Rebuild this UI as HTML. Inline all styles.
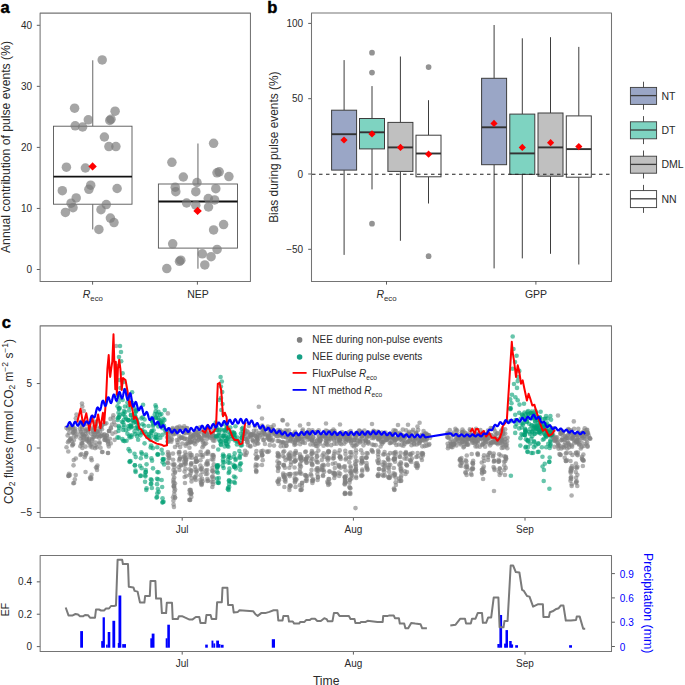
<!DOCTYPE html>
<html><head><meta charset="utf-8"><style>
html,body{margin:0;padding:0;background:#fff;width:685px;height:685px;overflow:hidden}
svg{display:block}
text{font-family:"Liberation Sans",sans-serif}
</style></head><body>
<svg width="685" height="685" viewBox="0 0 685 685">
<rect width="685" height="685" fill="#fff"/>
<text x="0.6" y="12.6" font-size="16.5" font-weight="bold" stroke="#000" stroke-width="0.45" font-family="Liberation Sans, sans-serif" fill="#000">a</text>
<line x1="36.8" x2="40.1" y1="269.5" y2="269.5" stroke="#333" stroke-width="0.8"/>
<text x="32" y="273" font-size="10" text-anchor="end" font-family="Liberation Sans, sans-serif" fill="#2a2a2a">0</text>
<line x1="36.8" x2="40.1" y1="208.45" y2="208.45" stroke="#333" stroke-width="0.8"/>
<text x="32" y="211.95" font-size="10" text-anchor="end" font-family="Liberation Sans, sans-serif" fill="#2a2a2a">10</text>
<line x1="36.8" x2="40.1" y1="147.4" y2="147.4" stroke="#333" stroke-width="0.8"/>
<text x="32" y="150.9" font-size="10" text-anchor="end" font-family="Liberation Sans, sans-serif" fill="#2a2a2a">20</text>
<line x1="36.8" x2="40.1" y1="86.35" y2="86.35" stroke="#333" stroke-width="0.8"/>
<text x="32" y="89.85" font-size="10" text-anchor="end" font-family="Liberation Sans, sans-serif" fill="#2a2a2a">30</text>
<line x1="36.8" x2="40.1" y1="25.3" y2="25.3" stroke="#333" stroke-width="0.8"/>
<text x="32" y="28.8" font-size="10" text-anchor="end" font-family="Liberation Sans, sans-serif" fill="#2a2a2a">40</text>
<line x1="92.75" x2="92.75" y1="60.3" y2="126.2" stroke="#555" stroke-width="0.9"/>
<line x1="92.75" x2="92.75" y1="204.2" y2="229.4" stroke="#555" stroke-width="0.9"/>
<rect x="53.5" y="126.2" width="78.5" height="78" fill="#fff" stroke="#555" stroke-width="0.9"/>
<line x1="53.5" x2="132" y1="176.6" y2="176.6" stroke="#111" stroke-width="1.9"/>
<line x1="197.95" x2="197.95" y1="143.5" y2="184" stroke="#555" stroke-width="0.9"/>
<line x1="197.95" x2="197.95" y1="248.1" y2="268.7" stroke="#555" stroke-width="0.9"/>
<rect x="158.4" y="184" width="79.1" height="64.1" fill="#fff" stroke="#555" stroke-width="0.9"/>
<line x1="158.4" x2="237.5" y1="201.5" y2="201.5" stroke="#111" stroke-width="1.9"/>
<g fill="#7a7a7a" fill-opacity="0.68">
<circle cx="102.2" cy="59.9" r="4.75"/>
<circle cx="74.6" cy="108.2" r="4.75"/>
<circle cx="115.1" cy="111.2" r="4.75"/>
<circle cx="88.3" cy="119.8" r="4.75"/>
<circle cx="109.8" cy="120.4" r="4.75"/>
<circle cx="111" cy="119.2" r="4.75"/>
<circle cx="75.2" cy="125.8" r="4.75"/>
<circle cx="82.6" cy="127" r="4.75"/>
<circle cx="104.4" cy="137" r="4.75"/>
<circle cx="108.9" cy="146.6" r="4.75"/>
<circle cx="115.9" cy="146.6" r="4.75"/>
<circle cx="66.4" cy="167.2" r="4.75"/>
<circle cx="85.4" cy="168" r="4.75"/>
<circle cx="90.7" cy="185.2" r="4.75"/>
<circle cx="88.9" cy="189.3" r="4.75"/>
<circle cx="62.3" cy="190.7" r="4.75"/>
<circle cx="117.1" cy="188.5" r="4.75"/>
<circle cx="76.2" cy="197.9" r="4.75"/>
<circle cx="71.1" cy="203.2" r="4.75"/>
<circle cx="73" cy="207.7" r="4.75"/>
<circle cx="106.3" cy="204.6" r="4.75"/>
<circle cx="101" cy="209.7" r="4.75"/>
<circle cx="65.4" cy="212.4" r="4.75"/>
<circle cx="110.4" cy="218.1" r="4.75"/>
<circle cx="114" cy="222.6" r="4.75"/>
<circle cx="98.9" cy="229.4" r="4.75"/>
<circle cx="213.6" cy="143.3" r="4.75"/>
<circle cx="171.9" cy="162.3" r="4.75"/>
<circle cx="217" cy="172.8" r="4.75"/>
<circle cx="219.2" cy="171.8" r="4.75"/>
<circle cx="228.9" cy="176.6" r="4.75"/>
<circle cx="183.3" cy="177" r="4.75"/>
<circle cx="197" cy="182.5" r="4.75"/>
<circle cx="175.2" cy="187.2" r="4.75"/>
<circle cx="175.8" cy="191.7" r="4.75"/>
<circle cx="215.8" cy="188.7" r="4.75"/>
<circle cx="195.8" cy="191.7" r="4.75"/>
<circle cx="208.3" cy="198.5" r="4.75"/>
<circle cx="214.6" cy="199.9" r="4.75"/>
<circle cx="186.6" cy="203" r="4.75"/>
<circle cx="195.8" cy="205.2" r="4.75"/>
<circle cx="208.5" cy="207" r="4.75"/>
<circle cx="223.6" cy="224.6" r="4.75"/>
<circle cx="213.6" cy="229.9" r="4.75"/>
<circle cx="172.7" cy="243.8" r="4.75"/>
<circle cx="217.1" cy="249.4" r="4.75"/>
<circle cx="202.3" cy="253.8" r="4.75"/>
<circle cx="211.1" cy="256.7" r="4.75"/>
<circle cx="179.5" cy="261.3" r="4.75"/>
<circle cx="180.8" cy="260.2" r="4.75"/>
<circle cx="204.8" cy="264.9" r="4.75"/>
<circle cx="166.8" cy="268.6" r="4.75"/>
</g>
<path d="M92.6 162.2L96.8 166.4L92.6 170.6L88.4 166.4Z" fill="#ff0000"/>
<path d="M197.6 206.7L201.8 210.9L197.6 215.1L193.4 210.9Z" fill="#ff0000"/>
<rect x="40.1" y="13.1" width="210.35" height="268.35" fill="none" stroke="#747474" stroke-width="1.05" stroke-linejoin="round"/>
<line x1="92.6" x2="92.6" y1="281.45" y2="284.65" stroke="#333" stroke-width="0.8"/>
<line x1="197.4" x2="197.4" y1="281.45" y2="284.65" stroke="#333" stroke-width="0.8"/>
<text x="92.8" y="297.8" font-size="10.5" text-anchor="middle" font-family="Liberation Sans, sans-serif" fill="#2a2a2a"><tspan font-style="italic">R</tspan><tspan font-size="7.8" dy="3.3">eco</tspan></text>
<text x="198" y="297.8" font-size="10.5" text-anchor="middle" font-family="Liberation Sans, sans-serif" fill="#2a2a2a">NEP</text>
<text transform="translate(9.9,147) rotate(-90)" font-size="12.2" text-anchor="middle" font-family="Liberation Sans, sans-serif" fill="#2a2a2a">Annual contribution of pulse events (%)</text>
<text x="267.3" y="12.8" font-size="16.5" font-weight="bold" stroke="#000" stroke-width="0.45" font-family="Liberation Sans, sans-serif" fill="#000">b</text>
<line x1="308.2" x2="311.5" y1="249.3" y2="249.3" stroke="#333" stroke-width="0.8"/>
<text x="303.1" y="252.8" font-size="10" text-anchor="end" font-family="Liberation Sans, sans-serif" fill="#2a2a2a">−50</text>
<line x1="308.2" x2="311.5" y1="174" y2="174" stroke="#333" stroke-width="0.8"/>
<text x="303.1" y="177.5" font-size="10" text-anchor="end" font-family="Liberation Sans, sans-serif" fill="#2a2a2a">0</text>
<line x1="308.2" x2="311.5" y1="98.7" y2="98.7" stroke="#333" stroke-width="0.8"/>
<text x="303.1" y="102.2" font-size="10" text-anchor="end" font-family="Liberation Sans, sans-serif" fill="#2a2a2a">50</text>
<line x1="308.2" x2="311.5" y1="23.4" y2="23.4" stroke="#333" stroke-width="0.8"/>
<text x="303.1" y="26.9" font-size="10" text-anchor="end" font-family="Liberation Sans, sans-serif" fill="#2a2a2a">100</text>
<line x1="344.1" x2="344.1" y1="60.1" y2="110.2" stroke="#3d3d3d" stroke-width="1.0"/>
<line x1="344.1" x2="344.1" y1="170.1" y2="254.9" stroke="#3d3d3d" stroke-width="1.0"/>
<rect x="331.6" y="110.2" width="25" height="59.9" fill="#9aa6c6" stroke="#3d3d3d" stroke-width="1.0"/>
<line x1="331.6" x2="356.6" y1="134.2" y2="134.2" stroke="#333" stroke-width="1.9"/>
<line x1="372" x2="372" y1="86.1" y2="118.5" stroke="#3d3d3d" stroke-width="1.0"/>
<line x1="372" x2="372" y1="148.9" y2="189.4" stroke="#3d3d3d" stroke-width="1.0"/>
<rect x="359.5" y="118.5" width="25" height="30.4" fill="#7ed3c1" stroke="#3d3d3d" stroke-width="1.0"/>
<line x1="359.5" x2="384.5" y1="132.3" y2="132.3" stroke="#333" stroke-width="1.9"/>
<line x1="400.4" x2="400.4" y1="56.5" y2="122.4" stroke="#3d3d3d" stroke-width="1.0"/>
<line x1="400.4" x2="400.4" y1="171.4" y2="240.8" stroke="#3d3d3d" stroke-width="1.0"/>
<rect x="387.9" y="122.4" width="25" height="49" fill="#c0c0c0" stroke="#3d3d3d" stroke-width="1.0"/>
<line x1="387.9" x2="412.9" y1="147.4" y2="147.4" stroke="#333" stroke-width="1.9"/>
<line x1="428.5" x2="428.5" y1="100.2" y2="135.2" stroke="#3d3d3d" stroke-width="1.0"/>
<line x1="428.5" x2="428.5" y1="176.8" y2="203.5" stroke="#3d3d3d" stroke-width="1.0"/>
<rect x="416" y="135.2" width="25" height="41.6" fill="#ffffff" stroke="#3d3d3d" stroke-width="1.0"/>
<line x1="416" x2="441" y1="153.5" y2="153.5" stroke="#333" stroke-width="1.9"/>
<line x1="494.1" x2="494.1" y1="25" y2="78.3" stroke="#3d3d3d" stroke-width="1.0"/>
<line x1="494.1" x2="494.1" y1="164.7" y2="268.4" stroke="#3d3d3d" stroke-width="1.0"/>
<rect x="481.6" y="78.3" width="25" height="86.4" fill="#9aa6c6" stroke="#3d3d3d" stroke-width="1.0"/>
<line x1="481.6" x2="506.6" y1="127.3" y2="127.3" stroke="#333" stroke-width="1.9"/>
<line x1="522.3" x2="522.3" y1="38.3" y2="114.1" stroke="#3d3d3d" stroke-width="1.0"/>
<line x1="522.3" x2="522.3" y1="174.4" y2="258.4" stroke="#3d3d3d" stroke-width="1.0"/>
<rect x="509.8" y="114.1" width="25" height="60.3" fill="#7ed3c1" stroke="#3d3d3d" stroke-width="1.0"/>
<line x1="509.8" x2="534.8" y1="153.4" y2="153.4" stroke="#333" stroke-width="1.9"/>
<line x1="550.5" x2="550.5" y1="37.2" y2="113" stroke="#3d3d3d" stroke-width="1.0"/>
<line x1="550.5" x2="550.5" y1="176.2" y2="253.8" stroke="#3d3d3d" stroke-width="1.0"/>
<rect x="538" y="113" width="25" height="63.2" fill="#c0c0c0" stroke="#3d3d3d" stroke-width="1.0"/>
<line x1="538" x2="563" y1="147.4" y2="147.4" stroke="#333" stroke-width="1.9"/>
<line x1="578.8" x2="578.8" y1="46.9" y2="115.9" stroke="#3d3d3d" stroke-width="1.0"/>
<line x1="578.8" x2="578.8" y1="177.2" y2="264.5" stroke="#3d3d3d" stroke-width="1.0"/>
<rect x="566.3" y="115.9" width="25" height="61.3" fill="#ffffff" stroke="#3d3d3d" stroke-width="1.0"/>
<line x1="566.3" x2="591.3" y1="149.1" y2="149.1" stroke="#333" stroke-width="1.9"/>
<g fill="#939393">
<circle cx="372" cy="52.7" r="2.85"/>
<circle cx="372" cy="72.6" r="2.85"/>
<circle cx="372" cy="223.7" r="2.85"/>
<circle cx="428.6" cy="67.1" r="2.85"/>
<circle cx="428.6" cy="256.2" r="2.85"/>
</g>
<path d="M344 136.4L347.6 140L344 143.6L340.4 140Z" fill="#ff0000"/>
<path d="M372 130.3L375.6 133.9L372 137.5L368.4 133.9Z" fill="#ff0000"/>
<path d="M400.5 143.8L404.1 147.4L400.5 151L396.9 147.4Z" fill="#ff0000"/>
<path d="M428.6 150.6L432.2 154.2L428.6 157.8L425 154.2Z" fill="#ff0000"/>
<path d="M494 119.8L497.6 123.4L494 127L490.4 123.4Z" fill="#ff0000"/>
<path d="M522.3 143.8L525.9 147.4L522.3 151L518.7 147.4Z" fill="#ff0000"/>
<path d="M550.6 139.1L554.2 142.7L550.6 146.3L547 142.7Z" fill="#ff0000"/>
<path d="M578.8 143L582.4 146.6L578.8 150.2L575.2 146.6Z" fill="#ff0000"/>
<line x1="311.5" x2="611.5" y1="174.2" y2="174.2" stroke="#222" stroke-width="1.15" stroke-dasharray="3.5,3.5" stroke-dashoffset="6.5"/>
<rect x="311.5" y="13" width="300" height="268.4" fill="none" stroke="#747474" stroke-width="1.05" stroke-linejoin="round"/>
<line x1="386.5" x2="386.5" y1="281.4" y2="284.6" stroke="#333" stroke-width="0.8"/>
<line x1="535.9" x2="535.9" y1="281.4" y2="284.6" stroke="#333" stroke-width="0.8"/>
<text x="386.5" y="297.8" font-size="10.5" text-anchor="middle" font-family="Liberation Sans, sans-serif" fill="#2a2a2a"><tspan font-style="italic">R</tspan><tspan font-size="7.8" dy="3.3">eco</tspan></text>
<text x="536" y="297.8" font-size="10.5" text-anchor="middle" font-family="Liberation Sans, sans-serif" fill="#2a2a2a">GPP</text>
<text transform="translate(278.2,147.2) rotate(-90)" font-size="11.9" text-anchor="middle" font-family="Liberation Sans, sans-serif" fill="#2a2a2a">Bias during pulse events (%)</text>
<line x1="643.5" x2="643.5" y1="81.7" y2="109.7" stroke="#3d3d3d" stroke-width="0.9"/>
<rect x="630.4" y="87.4" width="26.2" height="17" fill="#9aa6c6" stroke="#3d3d3d" stroke-width="0.9"/>
<line x1="630.4" x2="656.6" y1="95.6" y2="95.6" stroke="#3d3d3d" stroke-width="1.3"/>
<text x="661.5" y="99.6" font-size="10.5" font-family="Liberation Sans, sans-serif" fill="#2a2a2a">NT</text>
<line x1="643.5" x2="643.5" y1="116.1" y2="144.1" stroke="#3d3d3d" stroke-width="0.9"/>
<rect x="630.4" y="121.8" width="26.2" height="17" fill="#7ed3c1" stroke="#3d3d3d" stroke-width="0.9"/>
<line x1="630.4" x2="656.6" y1="130" y2="130" stroke="#3d3d3d" stroke-width="1.3"/>
<text x="661.5" y="134" font-size="10.5" font-family="Liberation Sans, sans-serif" fill="#2a2a2a">DT</text>
<line x1="643.5" x2="643.5" y1="150.5" y2="178.5" stroke="#3d3d3d" stroke-width="0.9"/>
<rect x="630.4" y="156.2" width="26.2" height="17" fill="#c0c0c0" stroke="#3d3d3d" stroke-width="0.9"/>
<line x1="630.4" x2="656.6" y1="164.4" y2="164.4" stroke="#3d3d3d" stroke-width="1.3"/>
<text x="661.5" y="168.4" font-size="10.5" font-family="Liberation Sans, sans-serif" fill="#2a2a2a">DML</text>
<line x1="643.5" x2="643.5" y1="184.9" y2="212.9" stroke="#3d3d3d" stroke-width="0.9"/>
<rect x="630.4" y="190.6" width="26.2" height="17" fill="#ffffff" stroke="#3d3d3d" stroke-width="0.9"/>
<line x1="630.4" x2="656.6" y1="198.8" y2="198.8" stroke="#3d3d3d" stroke-width="1.3"/>
<text x="661.5" y="202.8" font-size="10.5" font-family="Liberation Sans, sans-serif" fill="#2a2a2a">NN</text>
<text x="1.7" y="328.4" font-size="16.5" font-weight="bold" stroke="#000" stroke-width="0.45" font-family="Liberation Sans, sans-serif" fill="#000">c</text>
<line x1="36.8" x2="40.15" y1="512.45" y2="512.45" stroke="#333" stroke-width="0.8"/>
<text x="32" y="515.95" font-size="10" text-anchor="end" font-family="Liberation Sans, sans-serif" fill="#2a2a2a">−5</text>
<line x1="36.8" x2="40.15" y1="448" y2="448" stroke="#333" stroke-width="0.8"/>
<text x="32" y="451.5" font-size="10" text-anchor="end" font-family="Liberation Sans, sans-serif" fill="#2a2a2a">0</text>
<line x1="36.8" x2="40.15" y1="383.55" y2="383.55" stroke="#333" stroke-width="0.8"/>
<text x="32" y="387.05" font-size="10" text-anchor="end" font-family="Liberation Sans, sans-serif" fill="#2a2a2a">5</text>
<line x1="182.2" x2="182.2" y1="517.4" y2="520.6" stroke="#333" stroke-width="0.8"/>
<text x="182.2" y="532.8" font-size="10" text-anchor="middle" font-family="Liberation Sans, sans-serif" fill="#2a2a2a">Jul</text>
<line x1="353.4" x2="353.4" y1="517.4" y2="520.6" stroke="#333" stroke-width="0.8"/>
<text x="353.4" y="532.8" font-size="10" text-anchor="middle" font-family="Liberation Sans, sans-serif" fill="#2a2a2a">Aug</text>
<line x1="525" x2="525" y1="517.4" y2="520.6" stroke="#333" stroke-width="0.8"/>
<text x="525" y="532.8" font-size="10" text-anchor="middle" font-family="Liberation Sans, sans-serif" fill="#2a2a2a">Sep</text>
<text transform="translate(12.5,421.5) rotate(-90)" font-size="11.9" text-anchor="middle" font-family="Liberation Sans, sans-serif" fill="#2a2a2a">CO<tspan font-size="8.5" dy="2.6">2</tspan><tspan dy="-2.6"> fluxes (mmol CO</tspan><tspan font-size="8.5" dy="2.6">2</tspan><tspan dy="-2.6"> m</tspan><tspan font-size="8.5" dy="-5">−2</tspan><tspan dy="5"> s</tspan><tspan font-size="8.5" dy="-5">−1</tspan><tspan dy="5">)</tspan></text>
<g fill="#7f7f7f" fill-opacity="0.62">
<circle cx="68.78" cy="440.98" r="2.3"/>
<circle cx="69.08" cy="433.01" r="2.3"/>
<circle cx="69.76" cy="427.16" r="2.3"/>
<circle cx="67.95" cy="442.29" r="2.3"/>
<circle cx="66.51" cy="447.19" r="2.3"/>
<circle cx="69.89" cy="428.62" r="2.3"/>
<circle cx="66.36" cy="427.87" r="2.3"/>
<circle cx="67.62" cy="435.4" r="2.3"/>
<circle cx="70.93" cy="438.11" r="2.3"/>
<circle cx="69.94" cy="439.67" r="2.3"/>
<circle cx="71.78" cy="441.28" r="2.3"/>
<circle cx="68.02" cy="429.13" r="2.3"/>
<circle cx="70.51" cy="439.18" r="2.3"/>
<circle cx="69.94" cy="474.97" r="2.3"/>
<circle cx="68.29" cy="451.51" r="2.3"/>
<circle cx="68.96" cy="473.8" r="2.3"/>
<circle cx="68.77" cy="475.52" r="2.3"/>
<circle cx="68.61" cy="476" r="2.3"/>
<circle cx="75.27" cy="430.74" r="2.3"/>
<circle cx="72.28" cy="445.53" r="2.3"/>
<circle cx="72.45" cy="426.01" r="2.3"/>
<circle cx="76.2" cy="436.58" r="2.3"/>
<circle cx="72.85" cy="427.27" r="2.3"/>
<circle cx="75.35" cy="431.92" r="2.3"/>
<circle cx="73.29" cy="444.09" r="2.3"/>
<circle cx="73.48" cy="429.27" r="2.3"/>
<circle cx="73.98" cy="440.05" r="2.3"/>
<circle cx="72.35" cy="429.33" r="2.3"/>
<circle cx="73.23" cy="432.22" r="2.3"/>
<circle cx="73.44" cy="432.41" r="2.3"/>
<circle cx="73.14" cy="433.29" r="2.3"/>
<circle cx="74.3" cy="436.09" r="2.3"/>
<circle cx="74.97" cy="428.57" r="2.3"/>
<circle cx="72.65" cy="444.45" r="2.3"/>
<circle cx="73.75" cy="460.11" r="2.3"/>
<circle cx="75.71" cy="475.05" r="2.3"/>
<circle cx="75.73" cy="458.5" r="2.3"/>
<circle cx="74.83" cy="479.41" r="2.3"/>
<circle cx="73.53" cy="465.35" r="2.3"/>
<circle cx="74.1" cy="483" r="2.3"/>
<circle cx="82.63" cy="434.46" r="2.3"/>
<circle cx="81.87" cy="427.56" r="2.3"/>
<circle cx="81.3" cy="432.03" r="2.3"/>
<circle cx="82.03" cy="428.85" r="2.3"/>
<circle cx="82.38" cy="425" r="2.3"/>
<circle cx="79.78" cy="428.63" r="2.3"/>
<circle cx="80.48" cy="438.54" r="2.3"/>
<circle cx="82.73" cy="440.35" r="2.3"/>
<circle cx="80.55" cy="421.74" r="2.3"/>
<circle cx="82.34" cy="447.96" r="2.3"/>
<circle cx="77.44" cy="434.5" r="2.3"/>
<circle cx="81.35" cy="436.04" r="2.3"/>
<circle cx="80.33" cy="446.21" r="2.3"/>
<circle cx="81.39" cy="443.21" r="2.3"/>
<circle cx="82.37" cy="443.2" r="2.3"/>
<circle cx="82.13" cy="444.16" r="2.3"/>
<circle cx="80.48" cy="431.71" r="2.3"/>
<circle cx="80.54" cy="423.25" r="2.3"/>
<circle cx="81.36" cy="454.1" r="2.3"/>
<circle cx="80.46" cy="455" r="2.3"/>
<circle cx="86.86" cy="439.77" r="2.3"/>
<circle cx="85.27" cy="424.26" r="2.3"/>
<circle cx="86.98" cy="436.61" r="2.3"/>
<circle cx="84.11" cy="435.43" r="2.3"/>
<circle cx="86.23" cy="428.91" r="2.3"/>
<circle cx="82.9" cy="433.89" r="2.3"/>
<circle cx="83.78" cy="439.82" r="2.3"/>
<circle cx="85.28" cy="430.83" r="2.3"/>
<circle cx="86.52" cy="438.7" r="2.3"/>
<circle cx="87.89" cy="432.38" r="2.3"/>
<circle cx="86.06" cy="430.54" r="2.3"/>
<circle cx="87.46" cy="441.2" r="2.3"/>
<circle cx="88.08" cy="430.37" r="2.3"/>
<circle cx="84.36" cy="436.04" r="2.3"/>
<circle cx="85.57" cy="446.59" r="2.3"/>
<circle cx="85.34" cy="434.21" r="2.3"/>
<circle cx="83.07" cy="437.41" r="2.3"/>
<circle cx="84.55" cy="422.52" r="2.3"/>
<circle cx="85.48" cy="455.15" r="2.3"/>
<circle cx="86.46" cy="452.98" r="2.3"/>
<circle cx="84.67" cy="457.13" r="2.3"/>
<circle cx="85.94" cy="453.42" r="2.3"/>
<circle cx="85.55" cy="472" r="2.3"/>
<circle cx="91.84" cy="443.8" r="2.3"/>
<circle cx="93.65" cy="427.38" r="2.3"/>
<circle cx="90.98" cy="428.52" r="2.3"/>
<circle cx="92.3" cy="430.34" r="2.3"/>
<circle cx="92.21" cy="440.5" r="2.3"/>
<circle cx="90.53" cy="446.47" r="2.3"/>
<circle cx="88.84" cy="441.5" r="2.3"/>
<circle cx="89.08" cy="442.73" r="2.3"/>
<circle cx="90.44" cy="444.63" r="2.3"/>
<circle cx="93.57" cy="433.56" r="2.3"/>
<circle cx="92.35" cy="439.32" r="2.3"/>
<circle cx="92.32" cy="447.39" r="2.3"/>
<circle cx="93.76" cy="437" r="2.3"/>
<circle cx="93.38" cy="431.41" r="2.3"/>
<circle cx="88.82" cy="439.8" r="2.3"/>
<circle cx="91.05" cy="433.79" r="2.3"/>
<circle cx="92.78" cy="437.16" r="2.3"/>
<circle cx="89.14" cy="438.74" r="2.3"/>
<circle cx="91.61" cy="474.76" r="2.3"/>
<circle cx="91.1" cy="477.56" r="2.3"/>
<circle cx="90.04" cy="477.65" r="2.3"/>
<circle cx="91.19" cy="458.37" r="2.3"/>
<circle cx="91.71" cy="460.19" r="2.3"/>
<circle cx="91.26" cy="479" r="2.3"/>
<circle cx="96.77" cy="436.68" r="2.3"/>
<circle cx="95.6" cy="445.44" r="2.3"/>
<circle cx="95.03" cy="448.12" r="2.3"/>
<circle cx="96.77" cy="431.32" r="2.3"/>
<circle cx="96.66" cy="421.78" r="2.3"/>
<circle cx="99.23" cy="437.82" r="2.3"/>
<circle cx="96.99" cy="431.6" r="2.3"/>
<circle cx="96.85" cy="447.32" r="2.3"/>
<circle cx="95.37" cy="428.85" r="2.3"/>
<circle cx="98.38" cy="434.34" r="2.3"/>
<circle cx="95.63" cy="442.6" r="2.3"/>
<circle cx="94.59" cy="421.64" r="2.3"/>
<circle cx="94.95" cy="435.13" r="2.3"/>
<circle cx="95.84" cy="423.94" r="2.3"/>
<circle cx="97.91" cy="431.65" r="2.3"/>
<circle cx="94.97" cy="432.38" r="2.3"/>
<circle cx="96.16" cy="426.1" r="2.3"/>
<circle cx="97.36" cy="435.83" r="2.3"/>
<circle cx="96.93" cy="467.4" r="2.3"/>
<circle cx="95.94" cy="467.49" r="2.3"/>
<circle cx="97.45" cy="465.46" r="2.3"/>
<circle cx="97.04" cy="470" r="2.3"/>
<circle cx="101.14" cy="435.97" r="2.3"/>
<circle cx="104.91" cy="423.75" r="2.3"/>
<circle cx="100.72" cy="427.27" r="2.3"/>
<circle cx="99.94" cy="431.81" r="2.3"/>
<circle cx="103.76" cy="435.23" r="2.3"/>
<circle cx="99.5" cy="442.31" r="2.3"/>
<circle cx="104.75" cy="437.69" r="2.3"/>
<circle cx="102.18" cy="425.29" r="2.3"/>
<circle cx="99.79" cy="428.25" r="2.3"/>
<circle cx="102.24" cy="424.64" r="2.3"/>
<circle cx="100.53" cy="447.73" r="2.3"/>
<circle cx="104.52" cy="434.19" r="2.3"/>
<circle cx="101.95" cy="429.15" r="2.3"/>
<circle cx="101.98" cy="434.43" r="2.3"/>
<circle cx="99.47" cy="443.64" r="2.3"/>
<circle cx="100.4" cy="436.02" r="2.3"/>
<circle cx="100.48" cy="427.39" r="2.3"/>
<circle cx="104.33" cy="439.73" r="2.3"/>
<circle cx="102.5" cy="451.93" r="2.3"/>
<circle cx="102.06" cy="452" r="2.3"/>
<circle cx="108.23" cy="444.13" r="2.3"/>
<circle cx="106.35" cy="440.1" r="2.3"/>
<circle cx="109.21" cy="430.95" r="2.3"/>
<circle cx="109.87" cy="438.76" r="2.3"/>
<circle cx="109.16" cy="430.96" r="2.3"/>
<circle cx="108.91" cy="430.94" r="2.3"/>
<circle cx="104.98" cy="437.05" r="2.3"/>
<circle cx="106.2" cy="437.98" r="2.3"/>
<circle cx="106.78" cy="435.38" r="2.3"/>
<circle cx="107.86" cy="442.17" r="2.3"/>
<circle cx="108.79" cy="446.46" r="2.3"/>
<circle cx="105.05" cy="439.95" r="2.3"/>
<circle cx="106.34" cy="423.32" r="2.3"/>
<circle cx="106.99" cy="435.61" r="2.3"/>
<circle cx="107.96" cy="440.72" r="2.3"/>
<circle cx="108.04" cy="452.99" r="2.3"/>
<circle cx="107.99" cy="453" r="2.3"/>
<circle cx="110.86" cy="427.66" r="2.3"/>
<circle cx="115.57" cy="425.29" r="2.3"/>
<circle cx="113.18" cy="417.7" r="2.3"/>
<circle cx="115.66" cy="432.31" r="2.3"/>
<circle cx="112.46" cy="433.63" r="2.3"/>
<circle cx="112.01" cy="424.59" r="2.3"/>
<circle cx="110.52" cy="418.89" r="2.3"/>
<circle cx="114.61" cy="439.87" r="2.3"/>
<circle cx="110.72" cy="443.39" r="2.3"/>
<circle cx="110.85" cy="428.46" r="2.3"/>
<circle cx="169.23" cy="436.94" r="2.3"/>
<circle cx="170.41" cy="440.51" r="2.3"/>
<circle cx="167.81" cy="433.77" r="2.3"/>
<circle cx="169.95" cy="431.11" r="2.3"/>
<circle cx="168.67" cy="429.81" r="2.3"/>
<circle cx="168.22" cy="441.56" r="2.3"/>
<circle cx="169.39" cy="429.71" r="2.3"/>
<circle cx="167.75" cy="437.12" r="2.3"/>
<circle cx="167.16" cy="430.11" r="2.3"/>
<circle cx="167.81" cy="441.45" r="2.3"/>
<circle cx="167.12" cy="437.54" r="2.3"/>
<circle cx="167.63" cy="441.64" r="2.3"/>
<circle cx="170.65" cy="433.12" r="2.3"/>
<circle cx="166.1" cy="432.48" r="2.3"/>
<circle cx="169.89" cy="430.16" r="2.3"/>
<circle cx="166.96" cy="433.58" r="2.3"/>
<circle cx="167.91" cy="452.02" r="2.3"/>
<circle cx="168.51" cy="458.5" r="2.3"/>
<circle cx="168.94" cy="453.74" r="2.3"/>
<circle cx="168.99" cy="455.8" r="2.3"/>
<circle cx="167.48" cy="462.49" r="2.3"/>
<circle cx="167.83" cy="454.88" r="2.3"/>
<circle cx="168.15" cy="463.26" r="2.3"/>
<circle cx="169.35" cy="457.88" r="2.3"/>
<circle cx="168.13" cy="468" r="2.3"/>
<circle cx="172.77" cy="427.95" r="2.3"/>
<circle cx="171.3" cy="438.02" r="2.3"/>
<circle cx="175.62" cy="431.86" r="2.3"/>
<circle cx="174.86" cy="429.97" r="2.3"/>
<circle cx="174.96" cy="446.97" r="2.3"/>
<circle cx="175.95" cy="433.31" r="2.3"/>
<circle cx="173.52" cy="430.1" r="2.3"/>
<circle cx="172.97" cy="430.04" r="2.3"/>
<circle cx="173.38" cy="434.57" r="2.3"/>
<circle cx="172.48" cy="433.79" r="2.3"/>
<circle cx="171.99" cy="439.43" r="2.3"/>
<circle cx="175.03" cy="433.69" r="2.3"/>
<circle cx="171.51" cy="431.33" r="2.3"/>
<circle cx="174.39" cy="431.66" r="2.3"/>
<circle cx="171.29" cy="441.76" r="2.3"/>
<circle cx="172.61" cy="429.28" r="2.3"/>
<circle cx="174.22" cy="477.54" r="2.3"/>
<circle cx="173.56" cy="504.48" r="2.3"/>
<circle cx="175.07" cy="483.48" r="2.3"/>
<circle cx="174.25" cy="494.32" r="2.3"/>
<circle cx="173.69" cy="485.96" r="2.3"/>
<circle cx="173.34" cy="474.56" r="2.3"/>
<circle cx="174.91" cy="497.54" r="2.3"/>
<circle cx="174.98" cy="472.69" r="2.3"/>
<circle cx="172.97" cy="453.62" r="2.3"/>
<circle cx="173.42" cy="479.64" r="2.3"/>
<circle cx="175.16" cy="471.5" r="2.3"/>
<circle cx="173.12" cy="459.82" r="2.3"/>
<circle cx="174.39" cy="464.18" r="2.3"/>
<circle cx="172.62" cy="464.52" r="2.3"/>
<circle cx="173.64" cy="481.68" r="2.3"/>
<circle cx="173.9" cy="464.78" r="2.3"/>
<circle cx="174.05" cy="487.58" r="2.3"/>
<circle cx="174.08" cy="486.15" r="2.3"/>
<circle cx="175.14" cy="497.63" r="2.3"/>
<circle cx="173.52" cy="470.01" r="2.3"/>
<circle cx="173.43" cy="500.69" r="2.3"/>
<circle cx="174.43" cy="491.23" r="2.3"/>
<circle cx="175.13" cy="489.6" r="2.3"/>
<circle cx="173.03" cy="497.25" r="2.3"/>
<circle cx="173.9" cy="486" r="2.3"/>
<circle cx="173.58" cy="482.79" r="2.3"/>
<circle cx="174.57" cy="467.36" r="2.3"/>
<circle cx="173.95" cy="507" r="2.3"/>
<circle cx="177.99" cy="430.78" r="2.3"/>
<circle cx="179.52" cy="426.52" r="2.3"/>
<circle cx="177.24" cy="427.59" r="2.3"/>
<circle cx="179.17" cy="436.06" r="2.3"/>
<circle cx="177.58" cy="445.01" r="2.3"/>
<circle cx="176.97" cy="439.99" r="2.3"/>
<circle cx="178.85" cy="430.79" r="2.3"/>
<circle cx="180.63" cy="437.57" r="2.3"/>
<circle cx="181.33" cy="438.05" r="2.3"/>
<circle cx="179" cy="439.33" r="2.3"/>
<circle cx="181.27" cy="427.88" r="2.3"/>
<circle cx="178.76" cy="430.31" r="2.3"/>
<circle cx="177.7" cy="442.56" r="2.3"/>
<circle cx="182.04" cy="437.73" r="2.3"/>
<circle cx="180.17" cy="447.11" r="2.3"/>
<circle cx="176.95" cy="427.72" r="2.3"/>
<circle cx="178.88" cy="452.28" r="2.3"/>
<circle cx="180.72" cy="465.03" r="2.3"/>
<circle cx="179" cy="453.72" r="2.3"/>
<circle cx="179.55" cy="451.99" r="2.3"/>
<circle cx="179.11" cy="460.44" r="2.3"/>
<circle cx="180.22" cy="457.22" r="2.3"/>
<circle cx="178.88" cy="467.02" r="2.3"/>
<circle cx="179.75" cy="458.75" r="2.3"/>
<circle cx="180.69" cy="465.66" r="2.3"/>
<circle cx="179.94" cy="458.7" r="2.3"/>
<circle cx="179.49" cy="470" r="2.3"/>
<circle cx="186.62" cy="428.25" r="2.3"/>
<circle cx="187.35" cy="432" r="2.3"/>
<circle cx="183.99" cy="433.16" r="2.3"/>
<circle cx="185.65" cy="433.16" r="2.3"/>
<circle cx="184.22" cy="426.33" r="2.3"/>
<circle cx="187.13" cy="428" r="2.3"/>
<circle cx="184.87" cy="429.65" r="2.3"/>
<circle cx="186.99" cy="439.05" r="2.3"/>
<circle cx="184.39" cy="438.89" r="2.3"/>
<circle cx="185.64" cy="445.74" r="2.3"/>
<circle cx="187.69" cy="442.92" r="2.3"/>
<circle cx="183.17" cy="428.31" r="2.3"/>
<circle cx="182.61" cy="437.23" r="2.3"/>
<circle cx="185.04" cy="438.45" r="2.3"/>
<circle cx="182.26" cy="443.43" r="2.3"/>
<circle cx="186.26" cy="443.75" r="2.3"/>
<circle cx="186.22" cy="475.68" r="2.3"/>
<circle cx="186.13" cy="454.68" r="2.3"/>
<circle cx="185.49" cy="464.17" r="2.3"/>
<circle cx="186.03" cy="459.39" r="2.3"/>
<circle cx="185.16" cy="452.24" r="2.3"/>
<circle cx="184.67" cy="458.66" r="2.3"/>
<circle cx="185.37" cy="463.13" r="2.3"/>
<circle cx="184.61" cy="477.04" r="2.3"/>
<circle cx="184.58" cy="471.6" r="2.3"/>
<circle cx="186.01" cy="460.3" r="2.3"/>
<circle cx="183.9" cy="461.63" r="2.3"/>
<circle cx="185.59" cy="462.05" r="2.3"/>
<circle cx="185.59" cy="458.16" r="2.3"/>
<circle cx="185.43" cy="468.71" r="2.3"/>
<circle cx="183.94" cy="457.08" r="2.3"/>
<circle cx="184.57" cy="456" r="2.3"/>
<circle cx="183.68" cy="465.07" r="2.3"/>
<circle cx="184.96" cy="483" r="2.3"/>
<circle cx="189.95" cy="441.87" r="2.3"/>
<circle cx="188.85" cy="431.7" r="2.3"/>
<circle cx="191.88" cy="441.01" r="2.3"/>
<circle cx="193.03" cy="437.37" r="2.3"/>
<circle cx="188.7" cy="443.5" r="2.3"/>
<circle cx="189.5" cy="440.16" r="2.3"/>
<circle cx="188.54" cy="433.07" r="2.3"/>
<circle cx="191.27" cy="442.05" r="2.3"/>
<circle cx="192.45" cy="436.12" r="2.3"/>
<circle cx="190.85" cy="442.33" r="2.3"/>
<circle cx="190.22" cy="434.06" r="2.3"/>
<circle cx="189.84" cy="438.08" r="2.3"/>
<circle cx="190.56" cy="436.89" r="2.3"/>
<circle cx="191" cy="437" r="2.3"/>
<circle cx="190.31" cy="441.71" r="2.3"/>
<circle cx="189.45" cy="447.75" r="2.3"/>
<circle cx="191.44" cy="471" r="2.3"/>
<circle cx="191.75" cy="457.64" r="2.3"/>
<circle cx="189.79" cy="475.32" r="2.3"/>
<circle cx="190.87" cy="492.25" r="2.3"/>
<circle cx="191.34" cy="496.98" r="2.3"/>
<circle cx="190.51" cy="490.19" r="2.3"/>
<circle cx="189.35" cy="499.69" r="2.3"/>
<circle cx="191.03" cy="493.7" r="2.3"/>
<circle cx="191.28" cy="463.66" r="2.3"/>
<circle cx="190.57" cy="473.52" r="2.3"/>
<circle cx="189.69" cy="493.48" r="2.3"/>
<circle cx="190.85" cy="465.06" r="2.3"/>
<circle cx="190.62" cy="455.07" r="2.3"/>
<circle cx="190.46" cy="489.68" r="2.3"/>
<circle cx="191.26" cy="463.23" r="2.3"/>
<circle cx="191.18" cy="492.97" r="2.3"/>
<circle cx="191.53" cy="478.14" r="2.3"/>
<circle cx="189.57" cy="490.14" r="2.3"/>
<circle cx="189.44" cy="469.24" r="2.3"/>
<circle cx="190.08" cy="453.28" r="2.3"/>
<circle cx="191.35" cy="493.45" r="2.3"/>
<circle cx="189.65" cy="457.19" r="2.3"/>
<circle cx="191.39" cy="470.35" r="2.3"/>
<circle cx="191.52" cy="481.43" r="2.3"/>
<circle cx="191.75" cy="454.99" r="2.3"/>
<circle cx="190.19" cy="500" r="2.3"/>
<circle cx="196.71" cy="441.46" r="2.3"/>
<circle cx="194.33" cy="434.34" r="2.3"/>
<circle cx="193.32" cy="435.34" r="2.3"/>
<circle cx="194.78" cy="440.68" r="2.3"/>
<circle cx="194.24" cy="437.92" r="2.3"/>
<circle cx="193.95" cy="442.61" r="2.3"/>
<circle cx="195.21" cy="444.24" r="2.3"/>
<circle cx="197.3" cy="432.62" r="2.3"/>
<circle cx="194.05" cy="434.19" r="2.3"/>
<circle cx="197.77" cy="435.56" r="2.3"/>
<circle cx="198.44" cy="435.26" r="2.3"/>
<circle cx="196.44" cy="437.91" r="2.3"/>
<circle cx="197.96" cy="434.92" r="2.3"/>
<circle cx="198.39" cy="440.13" r="2.3"/>
<circle cx="195.72" cy="432.4" r="2.3"/>
<circle cx="195.67" cy="431.03" r="2.3"/>
<circle cx="196.45" cy="471.3" r="2.3"/>
<circle cx="195.77" cy="458.47" r="2.3"/>
<circle cx="197.03" cy="455.27" r="2.3"/>
<circle cx="195.79" cy="458.67" r="2.3"/>
<circle cx="196.83" cy="461.23" r="2.3"/>
<circle cx="196.24" cy="475.73" r="2.3"/>
<circle cx="194.96" cy="467.06" r="2.3"/>
<circle cx="194.93" cy="477.05" r="2.3"/>
<circle cx="195.67" cy="461.86" r="2.3"/>
<circle cx="196.44" cy="472.11" r="2.3"/>
<circle cx="197.03" cy="461.3" r="2.3"/>
<circle cx="194.76" cy="478.57" r="2.3"/>
<circle cx="195.92" cy="469.54" r="2.3"/>
<circle cx="195.91" cy="461.81" r="2.3"/>
<circle cx="195.82" cy="480" r="2.3"/>
<circle cx="202.46" cy="447.29" r="2.3"/>
<circle cx="204.15" cy="433.48" r="2.3"/>
<circle cx="203.33" cy="440.83" r="2.3"/>
<circle cx="204.27" cy="434.36" r="2.3"/>
<circle cx="202.38" cy="438.39" r="2.3"/>
<circle cx="200.8" cy="437.64" r="2.3"/>
<circle cx="199.22" cy="439.26" r="2.3"/>
<circle cx="202.86" cy="442.51" r="2.3"/>
<circle cx="203.04" cy="429.81" r="2.3"/>
<circle cx="203.51" cy="445.5" r="2.3"/>
<circle cx="198.89" cy="436.83" r="2.3"/>
<circle cx="199.37" cy="431.24" r="2.3"/>
<circle cx="201.56" cy="432.37" r="2.3"/>
<circle cx="199.25" cy="436.86" r="2.3"/>
<circle cx="200.12" cy="427.26" r="2.3"/>
<circle cx="201.25" cy="439.72" r="2.3"/>
<circle cx="202.43" cy="455" r="2.3"/>
<circle cx="202.74" cy="456.69" r="2.3"/>
<circle cx="201.28" cy="469.09" r="2.3"/>
<circle cx="202.47" cy="472.01" r="2.3"/>
<circle cx="201.29" cy="483.79" r="2.3"/>
<circle cx="200.62" cy="451.86" r="2.3"/>
<circle cx="202.13" cy="478.92" r="2.3"/>
<circle cx="200.63" cy="475.37" r="2.3"/>
<circle cx="200.29" cy="469.29" r="2.3"/>
<circle cx="201" cy="455.19" r="2.3"/>
<circle cx="201.89" cy="483.87" r="2.3"/>
<circle cx="200.34" cy="479.9" r="2.3"/>
<circle cx="200.42" cy="465.44" r="2.3"/>
<circle cx="200.51" cy="460.24" r="2.3"/>
<circle cx="201.07" cy="482.28" r="2.3"/>
<circle cx="201.92" cy="467.88" r="2.3"/>
<circle cx="202.68" cy="481.2" r="2.3"/>
<circle cx="201.59" cy="485" r="2.3"/>
<circle cx="207.05" cy="433.47" r="2.3"/>
<circle cx="205.93" cy="430.2" r="2.3"/>
<circle cx="206.31" cy="434.02" r="2.3"/>
<circle cx="206.66" cy="434.62" r="2.3"/>
<circle cx="204.62" cy="435.37" r="2.3"/>
<circle cx="205.51" cy="432.24" r="2.3"/>
<circle cx="206.95" cy="438.84" r="2.3"/>
<circle cx="204.33" cy="435.68" r="2.3"/>
<circle cx="207.56" cy="432.78" r="2.3"/>
<circle cx="207.58" cy="434.92" r="2.3"/>
<circle cx="207.53" cy="436.17" r="2.3"/>
<circle cx="208.44" cy="428.14" r="2.3"/>
<circle cx="205.77" cy="434.21" r="2.3"/>
<circle cx="209.03" cy="435.59" r="2.3"/>
<circle cx="204.75" cy="443.96" r="2.3"/>
<circle cx="206.09" cy="443.29" r="2.3"/>
<circle cx="205.89" cy="470.45" r="2.3"/>
<circle cx="205.86" cy="474.03" r="2.3"/>
<circle cx="207.18" cy="469.93" r="2.3"/>
<circle cx="207.4" cy="478.86" r="2.3"/>
<circle cx="208.17" cy="452.16" r="2.3"/>
<circle cx="207.25" cy="473.71" r="2.3"/>
<circle cx="207.66" cy="451.66" r="2.3"/>
<circle cx="207.51" cy="463.84" r="2.3"/>
<circle cx="208.12" cy="480.52" r="2.3"/>
<circle cx="207.77" cy="453.71" r="2.3"/>
<circle cx="207.69" cy="464.5" r="2.3"/>
<circle cx="206.9" cy="462.65" r="2.3"/>
<circle cx="206.05" cy="464.39" r="2.3"/>
<circle cx="207.65" cy="460.94" r="2.3"/>
<circle cx="206.04" cy="453.61" r="2.3"/>
<circle cx="207.37" cy="481" r="2.3"/>
<circle cx="213.48" cy="428.55" r="2.3"/>
<circle cx="211.51" cy="438.32" r="2.3"/>
<circle cx="214.89" cy="436.46" r="2.3"/>
<circle cx="214.43" cy="440.81" r="2.3"/>
<circle cx="209.97" cy="437.57" r="2.3"/>
<circle cx="214.92" cy="437.85" r="2.3"/>
<circle cx="214.1" cy="436" r="2.3"/>
<circle cx="213.03" cy="431.61" r="2.3"/>
<circle cx="211.73" cy="435.99" r="2.3"/>
<circle cx="212.97" cy="433.88" r="2.3"/>
<circle cx="213.02" cy="440.39" r="2.3"/>
<circle cx="213.65" cy="436.91" r="2.3"/>
<circle cx="212.97" cy="435.78" r="2.3"/>
<circle cx="211.88" cy="435.52" r="2.3"/>
<circle cx="213.21" cy="446.74" r="2.3"/>
<circle cx="212.53" cy="467.68" r="2.3"/>
<circle cx="213.22" cy="459.71" r="2.3"/>
<circle cx="212.06" cy="455.13" r="2.3"/>
<circle cx="211.35" cy="481.58" r="2.3"/>
<circle cx="212.74" cy="476.3" r="2.3"/>
<circle cx="212.13" cy="471.08" r="2.3"/>
<circle cx="213.73" cy="456.88" r="2.3"/>
<circle cx="213.35" cy="478.65" r="2.3"/>
<circle cx="213.3" cy="454.97" r="2.3"/>
<circle cx="211.78" cy="459.26" r="2.3"/>
<circle cx="212.85" cy="470.49" r="2.3"/>
<circle cx="213.25" cy="455.79" r="2.3"/>
<circle cx="213.6" cy="472.18" r="2.3"/>
<circle cx="213.05" cy="484.3" r="2.3"/>
<circle cx="213.73" cy="464.42" r="2.3"/>
<circle cx="212.02" cy="477.01" r="2.3"/>
<circle cx="213.15" cy="481.95" r="2.3"/>
<circle cx="212.32" cy="487" r="2.3"/>
<circle cx="248.12" cy="445.22" r="2.3"/>
<circle cx="244.52" cy="438.63" r="2.3"/>
<circle cx="248.23" cy="432.33" r="2.3"/>
<circle cx="244.46" cy="430.76" r="2.3"/>
<circle cx="247.68" cy="438.39" r="2.3"/>
<circle cx="244.3" cy="434.04" r="2.3"/>
<circle cx="244.73" cy="429.48" r="2.3"/>
<circle cx="245.83" cy="439.07" r="2.3"/>
<circle cx="245.21" cy="432.8" r="2.3"/>
<circle cx="248.21" cy="437.3" r="2.3"/>
<circle cx="247.13" cy="442.37" r="2.3"/>
<circle cx="247.9" cy="441.92" r="2.3"/>
<circle cx="245.83" cy="434.05" r="2.3"/>
<circle cx="243.75" cy="435.91" r="2.3"/>
<circle cx="246.93" cy="440.56" r="2.3"/>
<circle cx="246.82" cy="430.93" r="2.3"/>
<circle cx="246.86" cy="452.64" r="2.3"/>
<circle cx="244.53" cy="454.5" r="2.3"/>
<circle cx="245.08" cy="450.82" r="2.3"/>
<circle cx="245.87" cy="455" r="2.3"/>
<circle cx="250.86" cy="435.99" r="2.3"/>
<circle cx="252.55" cy="439.64" r="2.3"/>
<circle cx="251.84" cy="434.23" r="2.3"/>
<circle cx="248.74" cy="425.99" r="2.3"/>
<circle cx="250.6" cy="436.65" r="2.3"/>
<circle cx="253.14" cy="434.94" r="2.3"/>
<circle cx="253.87" cy="430.78" r="2.3"/>
<circle cx="253.22" cy="433.9" r="2.3"/>
<circle cx="253.34" cy="441.49" r="2.3"/>
<circle cx="250.92" cy="434.79" r="2.3"/>
<circle cx="250.18" cy="434.05" r="2.3"/>
<circle cx="250.12" cy="435.01" r="2.3"/>
<circle cx="251.05" cy="435" r="2.3"/>
<circle cx="250.52" cy="446.48" r="2.3"/>
<circle cx="252.78" cy="440.53" r="2.3"/>
<circle cx="250.08" cy="445.9" r="2.3"/>
<circle cx="257.58" cy="434.57" r="2.3"/>
<circle cx="257.57" cy="439.4" r="2.3"/>
<circle cx="259.37" cy="433.01" r="2.3"/>
<circle cx="256.26" cy="430.71" r="2.3"/>
<circle cx="257.35" cy="440.31" r="2.3"/>
<circle cx="255.05" cy="426.32" r="2.3"/>
<circle cx="257.18" cy="443.42" r="2.3"/>
<circle cx="256.12" cy="441.21" r="2.3"/>
<circle cx="258.08" cy="435.52" r="2.3"/>
<circle cx="257.06" cy="437.36" r="2.3"/>
<circle cx="258.27" cy="443.45" r="2.3"/>
<circle cx="255.47" cy="436.26" r="2.3"/>
<circle cx="254.88" cy="444.66" r="2.3"/>
<circle cx="257.62" cy="438.49" r="2.3"/>
<circle cx="254.76" cy="435.13" r="2.3"/>
<circle cx="256.88" cy="437.53" r="2.3"/>
<circle cx="256.34" cy="471" r="2.3"/>
<circle cx="255.62" cy="466.82" r="2.3"/>
<circle cx="257.22" cy="456.96" r="2.3"/>
<circle cx="257.57" cy="465.34" r="2.3"/>
<circle cx="256.13" cy="458.67" r="2.3"/>
<circle cx="256.82" cy="458.21" r="2.3"/>
<circle cx="256.39" cy="451.02" r="2.3"/>
<circle cx="255.81" cy="464.63" r="2.3"/>
<circle cx="257.69" cy="457.19" r="2.3"/>
<circle cx="256.07" cy="470.57" r="2.3"/>
<circle cx="255.73" cy="454.33" r="2.3"/>
<circle cx="256.31" cy="472" r="2.3"/>
<circle cx="263.86" cy="430.82" r="2.3"/>
<circle cx="262.18" cy="425.62" r="2.3"/>
<circle cx="264" cy="429.65" r="2.3"/>
<circle cx="263.36" cy="432.42" r="2.3"/>
<circle cx="264.33" cy="433.66" r="2.3"/>
<circle cx="261.92" cy="437.54" r="2.3"/>
<circle cx="262.84" cy="429.91" r="2.3"/>
<circle cx="260.71" cy="428.3" r="2.3"/>
<circle cx="264.8" cy="434.58" r="2.3"/>
<circle cx="264.05" cy="439.89" r="2.3"/>
<circle cx="260.43" cy="435.15" r="2.3"/>
<circle cx="264.35" cy="429.98" r="2.3"/>
<circle cx="261.49" cy="433.42" r="2.3"/>
<circle cx="263.32" cy="440.23" r="2.3"/>
<circle cx="262.7" cy="429.37" r="2.3"/>
<circle cx="264.92" cy="443.97" r="2.3"/>
<circle cx="261.2" cy="451.41" r="2.3"/>
<circle cx="262.75" cy="450.8" r="2.3"/>
<circle cx="261.65" cy="453.06" r="2.3"/>
<circle cx="262.75" cy="460.17" r="2.3"/>
<circle cx="262.16" cy="455.17" r="2.3"/>
<circle cx="262.4" cy="454.69" r="2.3"/>
<circle cx="261.88" cy="455.66" r="2.3"/>
<circle cx="261.99" cy="465" r="2.3"/>
<circle cx="266.61" cy="428.59" r="2.3"/>
<circle cx="268.27" cy="435.55" r="2.3"/>
<circle cx="267.59" cy="438.19" r="2.3"/>
<circle cx="269.16" cy="439.51" r="2.3"/>
<circle cx="268.82" cy="433.83" r="2.3"/>
<circle cx="267.78" cy="436.68" r="2.3"/>
<circle cx="269.35" cy="429.93" r="2.3"/>
<circle cx="265.12" cy="434.11" r="2.3"/>
<circle cx="268.42" cy="436.66" r="2.3"/>
<circle cx="269.62" cy="440.22" r="2.3"/>
<circle cx="269.11" cy="435.45" r="2.3"/>
<circle cx="269.86" cy="445.17" r="2.3"/>
<circle cx="269.61" cy="438.4" r="2.3"/>
<circle cx="268" cy="437.89" r="2.3"/>
<circle cx="267.85" cy="426.66" r="2.3"/>
<circle cx="270.48" cy="430.92" r="2.3"/>
<circle cx="266.75" cy="451.46" r="2.3"/>
<circle cx="268.9" cy="451.34" r="2.3"/>
<circle cx="267.7" cy="452" r="2.3"/>
<circle cx="274.73" cy="433.31" r="2.3"/>
<circle cx="273.08" cy="439.83" r="2.3"/>
<circle cx="271.72" cy="434.68" r="2.3"/>
<circle cx="273.71" cy="425.39" r="2.3"/>
<circle cx="271.73" cy="429.72" r="2.3"/>
<circle cx="270.92" cy="432.35" r="2.3"/>
<circle cx="275.81" cy="433.12" r="2.3"/>
<circle cx="271.97" cy="440.93" r="2.3"/>
<circle cx="274.71" cy="434.15" r="2.3"/>
<circle cx="271.3" cy="427.13" r="2.3"/>
<circle cx="273.13" cy="432.07" r="2.3"/>
<circle cx="271.95" cy="429.06" r="2.3"/>
<circle cx="274.03" cy="445.58" r="2.3"/>
<circle cx="270.76" cy="438.27" r="2.3"/>
<circle cx="271.91" cy="429.08" r="2.3"/>
<circle cx="273.25" cy="430.28" r="2.3"/>
<circle cx="277.58" cy="440.97" r="2.3"/>
<circle cx="276.4" cy="433.98" r="2.3"/>
<circle cx="280.7" cy="446.16" r="2.3"/>
<circle cx="279.74" cy="436.01" r="2.3"/>
<circle cx="280" cy="434.18" r="2.3"/>
<circle cx="278.16" cy="430.15" r="2.3"/>
<circle cx="281.47" cy="433.57" r="2.3"/>
<circle cx="279.31" cy="432.57" r="2.3"/>
<circle cx="278.8" cy="440.81" r="2.3"/>
<circle cx="277.36" cy="436.32" r="2.3"/>
<circle cx="280.81" cy="435.09" r="2.3"/>
<circle cx="280.7" cy="442.18" r="2.3"/>
<circle cx="280.24" cy="430.38" r="2.3"/>
<circle cx="280.6" cy="431.2" r="2.3"/>
<circle cx="276.2" cy="435.98" r="2.3"/>
<circle cx="277.62" cy="452.94" r="2.3"/>
<circle cx="279.06" cy="478.78" r="2.3"/>
<circle cx="277.6" cy="481.15" r="2.3"/>
<circle cx="278.25" cy="453.83" r="2.3"/>
<circle cx="277.79" cy="456.49" r="2.3"/>
<circle cx="279.16" cy="456.82" r="2.3"/>
<circle cx="277.94" cy="455.72" r="2.3"/>
<circle cx="278.48" cy="468.21" r="2.3"/>
<circle cx="278.98" cy="455.09" r="2.3"/>
<circle cx="278.51" cy="467.27" r="2.3"/>
<circle cx="277.6" cy="466.13" r="2.3"/>
<circle cx="278" cy="470.91" r="2.3"/>
<circle cx="277.52" cy="461.42" r="2.3"/>
<circle cx="279.03" cy="480.18" r="2.3"/>
<circle cx="278.91" cy="463.33" r="2.3"/>
<circle cx="277.84" cy="481.96" r="2.3"/>
<circle cx="279.34" cy="463.04" r="2.3"/>
<circle cx="278.67" cy="484" r="2.3"/>
<circle cx="285.46" cy="430.19" r="2.3"/>
<circle cx="283.13" cy="442.54" r="2.3"/>
<circle cx="285.42" cy="432.66" r="2.3"/>
<circle cx="283.73" cy="442.51" r="2.3"/>
<circle cx="282.18" cy="442.09" r="2.3"/>
<circle cx="286.34" cy="442.8" r="2.3"/>
<circle cx="286.52" cy="445.56" r="2.3"/>
<circle cx="286.19" cy="445.83" r="2.3"/>
<circle cx="282.35" cy="435.41" r="2.3"/>
<circle cx="285.87" cy="437.22" r="2.3"/>
<circle cx="283.34" cy="432.75" r="2.3"/>
<circle cx="284.03" cy="446.28" r="2.3"/>
<circle cx="283.01" cy="437.01" r="2.3"/>
<circle cx="286.25" cy="437.12" r="2.3"/>
<circle cx="281.57" cy="432.31" r="2.3"/>
<circle cx="285.6" cy="460.18" r="2.3"/>
<circle cx="283.19" cy="473.59" r="2.3"/>
<circle cx="283.62" cy="476.49" r="2.3"/>
<circle cx="284.9" cy="467.82" r="2.3"/>
<circle cx="285.45" cy="481.7" r="2.3"/>
<circle cx="283.85" cy="465.57" r="2.3"/>
<circle cx="283.83" cy="464.71" r="2.3"/>
<circle cx="284.22" cy="477.44" r="2.3"/>
<circle cx="283.42" cy="475.36" r="2.3"/>
<circle cx="285.53" cy="478.96" r="2.3"/>
<circle cx="284.62" cy="457.51" r="2.3"/>
<circle cx="283.11" cy="456" r="2.3"/>
<circle cx="283.5" cy="465.32" r="2.3"/>
<circle cx="284.51" cy="477.04" r="2.3"/>
<circle cx="285.54" cy="474.96" r="2.3"/>
<circle cx="283.28" cy="452.16" r="2.3"/>
<circle cx="284.21" cy="451.32" r="2.3"/>
<circle cx="284.8" cy="480.51" r="2.3"/>
<circle cx="284.37" cy="487" r="2.3"/>
<circle cx="291.81" cy="435.91" r="2.3"/>
<circle cx="287.22" cy="431.13" r="2.3"/>
<circle cx="287.43" cy="435.72" r="2.3"/>
<circle cx="291.63" cy="436.23" r="2.3"/>
<circle cx="291.1" cy="438.92" r="2.3"/>
<circle cx="290.29" cy="441.01" r="2.3"/>
<circle cx="292.46" cy="441.46" r="2.3"/>
<circle cx="289.67" cy="435.79" r="2.3"/>
<circle cx="290.4" cy="434.34" r="2.3"/>
<circle cx="287.81" cy="441.09" r="2.3"/>
<circle cx="292.55" cy="434.43" r="2.3"/>
<circle cx="289.6" cy="439.69" r="2.3"/>
<circle cx="292.16" cy="436.96" r="2.3"/>
<circle cx="289.05" cy="430.29" r="2.3"/>
<circle cx="289.29" cy="436.54" r="2.3"/>
<circle cx="289.64" cy="455.97" r="2.3"/>
<circle cx="290.53" cy="474.08" r="2.3"/>
<circle cx="289.31" cy="467.78" r="2.3"/>
<circle cx="290.85" cy="464.71" r="2.3"/>
<circle cx="288.57" cy="458.53" r="2.3"/>
<circle cx="289.8" cy="485.43" r="2.3"/>
<circle cx="288.89" cy="455.29" r="2.3"/>
<circle cx="290.49" cy="485.62" r="2.3"/>
<circle cx="290.3" cy="452.58" r="2.3"/>
<circle cx="289.7" cy="458.55" r="2.3"/>
<circle cx="288.67" cy="474.2" r="2.3"/>
<circle cx="289.41" cy="487.42" r="2.3"/>
<circle cx="290.57" cy="455.76" r="2.3"/>
<circle cx="288.64" cy="454.37" r="2.3"/>
<circle cx="289.76" cy="476.08" r="2.3"/>
<circle cx="290.6" cy="486.02" r="2.3"/>
<circle cx="288.66" cy="458.26" r="2.3"/>
<circle cx="289.76" cy="474.14" r="2.3"/>
<circle cx="290.92" cy="462.05" r="2.3"/>
<circle cx="290.21" cy="458.34" r="2.3"/>
<circle cx="289.41" cy="490" r="2.3"/>
<circle cx="297.7" cy="440.01" r="2.3"/>
<circle cx="294.37" cy="444.86" r="2.3"/>
<circle cx="296.99" cy="434.97" r="2.3"/>
<circle cx="295.62" cy="444.2" r="2.3"/>
<circle cx="293.97" cy="433.63" r="2.3"/>
<circle cx="296.71" cy="435.22" r="2.3"/>
<circle cx="294.92" cy="441.87" r="2.3"/>
<circle cx="295.16" cy="431.75" r="2.3"/>
<circle cx="297.16" cy="438.08" r="2.3"/>
<circle cx="294.64" cy="442.93" r="2.3"/>
<circle cx="293.31" cy="439.66" r="2.3"/>
<circle cx="295.99" cy="439.84" r="2.3"/>
<circle cx="297.44" cy="436.41" r="2.3"/>
<circle cx="296.18" cy="436.1" r="2.3"/>
<circle cx="296.17" cy="439.69" r="2.3"/>
<circle cx="295.82" cy="479.59" r="2.3"/>
<circle cx="295.06" cy="481.21" r="2.3"/>
<circle cx="294.71" cy="473.78" r="2.3"/>
<circle cx="294.32" cy="461.67" r="2.3"/>
<circle cx="296.46" cy="479.54" r="2.3"/>
<circle cx="295.04" cy="461.2" r="2.3"/>
<circle cx="294.43" cy="454.33" r="2.3"/>
<circle cx="296.38" cy="473.61" r="2.3"/>
<circle cx="294.72" cy="453.11" r="2.3"/>
<circle cx="294.65" cy="478.09" r="2.3"/>
<circle cx="294.98" cy="482.47" r="2.3"/>
<circle cx="294.58" cy="467.52" r="2.3"/>
<circle cx="295.16" cy="460.76" r="2.3"/>
<circle cx="295.96" cy="460.29" r="2.3"/>
<circle cx="295.72" cy="451.12" r="2.3"/>
<circle cx="294.91" cy="479.69" r="2.3"/>
<circle cx="294.37" cy="457.09" r="2.3"/>
<circle cx="296.12" cy="452.86" r="2.3"/>
<circle cx="295.46" cy="487" r="2.3"/>
<circle cx="298.2" cy="437.3" r="2.3"/>
<circle cx="298.31" cy="440.77" r="2.3"/>
<circle cx="300.11" cy="444.26" r="2.3"/>
<circle cx="301.29" cy="437.13" r="2.3"/>
<circle cx="301.2" cy="433.78" r="2.3"/>
<circle cx="298.98" cy="439.33" r="2.3"/>
<circle cx="303.07" cy="442.38" r="2.3"/>
<circle cx="301.68" cy="441.8" r="2.3"/>
<circle cx="298.99" cy="437.4" r="2.3"/>
<circle cx="302.06" cy="439.19" r="2.3"/>
<circle cx="302.47" cy="431.07" r="2.3"/>
<circle cx="298.92" cy="439.01" r="2.3"/>
<circle cx="299.83" cy="438.25" r="2.3"/>
<circle cx="299.66" cy="435.14" r="2.3"/>
<circle cx="302.79" cy="429.52" r="2.3"/>
<circle cx="299.82" cy="471.91" r="2.3"/>
<circle cx="299.76" cy="485.36" r="2.3"/>
<circle cx="301.58" cy="460.69" r="2.3"/>
<circle cx="301.31" cy="473.63" r="2.3"/>
<circle cx="300.93" cy="466.52" r="2.3"/>
<circle cx="300.78" cy="458.13" r="2.3"/>
<circle cx="301.34" cy="460.29" r="2.3"/>
<circle cx="299.94" cy="454.27" r="2.3"/>
<circle cx="300.97" cy="457.9" r="2.3"/>
<circle cx="299.59" cy="473.27" r="2.3"/>
<circle cx="301.75" cy="489.49" r="2.3"/>
<circle cx="299.99" cy="465.19" r="2.3"/>
<circle cx="302.12" cy="483.04" r="2.3"/>
<circle cx="301.55" cy="457.12" r="2.3"/>
<circle cx="302.02" cy="482.72" r="2.3"/>
<circle cx="299.89" cy="458.34" r="2.3"/>
<circle cx="300.18" cy="456.58" r="2.3"/>
<circle cx="301.95" cy="486" r="2.3"/>
<circle cx="299.91" cy="468.95" r="2.3"/>
<circle cx="300.21" cy="464.1" r="2.3"/>
<circle cx="301.03" cy="490" r="2.3"/>
<circle cx="307.61" cy="436.93" r="2.3"/>
<circle cx="306.16" cy="436.51" r="2.3"/>
<circle cx="307.42" cy="435.05" r="2.3"/>
<circle cx="306.77" cy="433.17" r="2.3"/>
<circle cx="305.62" cy="433.79" r="2.3"/>
<circle cx="308.84" cy="430.01" r="2.3"/>
<circle cx="305.39" cy="433.31" r="2.3"/>
<circle cx="306.9" cy="435.99" r="2.3"/>
<circle cx="304.61" cy="436.13" r="2.3"/>
<circle cx="304.91" cy="442.94" r="2.3"/>
<circle cx="304.1" cy="438.72" r="2.3"/>
<circle cx="307.71" cy="436.36" r="2.3"/>
<circle cx="306.24" cy="433.95" r="2.3"/>
<circle cx="308.11" cy="439.72" r="2.3"/>
<circle cx="308.93" cy="432.41" r="2.3"/>
<circle cx="305.62" cy="480.74" r="2.3"/>
<circle cx="305.42" cy="474.94" r="2.3"/>
<circle cx="306.25" cy="459.38" r="2.3"/>
<circle cx="306.87" cy="476.02" r="2.3"/>
<circle cx="307.43" cy="456.32" r="2.3"/>
<circle cx="306.43" cy="476.83" r="2.3"/>
<circle cx="305.84" cy="451.57" r="2.3"/>
<circle cx="306.19" cy="459.07" r="2.3"/>
<circle cx="306.65" cy="479.22" r="2.3"/>
<circle cx="305.29" cy="475.41" r="2.3"/>
<circle cx="307" cy="457.61" r="2.3"/>
<circle cx="305.69" cy="460.55" r="2.3"/>
<circle cx="305.23" cy="451.95" r="2.3"/>
<circle cx="306.52" cy="462.78" r="2.3"/>
<circle cx="306.57" cy="462.4" r="2.3"/>
<circle cx="305.14" cy="459.02" r="2.3"/>
<circle cx="306.57" cy="481" r="2.3"/>
<circle cx="311.01" cy="435.01" r="2.3"/>
<circle cx="309.45" cy="433.01" r="2.3"/>
<circle cx="309.32" cy="437.14" r="2.3"/>
<circle cx="311.15" cy="434.17" r="2.3"/>
<circle cx="309.72" cy="438.96" r="2.3"/>
<circle cx="311.88" cy="440.16" r="2.3"/>
<circle cx="313.53" cy="444.7" r="2.3"/>
<circle cx="313.17" cy="437.35" r="2.3"/>
<circle cx="312.1" cy="440.93" r="2.3"/>
<circle cx="313.9" cy="441.13" r="2.3"/>
<circle cx="312.46" cy="430.34" r="2.3"/>
<circle cx="311.78" cy="438.96" r="2.3"/>
<circle cx="312.27" cy="440.07" r="2.3"/>
<circle cx="313.22" cy="437.07" r="2.3"/>
<circle cx="310.4" cy="444.44" r="2.3"/>
<circle cx="311.34" cy="475.65" r="2.3"/>
<circle cx="312.46" cy="452.67" r="2.3"/>
<circle cx="310.78" cy="474.14" r="2.3"/>
<circle cx="311.99" cy="480.85" r="2.3"/>
<circle cx="311.87" cy="451.11" r="2.3"/>
<circle cx="310.89" cy="461.16" r="2.3"/>
<circle cx="313.05" cy="479.22" r="2.3"/>
<circle cx="311.78" cy="454.09" r="2.3"/>
<circle cx="312.37" cy="459.02" r="2.3"/>
<circle cx="311.49" cy="453.62" r="2.3"/>
<circle cx="311.85" cy="463.54" r="2.3"/>
<circle cx="312.17" cy="464.36" r="2.3"/>
<circle cx="313.04" cy="481.03" r="2.3"/>
<circle cx="312.78" cy="479.94" r="2.3"/>
<circle cx="311.26" cy="457.54" r="2.3"/>
<circle cx="312.29" cy="465.17" r="2.3"/>
<circle cx="311.53" cy="470.01" r="2.3"/>
<circle cx="312.41" cy="483" r="2.3"/>
<circle cx="316.4" cy="432.05" r="2.3"/>
<circle cx="318.71" cy="430.21" r="2.3"/>
<circle cx="315.99" cy="443.82" r="2.3"/>
<circle cx="316.13" cy="445.98" r="2.3"/>
<circle cx="318.64" cy="442.37" r="2.3"/>
<circle cx="317.49" cy="439.59" r="2.3"/>
<circle cx="316.47" cy="431.99" r="2.3"/>
<circle cx="320.04" cy="439.59" r="2.3"/>
<circle cx="319.92" cy="443.8" r="2.3"/>
<circle cx="319.36" cy="439.13" r="2.3"/>
<circle cx="315.09" cy="443.71" r="2.3"/>
<circle cx="319.3" cy="436.23" r="2.3"/>
<circle cx="317.37" cy="446.34" r="2.3"/>
<circle cx="317.15" cy="440.81" r="2.3"/>
<circle cx="318.51" cy="435.51" r="2.3"/>
<circle cx="318.02" cy="477" r="2.3"/>
<circle cx="317.34" cy="474.08" r="2.3"/>
<circle cx="317.31" cy="456.15" r="2.3"/>
<circle cx="317.57" cy="470.42" r="2.3"/>
<circle cx="316.15" cy="453.26" r="2.3"/>
<circle cx="316.78" cy="461.93" r="2.3"/>
<circle cx="316.72" cy="456.8" r="2.3"/>
<circle cx="317.95" cy="462.47" r="2.3"/>
<circle cx="317.9" cy="477.39" r="2.3"/>
<circle cx="318.4" cy="450.62" r="2.3"/>
<circle cx="318.04" cy="468.27" r="2.3"/>
<circle cx="317.06" cy="468.41" r="2.3"/>
<circle cx="316.33" cy="460.18" r="2.3"/>
<circle cx="316.28" cy="469.92" r="2.3"/>
<circle cx="318.51" cy="470.43" r="2.3"/>
<circle cx="317.61" cy="480" r="2.3"/>
<circle cx="323.55" cy="445.81" r="2.3"/>
<circle cx="324.69" cy="437.31" r="2.3"/>
<circle cx="320.28" cy="440.35" r="2.3"/>
<circle cx="324.96" cy="435.68" r="2.3"/>
<circle cx="320.23" cy="440.12" r="2.3"/>
<circle cx="325.64" cy="443.31" r="2.3"/>
<circle cx="325.67" cy="440.5" r="2.3"/>
<circle cx="320.26" cy="440.92" r="2.3"/>
<circle cx="322.38" cy="436.2" r="2.3"/>
<circle cx="321.89" cy="435.64" r="2.3"/>
<circle cx="322.53" cy="435.27" r="2.3"/>
<circle cx="325.59" cy="435.94" r="2.3"/>
<circle cx="320.28" cy="439.59" r="2.3"/>
<circle cx="322.9" cy="436.31" r="2.3"/>
<circle cx="320.56" cy="438.85" r="2.3"/>
<circle cx="323.48" cy="470.02" r="2.3"/>
<circle cx="323.91" cy="465.47" r="2.3"/>
<circle cx="321.8" cy="469.27" r="2.3"/>
<circle cx="323.6" cy="453.39" r="2.3"/>
<circle cx="324.23" cy="471.84" r="2.3"/>
<circle cx="322.07" cy="470.16" r="2.3"/>
<circle cx="323.28" cy="464.75" r="2.3"/>
<circle cx="322.01" cy="465.72" r="2.3"/>
<circle cx="322.99" cy="475.18" r="2.3"/>
<circle cx="324.21" cy="456.99" r="2.3"/>
<circle cx="321.84" cy="460" r="2.3"/>
<circle cx="322.34" cy="467.4" r="2.3"/>
<circle cx="322.45" cy="455.67" r="2.3"/>
<circle cx="323.07" cy="476" r="2.3"/>
<circle cx="327.49" cy="444.89" r="2.3"/>
<circle cx="331.19" cy="445.16" r="2.3"/>
<circle cx="327.12" cy="431.03" r="2.3"/>
<circle cx="328.93" cy="438.41" r="2.3"/>
<circle cx="326.42" cy="438.46" r="2.3"/>
<circle cx="325.73" cy="430.53" r="2.3"/>
<circle cx="330.61" cy="437.94" r="2.3"/>
<circle cx="328.18" cy="435.78" r="2.3"/>
<circle cx="328.62" cy="441.03" r="2.3"/>
<circle cx="326.36" cy="441.43" r="2.3"/>
<circle cx="327.54" cy="439.34" r="2.3"/>
<circle cx="328" cy="434.28" r="2.3"/>
<circle cx="330.63" cy="439.17" r="2.3"/>
<circle cx="326.77" cy="444.08" r="2.3"/>
<circle cx="331.14" cy="431.42" r="2.3"/>
<circle cx="328.77" cy="451.72" r="2.3"/>
<circle cx="329.66" cy="471.77" r="2.3"/>
<circle cx="327.79" cy="460.36" r="2.3"/>
<circle cx="327.56" cy="457.74" r="2.3"/>
<circle cx="328.46" cy="451" r="2.3"/>
<circle cx="328.14" cy="464.7" r="2.3"/>
<circle cx="328" cy="483.29" r="2.3"/>
<circle cx="328.56" cy="478.95" r="2.3"/>
<circle cx="327.26" cy="453.6" r="2.3"/>
<circle cx="329.45" cy="471.33" r="2.3"/>
<circle cx="329.01" cy="451.76" r="2.3"/>
<circle cx="328.97" cy="458.14" r="2.3"/>
<circle cx="329.07" cy="479.16" r="2.3"/>
<circle cx="327.59" cy="458.56" r="2.3"/>
<circle cx="329.56" cy="483.85" r="2.3"/>
<circle cx="328.59" cy="482.32" r="2.3"/>
<circle cx="328.14" cy="451.8" r="2.3"/>
<circle cx="327.35" cy="481.85" r="2.3"/>
<circle cx="328.28" cy="485" r="2.3"/>
<circle cx="331.47" cy="435.51" r="2.3"/>
<circle cx="331.69" cy="434.92" r="2.3"/>
<circle cx="334.64" cy="431.14" r="2.3"/>
<circle cx="334.19" cy="440.12" r="2.3"/>
<circle cx="332.69" cy="433.65" r="2.3"/>
<circle cx="333.41" cy="429.56" r="2.3"/>
<circle cx="334.3" cy="443.63" r="2.3"/>
<circle cx="335.07" cy="435.29" r="2.3"/>
<circle cx="332.79" cy="436.16" r="2.3"/>
<circle cx="333.54" cy="438.47" r="2.3"/>
<circle cx="335.93" cy="436.13" r="2.3"/>
<circle cx="336.67" cy="443.68" r="2.3"/>
<circle cx="332.39" cy="431.28" r="2.3"/>
<circle cx="335.68" cy="437.6" r="2.3"/>
<circle cx="331.87" cy="431.83" r="2.3"/>
<circle cx="334.24" cy="453.74" r="2.3"/>
<circle cx="334.78" cy="468.02" r="2.3"/>
<circle cx="333.06" cy="473.15" r="2.3"/>
<circle cx="333.07" cy="458.51" r="2.3"/>
<circle cx="332.77" cy="463.75" r="2.3"/>
<circle cx="334.47" cy="474.29" r="2.3"/>
<circle cx="333.97" cy="472.64" r="2.3"/>
<circle cx="334.87" cy="475.54" r="2.3"/>
<circle cx="334.8" cy="473.21" r="2.3"/>
<circle cx="333.6" cy="456.05" r="2.3"/>
<circle cx="334.69" cy="451.58" r="2.3"/>
<circle cx="335.26" cy="463.26" r="2.3"/>
<circle cx="333.82" cy="458.11" r="2.3"/>
<circle cx="335.22" cy="474.26" r="2.3"/>
<circle cx="334.26" cy="478" r="2.3"/>
<circle cx="341.63" cy="434.12" r="2.3"/>
<circle cx="340.16" cy="443.35" r="2.3"/>
<circle cx="339.55" cy="434.89" r="2.3"/>
<circle cx="339.31" cy="440" r="2.3"/>
<circle cx="340.84" cy="437.28" r="2.3"/>
<circle cx="339.19" cy="441.05" r="2.3"/>
<circle cx="339.01" cy="433.93" r="2.3"/>
<circle cx="337.42" cy="434.28" r="2.3"/>
<circle cx="341.33" cy="444.24" r="2.3"/>
<circle cx="339.82" cy="438.99" r="2.3"/>
<circle cx="339.99" cy="440.25" r="2.3"/>
<circle cx="337.03" cy="440.34" r="2.3"/>
<circle cx="341.97" cy="432.1" r="2.3"/>
<circle cx="339.84" cy="439.17" r="2.3"/>
<circle cx="337.89" cy="436.61" r="2.3"/>
<circle cx="338.62" cy="472.65" r="2.3"/>
<circle cx="339.72" cy="450.4" r="2.3"/>
<circle cx="339.82" cy="456.41" r="2.3"/>
<circle cx="340.16" cy="473.71" r="2.3"/>
<circle cx="339.8" cy="457.28" r="2.3"/>
<circle cx="340.19" cy="457.53" r="2.3"/>
<circle cx="340.48" cy="456.71" r="2.3"/>
<circle cx="340.54" cy="467.64" r="2.3"/>
<circle cx="340.7" cy="458.99" r="2.3"/>
<circle cx="338.89" cy="465.14" r="2.3"/>
<circle cx="339.03" cy="466.82" r="2.3"/>
<circle cx="338.32" cy="452.95" r="2.3"/>
<circle cx="338.85" cy="465.87" r="2.3"/>
<circle cx="339.12" cy="476" r="2.3"/>
<circle cx="346.57" cy="438.24" r="2.3"/>
<circle cx="344.29" cy="443.59" r="2.3"/>
<circle cx="346.89" cy="439.76" r="2.3"/>
<circle cx="347.44" cy="439.4" r="2.3"/>
<circle cx="344.07" cy="436.44" r="2.3"/>
<circle cx="345.82" cy="441.75" r="2.3"/>
<circle cx="343.52" cy="436.31" r="2.3"/>
<circle cx="346.95" cy="439.05" r="2.3"/>
<circle cx="345.33" cy="438.98" r="2.3"/>
<circle cx="345.33" cy="434.29" r="2.3"/>
<circle cx="347.17" cy="434.48" r="2.3"/>
<circle cx="345.45" cy="434.87" r="2.3"/>
<circle cx="346.64" cy="433.81" r="2.3"/>
<circle cx="343.4" cy="434.63" r="2.3"/>
<circle cx="343.23" cy="439.7" r="2.3"/>
<circle cx="344.99" cy="477.48" r="2.3"/>
<circle cx="344.51" cy="476.95" r="2.3"/>
<circle cx="345.53" cy="470.41" r="2.3"/>
<circle cx="345.65" cy="459.47" r="2.3"/>
<circle cx="346.27" cy="475.76" r="2.3"/>
<circle cx="345.17" cy="477.12" r="2.3"/>
<circle cx="344.49" cy="483.8" r="2.3"/>
<circle cx="344.86" cy="466.39" r="2.3"/>
<circle cx="345.61" cy="482.32" r="2.3"/>
<circle cx="346.22" cy="458.15" r="2.3"/>
<circle cx="345.03" cy="493.21" r="2.3"/>
<circle cx="345.36" cy="493.8" r="2.3"/>
<circle cx="343.97" cy="466.92" r="2.3"/>
<circle cx="345.28" cy="450.76" r="2.3"/>
<circle cx="345.34" cy="481.61" r="2.3"/>
<circle cx="344.87" cy="484.44" r="2.3"/>
<circle cx="345.31" cy="482.65" r="2.3"/>
<circle cx="345.17" cy="477.91" r="2.3"/>
<circle cx="345.2" cy="479.35" r="2.3"/>
<circle cx="345.49" cy="453.98" r="2.3"/>
<circle cx="344.85" cy="480.96" r="2.3"/>
<circle cx="344.99" cy="492.68" r="2.3"/>
<circle cx="344.71" cy="494" r="2.3"/>
<circle cx="350.62" cy="438.46" r="2.3"/>
<circle cx="348.78" cy="432.39" r="2.3"/>
<circle cx="350.65" cy="431.01" r="2.3"/>
<circle cx="352.54" cy="445.53" r="2.3"/>
<circle cx="350.28" cy="437.32" r="2.3"/>
<circle cx="348.7" cy="440.64" r="2.3"/>
<circle cx="348.43" cy="438.21" r="2.3"/>
<circle cx="352.17" cy="440.36" r="2.3"/>
<circle cx="351.11" cy="441.53" r="2.3"/>
<circle cx="348.06" cy="437.79" r="2.3"/>
<circle cx="349.39" cy="435.19" r="2.3"/>
<circle cx="350.13" cy="434.1" r="2.3"/>
<circle cx="351.22" cy="443.1" r="2.3"/>
<circle cx="349.11" cy="438.79" r="2.3"/>
<circle cx="349.65" cy="439.27" r="2.3"/>
<circle cx="349.93" cy="480.09" r="2.3"/>
<circle cx="349.95" cy="487.85" r="2.3"/>
<circle cx="350.4" cy="488.29" r="2.3"/>
<circle cx="350.76" cy="467.64" r="2.3"/>
<circle cx="350.68" cy="473.01" r="2.3"/>
<circle cx="351.73" cy="474.67" r="2.3"/>
<circle cx="349.5" cy="482.68" r="2.3"/>
<circle cx="349.3" cy="493.47" r="2.3"/>
<circle cx="351.39" cy="452.32" r="2.3"/>
<circle cx="349.34" cy="462.13" r="2.3"/>
<circle cx="350.55" cy="457.74" r="2.3"/>
<circle cx="349.31" cy="487.12" r="2.3"/>
<circle cx="349.29" cy="457.27" r="2.3"/>
<circle cx="350.08" cy="452.35" r="2.3"/>
<circle cx="351.78" cy="471.6" r="2.3"/>
<circle cx="351.48" cy="478.52" r="2.3"/>
<circle cx="351.63" cy="475.99" r="2.3"/>
<circle cx="349.88" cy="479.62" r="2.3"/>
<circle cx="350.51" cy="466.38" r="2.3"/>
<circle cx="351.66" cy="454.84" r="2.3"/>
<circle cx="349.78" cy="471.25" r="2.3"/>
<circle cx="351.35" cy="471.63" r="2.3"/>
<circle cx="350.33" cy="494" r="2.3"/>
<circle cx="356.56" cy="433.14" r="2.3"/>
<circle cx="356.11" cy="433.36" r="2.3"/>
<circle cx="357.12" cy="444.34" r="2.3"/>
<circle cx="355.16" cy="437.24" r="2.3"/>
<circle cx="356.13" cy="435.71" r="2.3"/>
<circle cx="353.89" cy="434.83" r="2.3"/>
<circle cx="354.4" cy="439.81" r="2.3"/>
<circle cx="354.13" cy="446.41" r="2.3"/>
<circle cx="356.75" cy="440.05" r="2.3"/>
<circle cx="357.95" cy="433.72" r="2.3"/>
<circle cx="357.63" cy="434.9" r="2.3"/>
<circle cx="354.34" cy="439.93" r="2.3"/>
<circle cx="355.71" cy="445.56" r="2.3"/>
<circle cx="355.82" cy="437.87" r="2.3"/>
<circle cx="355.52" cy="442.93" r="2.3"/>
<circle cx="355.6" cy="469.26" r="2.3"/>
<circle cx="355.71" cy="464.7" r="2.3"/>
<circle cx="356.79" cy="460.96" r="2.3"/>
<circle cx="356.03" cy="450.19" r="2.3"/>
<circle cx="355.16" cy="464.33" r="2.3"/>
<circle cx="355.44" cy="470.5" r="2.3"/>
<circle cx="355.42" cy="461.29" r="2.3"/>
<circle cx="355.9" cy="466.73" r="2.3"/>
<circle cx="355.89" cy="469.15" r="2.3"/>
<circle cx="356.21" cy="471.94" r="2.3"/>
<circle cx="356.06" cy="452.94" r="2.3"/>
<circle cx="355.55" cy="457.08" r="2.3"/>
<circle cx="356.03" cy="476.55" r="2.3"/>
<circle cx="355.19" cy="470.69" r="2.3"/>
<circle cx="356.21" cy="478" r="2.3"/>
<circle cx="359.49" cy="430.79" r="2.3"/>
<circle cx="363.85" cy="435.75" r="2.3"/>
<circle cx="358.91" cy="440.77" r="2.3"/>
<circle cx="359.09" cy="430.65" r="2.3"/>
<circle cx="360.13" cy="442.54" r="2.3"/>
<circle cx="360.13" cy="441.43" r="2.3"/>
<circle cx="361.74" cy="431.68" r="2.3"/>
<circle cx="361.73" cy="438.82" r="2.3"/>
<circle cx="361.95" cy="436.49" r="2.3"/>
<circle cx="363.49" cy="445.36" r="2.3"/>
<circle cx="363.41" cy="441.23" r="2.3"/>
<circle cx="361.89" cy="435.99" r="2.3"/>
<circle cx="360.21" cy="438.84" r="2.3"/>
<circle cx="362.19" cy="434.12" r="2.3"/>
<circle cx="362.69" cy="434.92" r="2.3"/>
<circle cx="361.46" cy="458.16" r="2.3"/>
<circle cx="361.94" cy="461.16" r="2.3"/>
<circle cx="362.3" cy="469.65" r="2.3"/>
<circle cx="362.19" cy="471.04" r="2.3"/>
<circle cx="361.47" cy="475.27" r="2.3"/>
<circle cx="361.99" cy="461.61" r="2.3"/>
<circle cx="362.46" cy="458.16" r="2.3"/>
<circle cx="361.75" cy="460.86" r="2.3"/>
<circle cx="361.25" cy="463.51" r="2.3"/>
<circle cx="361.02" cy="450.27" r="2.3"/>
<circle cx="362.77" cy="462.38" r="2.3"/>
<circle cx="362.65" cy="453.56" r="2.3"/>
<circle cx="362.36" cy="475.29" r="2.3"/>
<circle cx="361.38" cy="476" r="2.3"/>
<circle cx="364.47" cy="430.66" r="2.3"/>
<circle cx="366.01" cy="440.95" r="2.3"/>
<circle cx="368.91" cy="432.53" r="2.3"/>
<circle cx="367.14" cy="436.93" r="2.3"/>
<circle cx="368.87" cy="436.36" r="2.3"/>
<circle cx="365.78" cy="439.42" r="2.3"/>
<circle cx="368.3" cy="443.6" r="2.3"/>
<circle cx="367.5" cy="432.56" r="2.3"/>
<circle cx="365.97" cy="442.72" r="2.3"/>
<circle cx="368.11" cy="441.5" r="2.3"/>
<circle cx="365.49" cy="440.18" r="2.3"/>
<circle cx="369.08" cy="435.67" r="2.3"/>
<circle cx="366.93" cy="435.7" r="2.3"/>
<circle cx="365.76" cy="434.2" r="2.3"/>
<circle cx="368.43" cy="442.34" r="2.3"/>
<circle cx="366.56" cy="463.17" r="2.3"/>
<circle cx="366.72" cy="467.98" r="2.3"/>
<circle cx="366.45" cy="466.9" r="2.3"/>
<circle cx="367.6" cy="469.04" r="2.3"/>
<circle cx="367.72" cy="453.57" r="2.3"/>
<circle cx="366.82" cy="453.11" r="2.3"/>
<circle cx="366.69" cy="457.57" r="2.3"/>
<circle cx="366.24" cy="457.24" r="2.3"/>
<circle cx="366.06" cy="458" r="2.3"/>
<circle cx="366.74" cy="465.91" r="2.3"/>
<circle cx="367.33" cy="470" r="2.3"/>
<circle cx="372.24" cy="444.45" r="2.3"/>
<circle cx="373.77" cy="445.03" r="2.3"/>
<circle cx="375.02" cy="435.13" r="2.3"/>
<circle cx="371.89" cy="434.85" r="2.3"/>
<circle cx="374.04" cy="437.22" r="2.3"/>
<circle cx="374.53" cy="432.01" r="2.3"/>
<circle cx="373.56" cy="438.26" r="2.3"/>
<circle cx="375.16" cy="434.45" r="2.3"/>
<circle cx="375.17" cy="436.11" r="2.3"/>
<circle cx="373.58" cy="430.86" r="2.3"/>
<circle cx="371.7" cy="437.92" r="2.3"/>
<circle cx="373.7" cy="431.07" r="2.3"/>
<circle cx="370.16" cy="433.63" r="2.3"/>
<circle cx="371.46" cy="434.18" r="2.3"/>
<circle cx="374.06" cy="436.49" r="2.3"/>
<circle cx="371.7" cy="450.16" r="2.3"/>
<circle cx="372.11" cy="450.98" r="2.3"/>
<circle cx="372.92" cy="452" r="2.3"/>
<circle cx="378.19" cy="432.92" r="2.3"/>
<circle cx="379.93" cy="437.43" r="2.3"/>
<circle cx="377.79" cy="431.45" r="2.3"/>
<circle cx="380.56" cy="446.5" r="2.3"/>
<circle cx="378.41" cy="439.72" r="2.3"/>
<circle cx="378.04" cy="438.72" r="2.3"/>
<circle cx="379.15" cy="432.96" r="2.3"/>
<circle cx="379.61" cy="438.58" r="2.3"/>
<circle cx="378.27" cy="432.85" r="2.3"/>
<circle cx="375.73" cy="445.14" r="2.3"/>
<circle cx="378.4" cy="438.67" r="2.3"/>
<circle cx="379.16" cy="438.4" r="2.3"/>
<circle cx="377.66" cy="435.34" r="2.3"/>
<circle cx="379.01" cy="437.3" r="2.3"/>
<circle cx="378.3" cy="437.64" r="2.3"/>
<circle cx="378.1" cy="454.32" r="2.3"/>
<circle cx="378.45" cy="475.86" r="2.3"/>
<circle cx="378.86" cy="469.08" r="2.3"/>
<circle cx="377.87" cy="475.18" r="2.3"/>
<circle cx="378.82" cy="460.29" r="2.3"/>
<circle cx="378.08" cy="450.66" r="2.3"/>
<circle cx="378.31" cy="457.06" r="2.3"/>
<circle cx="379.1" cy="469.05" r="2.3"/>
<circle cx="378.66" cy="463.18" r="2.3"/>
<circle cx="378.58" cy="452.06" r="2.3"/>
<circle cx="378.46" cy="474.17" r="2.3"/>
<circle cx="378.19" cy="462.75" r="2.3"/>
<circle cx="377.33" cy="460.71" r="2.3"/>
<circle cx="377.86" cy="476" r="2.3"/>
<circle cx="385.31" cy="435.05" r="2.3"/>
<circle cx="385.51" cy="432.56" r="2.3"/>
<circle cx="386.17" cy="437.73" r="2.3"/>
<circle cx="381.84" cy="432.51" r="2.3"/>
<circle cx="381.15" cy="440.83" r="2.3"/>
<circle cx="382.31" cy="436.7" r="2.3"/>
<circle cx="383.44" cy="440.53" r="2.3"/>
<circle cx="383.49" cy="442.09" r="2.3"/>
<circle cx="382.62" cy="442.08" r="2.3"/>
<circle cx="384.23" cy="437.32" r="2.3"/>
<circle cx="385.32" cy="440.32" r="2.3"/>
<circle cx="381.33" cy="436.68" r="2.3"/>
<circle cx="381.13" cy="442.1" r="2.3"/>
<circle cx="382.19" cy="443.78" r="2.3"/>
<circle cx="384.79" cy="435.97" r="2.3"/>
<circle cx="383.21" cy="454.48" r="2.3"/>
<circle cx="382.47" cy="474.88" r="2.3"/>
<circle cx="384.29" cy="454.18" r="2.3"/>
<circle cx="383.08" cy="469.82" r="2.3"/>
<circle cx="384.6" cy="451.98" r="2.3"/>
<circle cx="384.74" cy="475.23" r="2.3"/>
<circle cx="382.6" cy="464.72" r="2.3"/>
<circle cx="384.07" cy="469.24" r="2.3"/>
<circle cx="384.35" cy="471.62" r="2.3"/>
<circle cx="384.92" cy="463.07" r="2.3"/>
<circle cx="383.54" cy="462.01" r="2.3"/>
<circle cx="384.43" cy="466.57" r="2.3"/>
<circle cx="384.83" cy="465.28" r="2.3"/>
<circle cx="383.45" cy="476" r="2.3"/>
<circle cx="391.39" cy="435.39" r="2.3"/>
<circle cx="386.6" cy="440.04" r="2.3"/>
<circle cx="391.74" cy="442.11" r="2.3"/>
<circle cx="387.37" cy="436.95" r="2.3"/>
<circle cx="387.63" cy="438.83" r="2.3"/>
<circle cx="389.49" cy="436.66" r="2.3"/>
<circle cx="390.6" cy="442.87" r="2.3"/>
<circle cx="386.79" cy="435.96" r="2.3"/>
<circle cx="390.99" cy="433.46" r="2.3"/>
<circle cx="386.72" cy="439.79" r="2.3"/>
<circle cx="389.43" cy="438.71" r="2.3"/>
<circle cx="388.12" cy="434.93" r="2.3"/>
<circle cx="388.46" cy="437.58" r="2.3"/>
<circle cx="389.79" cy="437.57" r="2.3"/>
<circle cx="389.72" cy="443.09" r="2.3"/>
<circle cx="390.27" cy="464.86" r="2.3"/>
<circle cx="389.96" cy="477.61" r="2.3"/>
<circle cx="388.59" cy="460.04" r="2.3"/>
<circle cx="388.23" cy="467.54" r="2.3"/>
<circle cx="388.15" cy="454.95" r="2.3"/>
<circle cx="388.91" cy="468.22" r="2.3"/>
<circle cx="390" cy="475.8" r="2.3"/>
<circle cx="388.79" cy="464.88" r="2.3"/>
<circle cx="388.04" cy="458.97" r="2.3"/>
<circle cx="390.17" cy="453.1" r="2.3"/>
<circle cx="387.92" cy="458.35" r="2.3"/>
<circle cx="388.89" cy="477.44" r="2.3"/>
<circle cx="389.08" cy="471.69" r="2.3"/>
<circle cx="388.11" cy="477.12" r="2.3"/>
<circle cx="389.17" cy="478" r="2.3"/>
<circle cx="395.53" cy="440.17" r="2.3"/>
<circle cx="395.7" cy="430.9" r="2.3"/>
<circle cx="396.31" cy="445.07" r="2.3"/>
<circle cx="394.89" cy="440.42" r="2.3"/>
<circle cx="396.28" cy="439.13" r="2.3"/>
<circle cx="392.9" cy="433.87" r="2.3"/>
<circle cx="393.56" cy="430.33" r="2.3"/>
<circle cx="396.15" cy="438.22" r="2.3"/>
<circle cx="393.17" cy="437.86" r="2.3"/>
<circle cx="393.89" cy="438.57" r="2.3"/>
<circle cx="395.28" cy="430.79" r="2.3"/>
<circle cx="394.3" cy="442.7" r="2.3"/>
<circle cx="393.05" cy="433.99" r="2.3"/>
<circle cx="392.35" cy="438.39" r="2.3"/>
<circle cx="393.13" cy="438.12" r="2.3"/>
<circle cx="395.61" cy="452.09" r="2.3"/>
<circle cx="393.87" cy="467.95" r="2.3"/>
<circle cx="395.05" cy="461.64" r="2.3"/>
<circle cx="395.79" cy="453.8" r="2.3"/>
<circle cx="394.49" cy="458.84" r="2.3"/>
<circle cx="394.61" cy="452.9" r="2.3"/>
<circle cx="393.91" cy="488.46" r="2.3"/>
<circle cx="394.84" cy="457.13" r="2.3"/>
<circle cx="393.79" cy="475.6" r="2.3"/>
<circle cx="394.99" cy="458.77" r="2.3"/>
<circle cx="393.49" cy="459.58" r="2.3"/>
<circle cx="395.68" cy="477.78" r="2.3"/>
<circle cx="395.64" cy="482.25" r="2.3"/>
<circle cx="394.23" cy="458.51" r="2.3"/>
<circle cx="395.02" cy="474" r="2.3"/>
<circle cx="394.86" cy="475.04" r="2.3"/>
<circle cx="394.04" cy="459.35" r="2.3"/>
<circle cx="393.57" cy="453.38" r="2.3"/>
<circle cx="393.64" cy="473.25" r="2.3"/>
<circle cx="395.91" cy="485.06" r="2.3"/>
<circle cx="394.37" cy="490" r="2.3"/>
<circle cx="402.81" cy="429.6" r="2.3"/>
<circle cx="399.6" cy="432.7" r="2.3"/>
<circle cx="398.82" cy="437.41" r="2.3"/>
<circle cx="398.76" cy="444.56" r="2.3"/>
<circle cx="400.24" cy="435.51" r="2.3"/>
<circle cx="401.64" cy="435.48" r="2.3"/>
<circle cx="401.57" cy="434.53" r="2.3"/>
<circle cx="398.11" cy="433.78" r="2.3"/>
<circle cx="400.23" cy="439.67" r="2.3"/>
<circle cx="402.5" cy="441.27" r="2.3"/>
<circle cx="401.57" cy="445.12" r="2.3"/>
<circle cx="400.76" cy="438.85" r="2.3"/>
<circle cx="400.43" cy="434.6" r="2.3"/>
<circle cx="398.53" cy="438.22" r="2.3"/>
<circle cx="400.99" cy="436.54" r="2.3"/>
<circle cx="400.71" cy="462.28" r="2.3"/>
<circle cx="399.23" cy="464.55" r="2.3"/>
<circle cx="401.47" cy="471.38" r="2.3"/>
<circle cx="400.54" cy="452.85" r="2.3"/>
<circle cx="400.53" cy="469.02" r="2.3"/>
<circle cx="400.26" cy="465.67" r="2.3"/>
<circle cx="401.21" cy="480.67" r="2.3"/>
<circle cx="401.05" cy="463.47" r="2.3"/>
<circle cx="401.03" cy="470.69" r="2.3"/>
<circle cx="399.13" cy="480.94" r="2.3"/>
<circle cx="399.54" cy="456.58" r="2.3"/>
<circle cx="401.34" cy="475.38" r="2.3"/>
<circle cx="400.2" cy="457.02" r="2.3"/>
<circle cx="400.82" cy="477.58" r="2.3"/>
<circle cx="401.26" cy="468.19" r="2.3"/>
<circle cx="399.18" cy="478.64" r="2.3"/>
<circle cx="400.71" cy="481" r="2.3"/>
<circle cx="404.61" cy="442.3" r="2.3"/>
<circle cx="404.62" cy="443.92" r="2.3"/>
<circle cx="408.39" cy="441.11" r="2.3"/>
<circle cx="408.28" cy="434.26" r="2.3"/>
<circle cx="403.56" cy="436.55" r="2.3"/>
<circle cx="404.78" cy="436.06" r="2.3"/>
<circle cx="407.5" cy="442.2" r="2.3"/>
<circle cx="404.99" cy="436.59" r="2.3"/>
<circle cx="407.82" cy="442.02" r="2.3"/>
<circle cx="404.89" cy="438.02" r="2.3"/>
<circle cx="403.45" cy="445.69" r="2.3"/>
<circle cx="403.82" cy="440.12" r="2.3"/>
<circle cx="406.11" cy="430.38" r="2.3"/>
<circle cx="404.1" cy="436.44" r="2.3"/>
<circle cx="403.5" cy="435.86" r="2.3"/>
<circle cx="404.65" cy="454.09" r="2.3"/>
<circle cx="406.94" cy="465.49" r="2.3"/>
<circle cx="406.85" cy="465.22" r="2.3"/>
<circle cx="406.06" cy="453.05" r="2.3"/>
<circle cx="406.66" cy="458.76" r="2.3"/>
<circle cx="406.06" cy="464.37" r="2.3"/>
<circle cx="406.94" cy="471.95" r="2.3"/>
<circle cx="405.6" cy="453.29" r="2.3"/>
<circle cx="405.92" cy="452.05" r="2.3"/>
<circle cx="406.28" cy="455.38" r="2.3"/>
<circle cx="404.48" cy="458.53" r="2.3"/>
<circle cx="404.79" cy="471.32" r="2.3"/>
<circle cx="405.53" cy="474" r="2.3"/>
<circle cx="411.39" cy="442.15" r="2.3"/>
<circle cx="409.17" cy="431.69" r="2.3"/>
<circle cx="411.45" cy="435.72" r="2.3"/>
<circle cx="411.53" cy="445.26" r="2.3"/>
<circle cx="410.37" cy="437.55" r="2.3"/>
<circle cx="410.55" cy="434.71" r="2.3"/>
<circle cx="413.14" cy="440.42" r="2.3"/>
<circle cx="411.73" cy="439.14" r="2.3"/>
<circle cx="408.99" cy="434.12" r="2.3"/>
<circle cx="410.39" cy="434.74" r="2.3"/>
<circle cx="409.83" cy="438.13" r="2.3"/>
<circle cx="412.31" cy="431.76" r="2.3"/>
<circle cx="409.56" cy="440.91" r="2.3"/>
<circle cx="413.13" cy="429.8" r="2.3"/>
<circle cx="408.67" cy="433.2" r="2.3"/>
<circle cx="410.31" cy="454.2" r="2.3"/>
<circle cx="410.53" cy="460.49" r="2.3"/>
<circle cx="410.43" cy="453.82" r="2.3"/>
<circle cx="410.27" cy="460.18" r="2.3"/>
<circle cx="410.55" cy="455.27" r="2.3"/>
<circle cx="412.57" cy="452.95" r="2.3"/>
<circle cx="411.89" cy="458.57" r="2.3"/>
<circle cx="411.14" cy="462" r="2.3"/>
<circle cx="419.44" cy="440.31" r="2.3"/>
<circle cx="415.29" cy="438.26" r="2.3"/>
<circle cx="418.8" cy="443.39" r="2.3"/>
<circle cx="415.38" cy="439.91" r="2.3"/>
<circle cx="414.25" cy="444.41" r="2.3"/>
<circle cx="418.13" cy="429.89" r="2.3"/>
<circle cx="419.21" cy="440.64" r="2.3"/>
<circle cx="416.73" cy="444.41" r="2.3"/>
<circle cx="416.22" cy="432.48" r="2.3"/>
<circle cx="415.97" cy="433.31" r="2.3"/>
<circle cx="414.05" cy="443.4" r="2.3"/>
<circle cx="416.69" cy="438.3" r="2.3"/>
<circle cx="415.66" cy="438.05" r="2.3"/>
<circle cx="414.74" cy="440.56" r="2.3"/>
<circle cx="416.29" cy="433.85" r="2.3"/>
<circle cx="415.71" cy="463.5" r="2.3"/>
<circle cx="416.92" cy="466.47" r="2.3"/>
<circle cx="417.62" cy="453.12" r="2.3"/>
<circle cx="415.84" cy="465.9" r="2.3"/>
<circle cx="417.99" cy="465.88" r="2.3"/>
<circle cx="417.56" cy="456.4" r="2.3"/>
<circle cx="416.97" cy="462.97" r="2.3"/>
<circle cx="416.31" cy="456.97" r="2.3"/>
<circle cx="417.53" cy="464.69" r="2.3"/>
<circle cx="417.25" cy="468" r="2.3"/>
<circle cx="419.94" cy="437.35" r="2.3"/>
<circle cx="419.68" cy="442.77" r="2.3"/>
<circle cx="423.5" cy="440.13" r="2.3"/>
<circle cx="420.08" cy="441.52" r="2.3"/>
<circle cx="422.12" cy="440.24" r="2.3"/>
<circle cx="424.44" cy="435.45" r="2.3"/>
<circle cx="422.31" cy="446.35" r="2.3"/>
<circle cx="424.59" cy="446.08" r="2.3"/>
<circle cx="423.61" cy="431.05" r="2.3"/>
<circle cx="421.81" cy="438.06" r="2.3"/>
<circle cx="421.62" cy="434.76" r="2.3"/>
<circle cx="421.42" cy="440.28" r="2.3"/>
<circle cx="421.93" cy="435.76" r="2.3"/>
<circle cx="422.94" cy="437.29" r="2.3"/>
<circle cx="424.56" cy="438.22" r="2.3"/>
<circle cx="421.88" cy="453.15" r="2.3"/>
<circle cx="421.79" cy="454.32" r="2.3"/>
<circle cx="421.27" cy="457.59" r="2.3"/>
<circle cx="422.88" cy="455.56" r="2.3"/>
<circle cx="422.92" cy="453.43" r="2.3"/>
<circle cx="422.64" cy="453.55" r="2.3"/>
<circle cx="421.92" cy="460" r="2.3"/>
<circle cx="426.83" cy="438.64" r="2.3"/>
<circle cx="425.29" cy="439.16" r="2.3"/>
<circle cx="426.23" cy="433.45" r="2.3"/>
<circle cx="425.64" cy="442.31" r="2.3"/>
<circle cx="429.34" cy="444.15" r="2.3"/>
<circle cx="426.56" cy="445.79" r="2.3"/>
<circle cx="428.62" cy="435.32" r="2.3"/>
<circle cx="425.58" cy="436.83" r="2.3"/>
<circle cx="428.7" cy="444.99" r="2.3"/>
<circle cx="425.08" cy="433.49" r="2.3"/>
<circle cx="430.12" cy="437.85" r="2.3"/>
<circle cx="427.04" cy="434.48" r="2.3"/>
<circle cx="429.11" cy="435.32" r="2.3"/>
<circle cx="427.07" cy="435.88" r="2.3"/>
<circle cx="426.62" cy="439.53" r="2.3"/>
<circle cx="451" cy="438.64" r="2.3"/>
<circle cx="448.68" cy="437.68" r="2.3"/>
<circle cx="447.64" cy="443.72" r="2.3"/>
<circle cx="451.47" cy="443.57" r="2.3"/>
<circle cx="448.3" cy="433.64" r="2.3"/>
<circle cx="447.34" cy="432.9" r="2.3"/>
<circle cx="449.78" cy="430.09" r="2.3"/>
<circle cx="452.4" cy="447.19" r="2.3"/>
<circle cx="447.91" cy="437.39" r="2.3"/>
<circle cx="447.98" cy="448.25" r="2.3"/>
<circle cx="452.27" cy="434.67" r="2.3"/>
<circle cx="451.21" cy="446.89" r="2.3"/>
<circle cx="452.52" cy="444.52" r="2.3"/>
<circle cx="451.03" cy="443.78" r="2.3"/>
<circle cx="450.32" cy="441.84" r="2.3"/>
<circle cx="451.07" cy="445.75" r="2.3"/>
<circle cx="448.4" cy="446.27" r="2.3"/>
<circle cx="447.2" cy="437.07" r="2.3"/>
<circle cx="457.36" cy="434.55" r="2.3"/>
<circle cx="453.88" cy="444.71" r="2.3"/>
<circle cx="456.27" cy="430.39" r="2.3"/>
<circle cx="454.26" cy="444.08" r="2.3"/>
<circle cx="458.15" cy="439.14" r="2.3"/>
<circle cx="456.76" cy="438.93" r="2.3"/>
<circle cx="456.43" cy="445.47" r="2.3"/>
<circle cx="453.55" cy="443.99" r="2.3"/>
<circle cx="453.73" cy="443.89" r="2.3"/>
<circle cx="453.59" cy="441.45" r="2.3"/>
<circle cx="453.56" cy="432.53" r="2.3"/>
<circle cx="457.28" cy="430.54" r="2.3"/>
<circle cx="456.55" cy="442.27" r="2.3"/>
<circle cx="454.95" cy="440.25" r="2.3"/>
<circle cx="457.71" cy="437.53" r="2.3"/>
<circle cx="456.67" cy="434.75" r="2.3"/>
<circle cx="455.94" cy="437.5" r="2.3"/>
<circle cx="455.41" cy="428.75" r="2.3"/>
<circle cx="459.1" cy="436.82" r="2.3"/>
<circle cx="458.32" cy="440.95" r="2.3"/>
<circle cx="462.94" cy="439.54" r="2.3"/>
<circle cx="462.43" cy="429.47" r="2.3"/>
<circle cx="460.79" cy="438.65" r="2.3"/>
<circle cx="462.01" cy="442.14" r="2.3"/>
<circle cx="461.96" cy="432.3" r="2.3"/>
<circle cx="463.45" cy="447.36" r="2.3"/>
<circle cx="462.06" cy="441.09" r="2.3"/>
<circle cx="463.46" cy="441.87" r="2.3"/>
<circle cx="461.68" cy="438.46" r="2.3"/>
<circle cx="461.95" cy="432.33" r="2.3"/>
<circle cx="460.24" cy="443.24" r="2.3"/>
<circle cx="460.68" cy="444.43" r="2.3"/>
<circle cx="462.94" cy="433.24" r="2.3"/>
<circle cx="458.66" cy="437.77" r="2.3"/>
<circle cx="463.6" cy="431.62" r="2.3"/>
<circle cx="461.95" cy="437.48" r="2.3"/>
<circle cx="461.42" cy="458.03" r="2.3"/>
<circle cx="459.79" cy="460.5" r="2.3"/>
<circle cx="460.31" cy="459.19" r="2.3"/>
<circle cx="460.86" cy="460.36" r="2.3"/>
<circle cx="462.17" cy="462.77" r="2.3"/>
<circle cx="461.27" cy="462.52" r="2.3"/>
<circle cx="459.95" cy="459.35" r="2.3"/>
<circle cx="461.19" cy="466" r="2.3"/>
<circle cx="464.81" cy="436.91" r="2.3"/>
<circle cx="468.49" cy="438.45" r="2.3"/>
<circle cx="466.28" cy="440.84" r="2.3"/>
<circle cx="466.98" cy="437.26" r="2.3"/>
<circle cx="465.76" cy="439.64" r="2.3"/>
<circle cx="465.2" cy="432.74" r="2.3"/>
<circle cx="464.13" cy="446.54" r="2.3"/>
<circle cx="468.23" cy="438.73" r="2.3"/>
<circle cx="465.32" cy="441.4" r="2.3"/>
<circle cx="466.78" cy="444.8" r="2.3"/>
<circle cx="466.72" cy="441.91" r="2.3"/>
<circle cx="468.32" cy="444.58" r="2.3"/>
<circle cx="465.71" cy="436.85" r="2.3"/>
<circle cx="467.55" cy="444.29" r="2.3"/>
<circle cx="468.64" cy="439.57" r="2.3"/>
<circle cx="467.4" cy="436.28" r="2.3"/>
<circle cx="467.3" cy="433.77" r="2.3"/>
<circle cx="465.27" cy="443.8" r="2.3"/>
<circle cx="467.16" cy="467.05" r="2.3"/>
<circle cx="466.29" cy="461.29" r="2.3"/>
<circle cx="465.72" cy="467.16" r="2.3"/>
<circle cx="467.57" cy="469.45" r="2.3"/>
<circle cx="465.35" cy="472.32" r="2.3"/>
<circle cx="465.76" cy="473.1" r="2.3"/>
<circle cx="466.78" cy="455.43" r="2.3"/>
<circle cx="465.65" cy="460.3" r="2.3"/>
<circle cx="466.57" cy="466.18" r="2.3"/>
<circle cx="466.51" cy="464.57" r="2.3"/>
<circle cx="466.6" cy="475" r="2.3"/>
<circle cx="473.53" cy="442.82" r="2.3"/>
<circle cx="473.81" cy="435.9" r="2.3"/>
<circle cx="469.69" cy="437.61" r="2.3"/>
<circle cx="474.54" cy="438.08" r="2.3"/>
<circle cx="474.6" cy="437.3" r="2.3"/>
<circle cx="471.24" cy="439.01" r="2.3"/>
<circle cx="471.68" cy="440.4" r="2.3"/>
<circle cx="469.82" cy="429.38" r="2.3"/>
<circle cx="472.17" cy="442.59" r="2.3"/>
<circle cx="473.87" cy="440.84" r="2.3"/>
<circle cx="471.28" cy="434.53" r="2.3"/>
<circle cx="472.15" cy="436.18" r="2.3"/>
<circle cx="471.83" cy="439.5" r="2.3"/>
<circle cx="472.41" cy="437.52" r="2.3"/>
<circle cx="470.42" cy="430.47" r="2.3"/>
<circle cx="470.92" cy="434.55" r="2.3"/>
<circle cx="473.99" cy="440.14" r="2.3"/>
<circle cx="469.96" cy="435.09" r="2.3"/>
<circle cx="472.92" cy="468.93" r="2.3"/>
<circle cx="470.99" cy="473.64" r="2.3"/>
<circle cx="472.43" cy="462.82" r="2.3"/>
<circle cx="473.16" cy="460.92" r="2.3"/>
<circle cx="472.96" cy="463.63" r="2.3"/>
<circle cx="471.71" cy="454.01" r="2.3"/>
<circle cx="472.88" cy="468.17" r="2.3"/>
<circle cx="472.93" cy="463.64" r="2.3"/>
<circle cx="471.77" cy="469.6" r="2.3"/>
<circle cx="472.04" cy="468.44" r="2.3"/>
<circle cx="471.61" cy="475" r="2.3"/>
<circle cx="479.73" cy="446.73" r="2.3"/>
<circle cx="476.06" cy="428.81" r="2.3"/>
<circle cx="477.52" cy="437.33" r="2.3"/>
<circle cx="477.8" cy="442.88" r="2.3"/>
<circle cx="476.29" cy="433.92" r="2.3"/>
<circle cx="477.1" cy="446.35" r="2.3"/>
<circle cx="476.2" cy="433.51" r="2.3"/>
<circle cx="478.27" cy="440.4" r="2.3"/>
<circle cx="476.87" cy="434.56" r="2.3"/>
<circle cx="474.86" cy="438.27" r="2.3"/>
<circle cx="478.84" cy="438.98" r="2.3"/>
<circle cx="476.02" cy="441.89" r="2.3"/>
<circle cx="476.46" cy="441.27" r="2.3"/>
<circle cx="478.57" cy="436.14" r="2.3"/>
<circle cx="479.96" cy="434.7" r="2.3"/>
<circle cx="476.17" cy="441.62" r="2.3"/>
<circle cx="475.5" cy="446.45" r="2.3"/>
<circle cx="475.12" cy="443.57" r="2.3"/>
<circle cx="477.54" cy="453.88" r="2.3"/>
<circle cx="477.69" cy="453.52" r="2.3"/>
<circle cx="477.93" cy="455" r="2.3"/>
<circle cx="483.58" cy="437.78" r="2.3"/>
<circle cx="485.16" cy="438.68" r="2.3"/>
<circle cx="481.95" cy="445" r="2.3"/>
<circle cx="480.67" cy="438.77" r="2.3"/>
<circle cx="481.84" cy="438.14" r="2.3"/>
<circle cx="484.85" cy="443.06" r="2.3"/>
<circle cx="483.29" cy="443.8" r="2.3"/>
<circle cx="483.23" cy="435.64" r="2.3"/>
<circle cx="482.74" cy="432.64" r="2.3"/>
<circle cx="480.43" cy="429.99" r="2.3"/>
<circle cx="485.28" cy="436.62" r="2.3"/>
<circle cx="481.89" cy="434.39" r="2.3"/>
<circle cx="485.36" cy="437.86" r="2.3"/>
<circle cx="484.08" cy="438.53" r="2.3"/>
<circle cx="483.09" cy="440.48" r="2.3"/>
<circle cx="484.95" cy="439.94" r="2.3"/>
<circle cx="485.1" cy="446.79" r="2.3"/>
<circle cx="482.53" cy="444.26" r="2.3"/>
<circle cx="483.76" cy="466.56" r="2.3"/>
<circle cx="483.09" cy="468.52" r="2.3"/>
<circle cx="482.42" cy="469.94" r="2.3"/>
<circle cx="481.76" cy="462.52" r="2.3"/>
<circle cx="483.88" cy="471.6" r="2.3"/>
<circle cx="484.27" cy="472.01" r="2.3"/>
<circle cx="482.02" cy="472.52" r="2.3"/>
<circle cx="484.14" cy="461.02" r="2.3"/>
<circle cx="484.02" cy="455.35" r="2.3"/>
<circle cx="482.12" cy="473.61" r="2.3"/>
<circle cx="483.64" cy="458.05" r="2.3"/>
<circle cx="481.82" cy="469.81" r="2.3"/>
<circle cx="483.07" cy="479" r="2.3"/>
<circle cx="486.84" cy="439.25" r="2.3"/>
<circle cx="485.87" cy="437.62" r="2.3"/>
<circle cx="490.7" cy="428.05" r="2.3"/>
<circle cx="490.98" cy="442.85" r="2.3"/>
<circle cx="488.89" cy="438.25" r="2.3"/>
<circle cx="486.48" cy="442.08" r="2.3"/>
<circle cx="486.64" cy="435.34" r="2.3"/>
<circle cx="490.16" cy="445.37" r="2.3"/>
<circle cx="486.78" cy="433.97" r="2.3"/>
<circle cx="490.84" cy="435.06" r="2.3"/>
<circle cx="491.05" cy="442.37" r="2.3"/>
<circle cx="486.52" cy="437.84" r="2.3"/>
<circle cx="488.41" cy="438.46" r="2.3"/>
<circle cx="489.13" cy="443.52" r="2.3"/>
<circle cx="488.02" cy="438.06" r="2.3"/>
<circle cx="488.18" cy="434.13" r="2.3"/>
<circle cx="487.91" cy="430.66" r="2.3"/>
<circle cx="485.89" cy="441.25" r="2.3"/>
<circle cx="489.82" cy="452.82" r="2.3"/>
<circle cx="489.42" cy="453.21" r="2.3"/>
<circle cx="487.9" cy="455.19" r="2.3"/>
<circle cx="488.19" cy="457.08" r="2.3"/>
<circle cx="488.08" cy="460" r="2.3"/>
<circle cx="492.04" cy="443.11" r="2.3"/>
<circle cx="496.8" cy="439.67" r="2.3"/>
<circle cx="494.17" cy="441.92" r="2.3"/>
<circle cx="492.71" cy="442.28" r="2.3"/>
<circle cx="495.81" cy="439.24" r="2.3"/>
<circle cx="494.92" cy="439.44" r="2.3"/>
<circle cx="496.01" cy="442.91" r="2.3"/>
<circle cx="493.93" cy="428.92" r="2.3"/>
<circle cx="495.02" cy="436.57" r="2.3"/>
<circle cx="495.41" cy="438.54" r="2.3"/>
<circle cx="495.57" cy="434.75" r="2.3"/>
<circle cx="495.48" cy="441.61" r="2.3"/>
<circle cx="491.39" cy="435.37" r="2.3"/>
<circle cx="493.32" cy="440.04" r="2.3"/>
<circle cx="492.91" cy="441.76" r="2.3"/>
<circle cx="496.81" cy="442.62" r="2.3"/>
<circle cx="495.11" cy="431.38" r="2.3"/>
<circle cx="492.12" cy="428.42" r="2.3"/>
<circle cx="493.83" cy="461.65" r="2.3"/>
<circle cx="494.4" cy="468.57" r="2.3"/>
<circle cx="492.95" cy="456.44" r="2.3"/>
<circle cx="494.21" cy="460.77" r="2.3"/>
<circle cx="494.29" cy="460.68" r="2.3"/>
<circle cx="493.71" cy="453.58" r="2.3"/>
<circle cx="493.53" cy="467.02" r="2.3"/>
<circle cx="493.24" cy="455.8" r="2.3"/>
<circle cx="494.52" cy="470" r="2.3"/>
<circle cx="501.64" cy="435.33" r="2.3"/>
<circle cx="501.71" cy="448" r="2.3"/>
<circle cx="501.57" cy="430.45" r="2.3"/>
<circle cx="502.04" cy="439.51" r="2.3"/>
<circle cx="497.04" cy="433.35" r="2.3"/>
<circle cx="501.74" cy="439.59" r="2.3"/>
<circle cx="497.1" cy="439.39" r="2.3"/>
<circle cx="501.1" cy="431.48" r="2.3"/>
<circle cx="498.01" cy="433.53" r="2.3"/>
<circle cx="500.99" cy="435.04" r="2.3"/>
<circle cx="498.57" cy="442.72" r="2.3"/>
<circle cx="500.9" cy="441.05" r="2.3"/>
<circle cx="497.88" cy="444.17" r="2.3"/>
<circle cx="500.84" cy="439.08" r="2.3"/>
<circle cx="502.07" cy="444.82" r="2.3"/>
<circle cx="499.82" cy="437.86" r="2.3"/>
<circle cx="502.09" cy="441.32" r="2.3"/>
<circle cx="499.69" cy="442.63" r="2.3"/>
<circle cx="498.77" cy="471.57" r="2.3"/>
<circle cx="499.67" cy="468.38" r="2.3"/>
<circle cx="498.6" cy="461.6" r="2.3"/>
<circle cx="500.87" cy="472.96" r="2.3"/>
<circle cx="499.78" cy="468.8" r="2.3"/>
<circle cx="499.13" cy="454.36" r="2.3"/>
<circle cx="498.53" cy="459.9" r="2.3"/>
<circle cx="499.25" cy="460.94" r="2.3"/>
<circle cx="498.48" cy="461.79" r="2.3"/>
<circle cx="500.77" cy="455.47" r="2.3"/>
<circle cx="499.65" cy="475" r="2.3"/>
<circle cx="503.65" cy="436.91" r="2.3"/>
<circle cx="503.34" cy="447.59" r="2.3"/>
<circle cx="505.83" cy="445.11" r="2.3"/>
<circle cx="505.33" cy="439.11" r="2.3"/>
<circle cx="502.78" cy="443.66" r="2.3"/>
<circle cx="502.58" cy="428.98" r="2.3"/>
<circle cx="505.22" cy="433.58" r="2.3"/>
<circle cx="505.76" cy="446.57" r="2.3"/>
<circle cx="505.15" cy="429.29" r="2.3"/>
<circle cx="503.07" cy="432.69" r="2.3"/>
<circle cx="507.06" cy="441.27" r="2.3"/>
<circle cx="503.36" cy="433.52" r="2.3"/>
<circle cx="507.48" cy="437.82" r="2.3"/>
<circle cx="505.13" cy="442.15" r="2.3"/>
<circle cx="507.28" cy="448.19" r="2.3"/>
<circle cx="506.83" cy="444.8" r="2.3"/>
<circle cx="503.43" cy="441.42" r="2.3"/>
<circle cx="502.47" cy="430.82" r="2.3"/>
<circle cx="506.22" cy="458.63" r="2.3"/>
<circle cx="505.97" cy="456.77" r="2.3"/>
<circle cx="505.88" cy="458.5" r="2.3"/>
<circle cx="505.28" cy="461.08" r="2.3"/>
<circle cx="505.69" cy="467.88" r="2.3"/>
<circle cx="505.56" cy="457.17" r="2.3"/>
<circle cx="504.46" cy="456.24" r="2.3"/>
<circle cx="504.22" cy="470.01" r="2.3"/>
<circle cx="504.12" cy="461.81" r="2.3"/>
<circle cx="504.28" cy="465.61" r="2.3"/>
<circle cx="504.98" cy="475" r="2.3"/>
<circle cx="553.59" cy="430.57" r="2.3"/>
<circle cx="553.09" cy="428.57" r="2.3"/>
<circle cx="553.13" cy="434.52" r="2.3"/>
<circle cx="552.18" cy="429.57" r="2.3"/>
<circle cx="553.64" cy="437.59" r="2.3"/>
<circle cx="555.1" cy="437.54" r="2.3"/>
<circle cx="557.05" cy="440.23" r="2.3"/>
<circle cx="552.38" cy="436.15" r="2.3"/>
<circle cx="552.97" cy="428.41" r="2.3"/>
<circle cx="553.62" cy="438.17" r="2.3"/>
<circle cx="554.33" cy="440.39" r="2.3"/>
<circle cx="555.96" cy="439.79" r="2.3"/>
<circle cx="555.87" cy="437.56" r="2.3"/>
<circle cx="554.96" cy="441.07" r="2.3"/>
<circle cx="557.27" cy="442.35" r="2.3"/>
<circle cx="557.16" cy="437.34" r="2.3"/>
<circle cx="554.42" cy="446.84" r="2.3"/>
<circle cx="554.57" cy="439.79" r="2.3"/>
<circle cx="560.6" cy="433.64" r="2.3"/>
<circle cx="562.99" cy="432.44" r="2.3"/>
<circle cx="562.06" cy="434.48" r="2.3"/>
<circle cx="558.15" cy="443.68" r="2.3"/>
<circle cx="561.1" cy="440.56" r="2.3"/>
<circle cx="557.72" cy="446.29" r="2.3"/>
<circle cx="558.48" cy="448.58" r="2.3"/>
<circle cx="562.07" cy="431.3" r="2.3"/>
<circle cx="562.39" cy="432.2" r="2.3"/>
<circle cx="562.59" cy="447.24" r="2.3"/>
<circle cx="562.52" cy="438.24" r="2.3"/>
<circle cx="558.52" cy="445" r="2.3"/>
<circle cx="559.77" cy="445.76" r="2.3"/>
<circle cx="561.03" cy="432.49" r="2.3"/>
<circle cx="560.94" cy="432.67" r="2.3"/>
<circle cx="561.67" cy="440.02" r="2.3"/>
<circle cx="560.46" cy="433.8" r="2.3"/>
<circle cx="561.21" cy="448.43" r="2.3"/>
<circle cx="559.44" cy="454.12" r="2.3"/>
<circle cx="560.1" cy="454.65" r="2.3"/>
<circle cx="560.78" cy="455" r="2.3"/>
<circle cx="568.29" cy="429.06" r="2.3"/>
<circle cx="566.81" cy="437.96" r="2.3"/>
<circle cx="566.35" cy="437.87" r="2.3"/>
<circle cx="564.34" cy="445.14" r="2.3"/>
<circle cx="568.24" cy="442.98" r="2.3"/>
<circle cx="563.12" cy="439.7" r="2.3"/>
<circle cx="567.7" cy="435.32" r="2.3"/>
<circle cx="567.25" cy="441.22" r="2.3"/>
<circle cx="568.52" cy="444.43" r="2.3"/>
<circle cx="564.73" cy="439.37" r="2.3"/>
<circle cx="565.81" cy="436.65" r="2.3"/>
<circle cx="567.29" cy="448.48" r="2.3"/>
<circle cx="568.2" cy="430.31" r="2.3"/>
<circle cx="565.86" cy="445.85" r="2.3"/>
<circle cx="564.17" cy="447.38" r="2.3"/>
<circle cx="564.95" cy="436.09" r="2.3"/>
<circle cx="565.2" cy="442.53" r="2.3"/>
<circle cx="568.05" cy="437.92" r="2.3"/>
<circle cx="565.88" cy="460.88" r="2.3"/>
<circle cx="567.06" cy="460.3" r="2.3"/>
<circle cx="566.55" cy="452.74" r="2.3"/>
<circle cx="565.83" cy="453.45" r="2.3"/>
<circle cx="564.74" cy="457.85" r="2.3"/>
<circle cx="565.92" cy="461" r="2.3"/>
<circle cx="572.42" cy="437.82" r="2.3"/>
<circle cx="569.44" cy="444.57" r="2.3"/>
<circle cx="571.59" cy="445.57" r="2.3"/>
<circle cx="572.77" cy="437.06" r="2.3"/>
<circle cx="568.96" cy="429.69" r="2.3"/>
<circle cx="570.65" cy="434.52" r="2.3"/>
<circle cx="573.63" cy="434.27" r="2.3"/>
<circle cx="572.11" cy="446.82" r="2.3"/>
<circle cx="573.12" cy="438.9" r="2.3"/>
<circle cx="571.18" cy="430.38" r="2.3"/>
<circle cx="574.09" cy="435.23" r="2.3"/>
<circle cx="574.12" cy="428.69" r="2.3"/>
<circle cx="571.93" cy="438.45" r="2.3"/>
<circle cx="569.74" cy="431.43" r="2.3"/>
<circle cx="570.28" cy="433.29" r="2.3"/>
<circle cx="569.05" cy="433.42" r="2.3"/>
<circle cx="570.63" cy="438.51" r="2.3"/>
<circle cx="569.02" cy="447.22" r="2.3"/>
<circle cx="571.57" cy="468.13" r="2.3"/>
<circle cx="572.41" cy="454.95" r="2.3"/>
<circle cx="570.7" cy="477.76" r="2.3"/>
<circle cx="570.48" cy="480.64" r="2.3"/>
<circle cx="570.8" cy="468.67" r="2.3"/>
<circle cx="570.71" cy="471.51" r="2.3"/>
<circle cx="570.72" cy="470.71" r="2.3"/>
<circle cx="570.35" cy="453.02" r="2.3"/>
<circle cx="571.22" cy="478.92" r="2.3"/>
<circle cx="571.78" cy="469.67" r="2.3"/>
<circle cx="570.55" cy="461.05" r="2.3"/>
<circle cx="572.01" cy="466.17" r="2.3"/>
<circle cx="571.26" cy="477.02" r="2.3"/>
<circle cx="570.72" cy="472.84" r="2.3"/>
<circle cx="571.72" cy="484.26" r="2.3"/>
<circle cx="571.66" cy="486" r="2.3"/>
<circle cx="576.16" cy="441.05" r="2.3"/>
<circle cx="578.32" cy="439.58" r="2.3"/>
<circle cx="576.97" cy="441.54" r="2.3"/>
<circle cx="574.29" cy="440.6" r="2.3"/>
<circle cx="577.91" cy="443.12" r="2.3"/>
<circle cx="577.45" cy="436.66" r="2.3"/>
<circle cx="574.15" cy="443.13" r="2.3"/>
<circle cx="578.32" cy="428.78" r="2.3"/>
<circle cx="577.15" cy="441.73" r="2.3"/>
<circle cx="575.76" cy="442.05" r="2.3"/>
<circle cx="579.27" cy="440.25" r="2.3"/>
<circle cx="576.7" cy="440.31" r="2.3"/>
<circle cx="574.82" cy="435.12" r="2.3"/>
<circle cx="576.55" cy="434.53" r="2.3"/>
<circle cx="577.48" cy="438.24" r="2.3"/>
<circle cx="578.94" cy="444.52" r="2.3"/>
<circle cx="578.26" cy="434.61" r="2.3"/>
<circle cx="578.24" cy="432.42" r="2.3"/>
<circle cx="575.82" cy="467.33" r="2.3"/>
<circle cx="577.4" cy="474.86" r="2.3"/>
<circle cx="577.17" cy="454.51" r="2.3"/>
<circle cx="576.04" cy="481.94" r="2.3"/>
<circle cx="576.29" cy="482.91" r="2.3"/>
<circle cx="575.8" cy="453.05" r="2.3"/>
<circle cx="576.08" cy="477.85" r="2.3"/>
<circle cx="576.71" cy="481.3" r="2.3"/>
<circle cx="577.7" cy="455.28" r="2.3"/>
<circle cx="575.92" cy="463.48" r="2.3"/>
<circle cx="576.36" cy="452.63" r="2.3"/>
<circle cx="576.87" cy="467.96" r="2.3"/>
<circle cx="575.79" cy="472.01" r="2.3"/>
<circle cx="577.89" cy="452.59" r="2.3"/>
<circle cx="577.46" cy="466.74" r="2.3"/>
<circle cx="577.27" cy="486" r="2.3"/>
<circle cx="582.92" cy="432.64" r="2.3"/>
<circle cx="580.81" cy="448.55" r="2.3"/>
<circle cx="580.92" cy="434.09" r="2.3"/>
<circle cx="581.62" cy="442.48" r="2.3"/>
<circle cx="582.2" cy="437.8" r="2.3"/>
<circle cx="584.22" cy="430.91" r="2.3"/>
<circle cx="581.59" cy="435.59" r="2.3"/>
<circle cx="581.47" cy="432.83" r="2.3"/>
<circle cx="583.82" cy="445.98" r="2.3"/>
<circle cx="579.86" cy="444.57" r="2.3"/>
<circle cx="584.03" cy="436.23" r="2.3"/>
<circle cx="582.85" cy="437.97" r="2.3"/>
<circle cx="581.71" cy="446.83" r="2.3"/>
<circle cx="585.11" cy="433.51" r="2.3"/>
<circle cx="581.97" cy="433.66" r="2.3"/>
<circle cx="581.66" cy="435.89" r="2.3"/>
<circle cx="584.49" cy="438.8" r="2.3"/>
<circle cx="584.7" cy="428.2" r="2.3"/>
<circle cx="583.58" cy="460.47" r="2.3"/>
<circle cx="582.04" cy="456.69" r="2.3"/>
<circle cx="583.39" cy="454.55" r="2.3"/>
<circle cx="582.64" cy="460.11" r="2.3"/>
<circle cx="583.43" cy="460.56" r="2.3"/>
<circle cx="582.53" cy="459.48" r="2.3"/>
<circle cx="581.97" cy="458.54" r="2.3"/>
<circle cx="582.87" cy="466" r="2.3"/>
<circle cx="588.73" cy="435.65" r="2.3"/>
<circle cx="585.4" cy="434.33" r="2.3"/>
<circle cx="586.38" cy="433.85" r="2.3"/>
<circle cx="586.55" cy="430.13" r="2.3"/>
<circle cx="589.83" cy="438.34" r="2.3"/>
<circle cx="587.24" cy="429.88" r="2.3"/>
<circle cx="590.33" cy="438.76" r="2.3"/>
<circle cx="585.65" cy="443.68" r="2.3"/>
<circle cx="586.92" cy="434.12" r="2.3"/>
<circle cx="587.62" cy="445.89" r="2.3"/>
<circle cx="586.71" cy="432.41" r="2.3"/>
<circle cx="586.63" cy="439.57" r="2.3"/>
<circle cx="587.74" cy="433.28" r="2.3"/>
<circle cx="587.56" cy="446.71" r="2.3"/>
<circle cx="586.56" cy="435.75" r="2.3"/>
<circle cx="587.99" cy="432.9" r="2.3"/>
<circle cx="589.75" cy="438.27" r="2.3"/>
<circle cx="587.1" cy="442.64" r="2.3"/>
<circle cx="282.4" cy="420" r="2.3"/>
<circle cx="287.4" cy="424.5" r="2.3"/>
<circle cx="262" cy="418.5" r="2.3"/>
<circle cx="308.5" cy="424" r="2.3"/>
<circle cx="326" cy="423.5" r="2.3"/>
<circle cx="340" cy="424.5" r="2.3"/>
<circle cx="372" cy="424" r="2.3"/>
<circle cx="398" cy="425" r="2.3"/>
<circle cx="408" cy="424.8" r="2.3"/>
<circle cx="300" cy="425.5" r="2.3"/>
<circle cx="82" cy="403.6" r="2.3"/>
<circle cx="82.3" cy="406.6" r="2.3"/>
<circle cx="83.8" cy="411" r="2.3"/>
<circle cx="76.5" cy="414.6" r="2.3"/>
<circle cx="75.8" cy="418.2" r="2.3"/>
<circle cx="113.3" cy="415.3" r="2.3"/>
<circle cx="114" cy="421.9" r="2.3"/>
<circle cx="116.1" cy="346" r="2.3"/>
<circle cx="167.9" cy="413.4" r="2.3"/>
<circle cx="189.8" cy="500" r="2.3"/>
<circle cx="355.5" cy="508.1" r="2.3"/>
<circle cx="350.2" cy="492.8" r="2.3"/>
<circle cx="394.4" cy="489.5" r="2.3"/>
<circle cx="300.4" cy="490" r="2.3"/>
<circle cx="258.8" cy="406.7" r="2.3"/>
<circle cx="282.9" cy="420.5" r="2.3"/>
<circle cx="419.6" cy="422.7" r="2.3"/>
<circle cx="417.5" cy="426.6" r="2.3"/>
<circle cx="494" cy="491" r="2.3"/>
<circle cx="460.1" cy="465.4" r="2.3"/>
<circle cx="571.6" cy="495.5" r="2.3"/>
<circle cx="558" cy="415.5" r="2.3"/>
<circle cx="573.8" cy="421.4" r="2.3"/>
<circle cx="68.5" cy="475.9" r="2.3"/>
<circle cx="73.3" cy="483.2" r="2.3"/>
<circle cx="90.4" cy="478.8" r="2.3"/>
</g><g fill="#009e73" fill-opacity="0.6">
<circle cx="118.63" cy="402.19" r="2.3"/>
<circle cx="118.81" cy="426.14" r="2.3"/>
<circle cx="118.59" cy="430.83" r="2.3"/>
<circle cx="119.13" cy="417" r="2.3"/>
<circle cx="117.53" cy="406.31" r="2.3"/>
<circle cx="118.49" cy="412.78" r="2.3"/>
<circle cx="117.77" cy="419.94" r="2.3"/>
<circle cx="118.84" cy="437.63" r="2.3"/>
<circle cx="119.66" cy="415.16" r="2.3"/>
<circle cx="119.86" cy="407.96" r="2.3"/>
<circle cx="117.81" cy="418.24" r="2.3"/>
<circle cx="119.09" cy="427.67" r="2.3"/>
<circle cx="117.48" cy="437.39" r="2.3"/>
<circle cx="120.24" cy="398.29" r="2.3"/>
<circle cx="118.42" cy="395.12" r="2.3"/>
<circle cx="118.89" cy="409.07" r="2.3"/>
<circle cx="118.92" cy="408.66" r="2.3"/>
<circle cx="118.63" cy="417.21" r="2.3"/>
<circle cx="126.11" cy="418.76" r="2.3"/>
<circle cx="124.92" cy="406.45" r="2.3"/>
<circle cx="123.82" cy="424.88" r="2.3"/>
<circle cx="125.09" cy="411.94" r="2.3"/>
<circle cx="124.51" cy="441.12" r="2.3"/>
<circle cx="123.84" cy="419.82" r="2.3"/>
<circle cx="121.91" cy="421.7" r="2.3"/>
<circle cx="125.26" cy="416.86" r="2.3"/>
<circle cx="122.66" cy="400" r="2.3"/>
<circle cx="123.16" cy="430.01" r="2.3"/>
<circle cx="123.04" cy="422.55" r="2.3"/>
<circle cx="123.5" cy="427.32" r="2.3"/>
<circle cx="126.55" cy="440.76" r="2.3"/>
<circle cx="123.9" cy="410.93" r="2.3"/>
<circle cx="123.23" cy="440.82" r="2.3"/>
<circle cx="122.85" cy="413.86" r="2.3"/>
<circle cx="123.66" cy="414.59" r="2.3"/>
<circle cx="125.88" cy="430.28" r="2.3"/>
<circle cx="122.45" cy="439.16" r="2.3"/>
<circle cx="128.55" cy="420.38" r="2.3"/>
<circle cx="130.13" cy="425.96" r="2.3"/>
<circle cx="131.44" cy="426.7" r="2.3"/>
<circle cx="127.46" cy="433.63" r="2.3"/>
<circle cx="127.47" cy="402.62" r="2.3"/>
<circle cx="131.12" cy="407.29" r="2.3"/>
<circle cx="128.22" cy="419.99" r="2.3"/>
<circle cx="131.22" cy="426.04" r="2.3"/>
<circle cx="130.71" cy="424.94" r="2.3"/>
<circle cx="130.91" cy="414.89" r="2.3"/>
<circle cx="131.56" cy="435.26" r="2.3"/>
<circle cx="131.45" cy="436.88" r="2.3"/>
<circle cx="132.29" cy="420.1" r="2.3"/>
<circle cx="130.92" cy="415.39" r="2.3"/>
<circle cx="129.32" cy="435.84" r="2.3"/>
<circle cx="129.07" cy="410.47" r="2.3"/>
<circle cx="128.61" cy="398.72" r="2.3"/>
<circle cx="128.7" cy="428.75" r="2.3"/>
<circle cx="127.99" cy="419.98" r="2.3"/>
<circle cx="132.02" cy="402.74" r="2.3"/>
<circle cx="128.2" cy="426.18" r="2.3"/>
<circle cx="128.24" cy="406.43" r="2.3"/>
<circle cx="131.18" cy="427.4" r="2.3"/>
<circle cx="129.65" cy="437.44" r="2.3"/>
<circle cx="129.88" cy="451.14" r="2.3"/>
<circle cx="129.71" cy="461.29" r="2.3"/>
<circle cx="128.59" cy="449.15" r="2.3"/>
<circle cx="130.54" cy="461.13" r="2.3"/>
<circle cx="129.64" cy="462" r="2.3"/>
<circle cx="135.43" cy="427.83" r="2.3"/>
<circle cx="136.15" cy="410.64" r="2.3"/>
<circle cx="134.57" cy="431.38" r="2.3"/>
<circle cx="135.87" cy="410.53" r="2.3"/>
<circle cx="133.95" cy="422.71" r="2.3"/>
<circle cx="136.04" cy="411.73" r="2.3"/>
<circle cx="135.47" cy="416.98" r="2.3"/>
<circle cx="137.05" cy="436.17" r="2.3"/>
<circle cx="132.97" cy="417.9" r="2.3"/>
<circle cx="135.17" cy="433.93" r="2.3"/>
<circle cx="137.25" cy="426.54" r="2.3"/>
<circle cx="137.58" cy="422.76" r="2.3"/>
<circle cx="135.52" cy="421.77" r="2.3"/>
<circle cx="134.24" cy="408.4" r="2.3"/>
<circle cx="135.1" cy="415.83" r="2.3"/>
<circle cx="136.31" cy="418.83" r="2.3"/>
<circle cx="137.86" cy="428.77" r="2.3"/>
<circle cx="132.59" cy="420.84" r="2.3"/>
<circle cx="135.63" cy="422.05" r="2.3"/>
<circle cx="136.93" cy="419.94" r="2.3"/>
<circle cx="134.6" cy="413.98" r="2.3"/>
<circle cx="135.71" cy="457.11" r="2.3"/>
<circle cx="134.5" cy="453.78" r="2.3"/>
<circle cx="134.84" cy="465.42" r="2.3"/>
<circle cx="135.44" cy="470.65" r="2.3"/>
<circle cx="134.84" cy="465.23" r="2.3"/>
<circle cx="135.61" cy="472" r="2.3"/>
<circle cx="138.55" cy="424.74" r="2.3"/>
<circle cx="141.95" cy="432.45" r="2.3"/>
<circle cx="141.31" cy="418.33" r="2.3"/>
<circle cx="138.73" cy="428.39" r="2.3"/>
<circle cx="140.4" cy="435.33" r="2.3"/>
<circle cx="142.57" cy="424.27" r="2.3"/>
<circle cx="138.13" cy="439.75" r="2.3"/>
<circle cx="142.4" cy="432.08" r="2.3"/>
<circle cx="138.14" cy="428.38" r="2.3"/>
<circle cx="138.63" cy="433.42" r="2.3"/>
<circle cx="142.6" cy="417.23" r="2.3"/>
<circle cx="142.27" cy="430.09" r="2.3"/>
<circle cx="140.8" cy="458.2" r="2.3"/>
<circle cx="141.35" cy="452.4" r="2.3"/>
<circle cx="140.84" cy="475.64" r="2.3"/>
<circle cx="141.67" cy="468.17" r="2.3"/>
<circle cx="141.96" cy="453.92" r="2.3"/>
<circle cx="140.01" cy="465.75" r="2.3"/>
<circle cx="140.38" cy="476" r="2.3"/>
<circle cx="144.91" cy="431.85" r="2.3"/>
<circle cx="148.69" cy="425.93" r="2.3"/>
<circle cx="148.93" cy="437.54" r="2.3"/>
<circle cx="146.66" cy="433.84" r="2.3"/>
<circle cx="149.04" cy="434.24" r="2.3"/>
<circle cx="144.24" cy="425.79" r="2.3"/>
<circle cx="148.51" cy="436.96" r="2.3"/>
<circle cx="144.58" cy="419.46" r="2.3"/>
<circle cx="144.55" cy="443.37" r="2.3"/>
<circle cx="147.19" cy="437.02" r="2.3"/>
<circle cx="146.56" cy="464.34" r="2.3"/>
<circle cx="145.06" cy="481.86" r="2.3"/>
<circle cx="146.24" cy="456.78" r="2.3"/>
<circle cx="146.02" cy="454.43" r="2.3"/>
<circle cx="145.47" cy="472.13" r="2.3"/>
<circle cx="145.71" cy="470.07" r="2.3"/>
<circle cx="145.88" cy="472.07" r="2.3"/>
<circle cx="145.12" cy="475.13" r="2.3"/>
<circle cx="145.4" cy="476.35" r="2.3"/>
<circle cx="146.58" cy="488.31" r="2.3"/>
<circle cx="146.29" cy="490" r="2.3"/>
<circle cx="151.35" cy="431.44" r="2.3"/>
<circle cx="153.26" cy="424.52" r="2.3"/>
<circle cx="154.57" cy="437.07" r="2.3"/>
<circle cx="151.34" cy="433.01" r="2.3"/>
<circle cx="151.98" cy="430.72" r="2.3"/>
<circle cx="150.85" cy="435.64" r="2.3"/>
<circle cx="153.12" cy="425.96" r="2.3"/>
<circle cx="152.36" cy="417.71" r="2.3"/>
<circle cx="151.85" cy="420.7" r="2.3"/>
<circle cx="151.98" cy="419.93" r="2.3"/>
<circle cx="150.38" cy="439.92" r="2.3"/>
<circle cx="152.75" cy="422.33" r="2.3"/>
<circle cx="153.53" cy="430.33" r="2.3"/>
<circle cx="150.8" cy="483.9" r="2.3"/>
<circle cx="150.86" cy="479.18" r="2.3"/>
<circle cx="153.01" cy="468.35" r="2.3"/>
<circle cx="151.17" cy="445.52" r="2.3"/>
<circle cx="151.38" cy="458.22" r="2.3"/>
<circle cx="152.87" cy="448.16" r="2.3"/>
<circle cx="151.57" cy="480.16" r="2.3"/>
<circle cx="152.06" cy="460.65" r="2.3"/>
<circle cx="150.62" cy="447.45" r="2.3"/>
<circle cx="151.34" cy="483.69" r="2.3"/>
<circle cx="151.84" cy="488" r="2.3"/>
<circle cx="159.76" cy="421.96" r="2.3"/>
<circle cx="155.74" cy="438.57" r="2.3"/>
<circle cx="155.68" cy="417.46" r="2.3"/>
<circle cx="157.21" cy="439.63" r="2.3"/>
<circle cx="155.72" cy="411.28" r="2.3"/>
<circle cx="159.46" cy="419.81" r="2.3"/>
<circle cx="156.33" cy="437.04" r="2.3"/>
<circle cx="158.54" cy="435.04" r="2.3"/>
<circle cx="157.06" cy="414.08" r="2.3"/>
<circle cx="158.52" cy="411.91" r="2.3"/>
<circle cx="158.27" cy="418.16" r="2.3"/>
<circle cx="158.25" cy="426.42" r="2.3"/>
<circle cx="155.86" cy="434.28" r="2.3"/>
<circle cx="156.13" cy="407.42" r="2.3"/>
<circle cx="160.03" cy="424.12" r="2.3"/>
<circle cx="154.85" cy="414.17" r="2.3"/>
<circle cx="159.03" cy="423.78" r="2.3"/>
<circle cx="155.96" cy="417.95" r="2.3"/>
<circle cx="158.63" cy="491.7" r="2.3"/>
<circle cx="157.26" cy="447.23" r="2.3"/>
<circle cx="157.06" cy="484.16" r="2.3"/>
<circle cx="157.36" cy="493.36" r="2.3"/>
<circle cx="157.51" cy="454.76" r="2.3"/>
<circle cx="157" cy="478.72" r="2.3"/>
<circle cx="158.1" cy="479.4" r="2.3"/>
<circle cx="157.37" cy="472.11" r="2.3"/>
<circle cx="157.84" cy="489.04" r="2.3"/>
<circle cx="158.53" cy="472.31" r="2.3"/>
<circle cx="158.09" cy="454.46" r="2.3"/>
<circle cx="157.64" cy="454.01" r="2.3"/>
<circle cx="157.1" cy="497" r="2.3"/>
<circle cx="162.55" cy="434.74" r="2.3"/>
<circle cx="164.49" cy="420.08" r="2.3"/>
<circle cx="163.32" cy="418.75" r="2.3"/>
<circle cx="164.07" cy="425.9" r="2.3"/>
<circle cx="160.96" cy="423.82" r="2.3"/>
<circle cx="162.56" cy="422.81" r="2.3"/>
<circle cx="165.13" cy="430.69" r="2.3"/>
<circle cx="161.43" cy="414.01" r="2.3"/>
<circle cx="161.86" cy="425.87" r="2.3"/>
<circle cx="161.58" cy="423.45" r="2.3"/>
<circle cx="161.07" cy="422.46" r="2.3"/>
<circle cx="164.71" cy="410.08" r="2.3"/>
<circle cx="162.39" cy="428.18" r="2.3"/>
<circle cx="160.35" cy="437.71" r="2.3"/>
<circle cx="160.92" cy="421.33" r="2.3"/>
<circle cx="163.89" cy="459.09" r="2.3"/>
<circle cx="162.6" cy="453.5" r="2.3"/>
<circle cx="162.68" cy="462.34" r="2.3"/>
<circle cx="161.67" cy="449.82" r="2.3"/>
<circle cx="163.56" cy="501.78" r="2.3"/>
<circle cx="162.18" cy="486.97" r="2.3"/>
<circle cx="163.01" cy="459.81" r="2.3"/>
<circle cx="162.78" cy="459.16" r="2.3"/>
<circle cx="162.53" cy="498.18" r="2.3"/>
<circle cx="164.13" cy="464.54" r="2.3"/>
<circle cx="161.68" cy="480.02" r="2.3"/>
<circle cx="162.78" cy="502" r="2.3"/>
<circle cx="216.7" cy="429.88" r="2.3"/>
<circle cx="216.94" cy="427.71" r="2.3"/>
<circle cx="216.82" cy="429.83" r="2.3"/>
<circle cx="220.14" cy="441.43" r="2.3"/>
<circle cx="218.68" cy="435.86" r="2.3"/>
<circle cx="218.96" cy="439.38" r="2.3"/>
<circle cx="216.75" cy="436.24" r="2.3"/>
<circle cx="219.67" cy="430.29" r="2.3"/>
<circle cx="219.35" cy="432.64" r="2.3"/>
<circle cx="218.44" cy="434.78" r="2.3"/>
<circle cx="215.93" cy="436.43" r="2.3"/>
<circle cx="215.72" cy="422.55" r="2.3"/>
<circle cx="217.09" cy="468.01" r="2.3"/>
<circle cx="217.58" cy="482.61" r="2.3"/>
<circle cx="216.94" cy="478.59" r="2.3"/>
<circle cx="216.96" cy="471.49" r="2.3"/>
<circle cx="218.26" cy="449.52" r="2.3"/>
<circle cx="218.56" cy="482.41" r="2.3"/>
<circle cx="218.82" cy="478.01" r="2.3"/>
<circle cx="216.98" cy="466.48" r="2.3"/>
<circle cx="217.26" cy="466.68" r="2.3"/>
<circle cx="217.7" cy="466.67" r="2.3"/>
<circle cx="217.29" cy="465.72" r="2.3"/>
<circle cx="217.86" cy="472.82" r="2.3"/>
<circle cx="216.98" cy="465.26" r="2.3"/>
<circle cx="218.23" cy="465.3" r="2.3"/>
<circle cx="218.55" cy="483" r="2.3"/>
<circle cx="223.94" cy="430.63" r="2.3"/>
<circle cx="224.72" cy="446.42" r="2.3"/>
<circle cx="226.08" cy="443.61" r="2.3"/>
<circle cx="226" cy="435.96" r="2.3"/>
<circle cx="224.63" cy="437.72" r="2.3"/>
<circle cx="225.99" cy="440.74" r="2.3"/>
<circle cx="221.02" cy="444.91" r="2.3"/>
<circle cx="220.97" cy="441.22" r="2.3"/>
<circle cx="223.71" cy="441.78" r="2.3"/>
<circle cx="220.84" cy="444.23" r="2.3"/>
<circle cx="225.44" cy="431.19" r="2.3"/>
<circle cx="220.92" cy="429.29" r="2.3"/>
<circle cx="224.07" cy="435.12" r="2.3"/>
<circle cx="223.35" cy="435.69" r="2.3"/>
<circle cx="221.67" cy="438.15" r="2.3"/>
<circle cx="222.92" cy="456.33" r="2.3"/>
<circle cx="222.98" cy="461.95" r="2.3"/>
<circle cx="222.96" cy="459.65" r="2.3"/>
<circle cx="222.78" cy="465.85" r="2.3"/>
<circle cx="223.08" cy="454.56" r="2.3"/>
<circle cx="224.19" cy="456.27" r="2.3"/>
<circle cx="224.35" cy="462.3" r="2.3"/>
<circle cx="223.64" cy="468" r="2.3"/>
<circle cx="226.79" cy="428.87" r="2.3"/>
<circle cx="227.56" cy="439.33" r="2.3"/>
<circle cx="228.33" cy="446.77" r="2.3"/>
<circle cx="228.5" cy="441.86" r="2.3"/>
<circle cx="228.23" cy="432.11" r="2.3"/>
<circle cx="227.94" cy="437.61" r="2.3"/>
<circle cx="230.88" cy="433.55" r="2.3"/>
<circle cx="226.72" cy="426.44" r="2.3"/>
<circle cx="227.49" cy="446.05" r="2.3"/>
<circle cx="231.5" cy="435.87" r="2.3"/>
<circle cx="230.3" cy="427.62" r="2.3"/>
<circle cx="227.11" cy="444.18" r="2.3"/>
<circle cx="230.37" cy="433.89" r="2.3"/>
<circle cx="228.42" cy="437.54" r="2.3"/>
<circle cx="226.76" cy="427.76" r="2.3"/>
<circle cx="228.3" cy="462.62" r="2.3"/>
<circle cx="229.19" cy="455.35" r="2.3"/>
<circle cx="229.3" cy="471.84" r="2.3"/>
<circle cx="229.19" cy="480.61" r="2.3"/>
<circle cx="228.03" cy="487.91" r="2.3"/>
<circle cx="228.02" cy="459.31" r="2.3"/>
<circle cx="229.8" cy="462.72" r="2.3"/>
<circle cx="229.13" cy="487.01" r="2.3"/>
<circle cx="228.68" cy="456.83" r="2.3"/>
<circle cx="228.59" cy="472.95" r="2.3"/>
<circle cx="230.35" cy="481.82" r="2.3"/>
<circle cx="229.39" cy="468.66" r="2.3"/>
<circle cx="229.03" cy="483.92" r="2.3"/>
<circle cx="230.27" cy="458.04" r="2.3"/>
<circle cx="227.88" cy="489.13" r="2.3"/>
<circle cx="228.86" cy="480.63" r="2.3"/>
<circle cx="228.67" cy="490" r="2.3"/>
<circle cx="232.78" cy="434.9" r="2.3"/>
<circle cx="231.99" cy="438.93" r="2.3"/>
<circle cx="235.48" cy="426.27" r="2.3"/>
<circle cx="233.56" cy="434.11" r="2.3"/>
<circle cx="233.92" cy="434.82" r="2.3"/>
<circle cx="233.85" cy="437.36" r="2.3"/>
<circle cx="234.18" cy="433.12" r="2.3"/>
<circle cx="236.92" cy="444.57" r="2.3"/>
<circle cx="236.75" cy="441.17" r="2.3"/>
<circle cx="233.47" cy="435.02" r="2.3"/>
<circle cx="235.1" cy="438.16" r="2.3"/>
<circle cx="232.42" cy="431.98" r="2.3"/>
<circle cx="234.97" cy="440.52" r="2.3"/>
<circle cx="233.97" cy="432.8" r="2.3"/>
<circle cx="235.05" cy="434.63" r="2.3"/>
<circle cx="234.63" cy="453.42" r="2.3"/>
<circle cx="235.01" cy="466.16" r="2.3"/>
<circle cx="234.07" cy="482.03" r="2.3"/>
<circle cx="233.56" cy="464.89" r="2.3"/>
<circle cx="233.95" cy="476.5" r="2.3"/>
<circle cx="235.41" cy="477.44" r="2.3"/>
<circle cx="235.69" cy="458.78" r="2.3"/>
<circle cx="234.45" cy="466.88" r="2.3"/>
<circle cx="235.8" cy="468.54" r="2.3"/>
<circle cx="234.59" cy="466.42" r="2.3"/>
<circle cx="235.53" cy="459.94" r="2.3"/>
<circle cx="234.23" cy="466.85" r="2.3"/>
<circle cx="233.9" cy="456.89" r="2.3"/>
<circle cx="234.97" cy="483" r="2.3"/>
<circle cx="241.84" cy="445.18" r="2.3"/>
<circle cx="241.18" cy="440.66" r="2.3"/>
<circle cx="241.87" cy="428.88" r="2.3"/>
<circle cx="241.9" cy="437.8" r="2.3"/>
<circle cx="237.53" cy="437.48" r="2.3"/>
<circle cx="240.77" cy="445.52" r="2.3"/>
<circle cx="240.96" cy="433.54" r="2.3"/>
<circle cx="242.82" cy="431.83" r="2.3"/>
<circle cx="238.43" cy="441.68" r="2.3"/>
<circle cx="242.84" cy="427.76" r="2.3"/>
<circle cx="241.41" cy="443" r="2.3"/>
<circle cx="241.74" cy="437.52" r="2.3"/>
<circle cx="242.61" cy="435.82" r="2.3"/>
<circle cx="239.78" cy="458" r="2.3"/>
<circle cx="239.28" cy="450.95" r="2.3"/>
<circle cx="239.45" cy="466.02" r="2.3"/>
<circle cx="240.88" cy="463.25" r="2.3"/>
<circle cx="240.2" cy="464.04" r="2.3"/>
<circle cx="239.57" cy="456.66" r="2.3"/>
<circle cx="240.54" cy="454.15" r="2.3"/>
<circle cx="240.35" cy="470" r="2.3"/>
<circle cx="511.5" cy="403.2" r="2.3"/>
<circle cx="510.21" cy="408.25" r="2.3"/>
<circle cx="510.06" cy="421.25" r="2.3"/>
<circle cx="510.27" cy="409.3" r="2.3"/>
<circle cx="510.77" cy="408.38" r="2.3"/>
<circle cx="510.24" cy="399.38" r="2.3"/>
<circle cx="515.36" cy="426.67" r="2.3"/>
<circle cx="515.2" cy="414.71" r="2.3"/>
<circle cx="516.82" cy="420.21" r="2.3"/>
<circle cx="515.54" cy="420.03" r="2.3"/>
<circle cx="515.42" cy="397.24" r="2.3"/>
<circle cx="516.52" cy="424.1" r="2.3"/>
<circle cx="515.21" cy="432.9" r="2.3"/>
<circle cx="520.41" cy="438.17" r="2.3"/>
<circle cx="519.51" cy="404.58" r="2.3"/>
<circle cx="520.71" cy="418.91" r="2.3"/>
<circle cx="519.17" cy="412.83" r="2.3"/>
<circle cx="522.69" cy="435.04" r="2.3"/>
<circle cx="521.66" cy="427.61" r="2.3"/>
<circle cx="521.41" cy="433.99" r="2.3"/>
<circle cx="521.48" cy="423.5" r="2.3"/>
<circle cx="523.01" cy="424.8" r="2.3"/>
<circle cx="520.35" cy="445.6" r="2.3"/>
<circle cx="522.48" cy="415.39" r="2.3"/>
<circle cx="523.18" cy="423.28" r="2.3"/>
<circle cx="522.04" cy="414.46" r="2.3"/>
<circle cx="519.17" cy="428.4" r="2.3"/>
<circle cx="523.64" cy="416.33" r="2.3"/>
<circle cx="525.34" cy="432.3" r="2.3"/>
<circle cx="525.02" cy="428.85" r="2.3"/>
<circle cx="525.41" cy="431.46" r="2.3"/>
<circle cx="529.76" cy="433.85" r="2.3"/>
<circle cx="524.93" cy="420.45" r="2.3"/>
<circle cx="524.86" cy="434.95" r="2.3"/>
<circle cx="525.96" cy="439.36" r="2.3"/>
<circle cx="528.29" cy="441.56" r="2.3"/>
<circle cx="527.25" cy="418.77" r="2.3"/>
<circle cx="525.6" cy="414.23" r="2.3"/>
<circle cx="525.57" cy="431.51" r="2.3"/>
<circle cx="526.74" cy="421.56" r="2.3"/>
<circle cx="524.83" cy="435.07" r="2.3"/>
<circle cx="526.86" cy="421.96" r="2.3"/>
<circle cx="525.33" cy="429.84" r="2.3"/>
<circle cx="525.71" cy="430.63" r="2.3"/>
<circle cx="525.93" cy="446.83" r="2.3"/>
<circle cx="527.48" cy="440.38" r="2.3"/>
<circle cx="524.54" cy="434.9" r="2.3"/>
<circle cx="525.41" cy="418.07" r="2.3"/>
<circle cx="525.44" cy="447.5" r="2.3"/>
<circle cx="528.34" cy="414.46" r="2.3"/>
<circle cx="528.11" cy="414.39" r="2.3"/>
<circle cx="528.13" cy="411.12" r="2.3"/>
<circle cx="529.42" cy="432.17" r="2.3"/>
<circle cx="527.44" cy="412.19" r="2.3"/>
<circle cx="527.88" cy="440.36" r="2.3"/>
<circle cx="528.02" cy="447.1" r="2.3"/>
<circle cx="529.02" cy="423.68" r="2.3"/>
<circle cx="524.51" cy="412.44" r="2.3"/>
<circle cx="527.45" cy="451.52" r="2.3"/>
<circle cx="527.69" cy="452" r="2.3"/>
<circle cx="532.42" cy="413.43" r="2.3"/>
<circle cx="531.96" cy="431.81" r="2.3"/>
<circle cx="535.48" cy="417.45" r="2.3"/>
<circle cx="533.81" cy="428.29" r="2.3"/>
<circle cx="531.7" cy="418.35" r="2.3"/>
<circle cx="534.39" cy="433.9" r="2.3"/>
<circle cx="530.38" cy="443.53" r="2.3"/>
<circle cx="531.28" cy="438.8" r="2.3"/>
<circle cx="534.76" cy="415.09" r="2.3"/>
<circle cx="533.79" cy="426.39" r="2.3"/>
<circle cx="533.48" cy="429.54" r="2.3"/>
<circle cx="535.21" cy="425.83" r="2.3"/>
<circle cx="530.94" cy="413.16" r="2.3"/>
<circle cx="534.6" cy="418.34" r="2.3"/>
<circle cx="533.86" cy="447.15" r="2.3"/>
<circle cx="532.69" cy="431.76" r="2.3"/>
<circle cx="535" cy="433.61" r="2.3"/>
<circle cx="534.14" cy="441.3" r="2.3"/>
<circle cx="532.17" cy="436.14" r="2.3"/>
<circle cx="532.12" cy="425.26" r="2.3"/>
<circle cx="531.78" cy="411.67" r="2.3"/>
<circle cx="534.15" cy="442.14" r="2.3"/>
<circle cx="531.93" cy="417.95" r="2.3"/>
<circle cx="535.36" cy="410.91" r="2.3"/>
<circle cx="530.01" cy="429.13" r="2.3"/>
<circle cx="534.6" cy="415.12" r="2.3"/>
<circle cx="535.31" cy="421.8" r="2.3"/>
<circle cx="531.28" cy="425.67" r="2.3"/>
<circle cx="531.38" cy="413.42" r="2.3"/>
<circle cx="534.99" cy="421.08" r="2.3"/>
<circle cx="531.45" cy="452.98" r="2.3"/>
<circle cx="533" cy="453" r="2.3"/>
<circle cx="535.72" cy="427.89" r="2.3"/>
<circle cx="539.37" cy="424.6" r="2.3"/>
<circle cx="537.1" cy="427.11" r="2.3"/>
<circle cx="536.08" cy="412.2" r="2.3"/>
<circle cx="539.05" cy="432.55" r="2.3"/>
<circle cx="536.57" cy="428.81" r="2.3"/>
<circle cx="537.04" cy="419.99" r="2.3"/>
<circle cx="537.17" cy="432.13" r="2.3"/>
<circle cx="538.13" cy="428.62" r="2.3"/>
<circle cx="536.95" cy="425.53" r="2.3"/>
<circle cx="538.32" cy="419.56" r="2.3"/>
<circle cx="538.12" cy="443.89" r="2.3"/>
<circle cx="540.41" cy="431.71" r="2.3"/>
<circle cx="536.14" cy="426.61" r="2.3"/>
<circle cx="539.59" cy="417.06" r="2.3"/>
<circle cx="540.1" cy="430.7" r="2.3"/>
<circle cx="537.93" cy="427.96" r="2.3"/>
<circle cx="540.7" cy="423.96" r="2.3"/>
<circle cx="538.45" cy="443.35" r="2.3"/>
<circle cx="537.69" cy="428.65" r="2.3"/>
<circle cx="539.15" cy="429.8" r="2.3"/>
<circle cx="539.19" cy="432.27" r="2.3"/>
<circle cx="539.51" cy="418.57" r="2.3"/>
<circle cx="540.59" cy="433.58" r="2.3"/>
<circle cx="540.01" cy="417.7" r="2.3"/>
<circle cx="538.43" cy="423.3" r="2.3"/>
<circle cx="540.63" cy="411.69" r="2.3"/>
<circle cx="535.64" cy="429" r="2.3"/>
<circle cx="539.78" cy="421.54" r="2.3"/>
<circle cx="535.56" cy="445.4" r="2.3"/>
<circle cx="538.66" cy="451.7" r="2.3"/>
<circle cx="537.75" cy="452" r="2.3"/>
<circle cx="546.19" cy="447.2" r="2.3"/>
<circle cx="544.8" cy="424.49" r="2.3"/>
<circle cx="545.77" cy="425.66" r="2.3"/>
<circle cx="541.81" cy="425.97" r="2.3"/>
<circle cx="546.2" cy="429.44" r="2.3"/>
<circle cx="546.18" cy="424.84" r="2.3"/>
<circle cx="541.34" cy="426.35" r="2.3"/>
<circle cx="542.29" cy="429.34" r="2.3"/>
<circle cx="544.11" cy="438.73" r="2.3"/>
<circle cx="546.08" cy="416.03" r="2.3"/>
<circle cx="545.09" cy="418.75" r="2.3"/>
<circle cx="541.71" cy="430.82" r="2.3"/>
<circle cx="545.34" cy="435.36" r="2.3"/>
<circle cx="544.26" cy="423.92" r="2.3"/>
<circle cx="543.6" cy="419.09" r="2.3"/>
<circle cx="542.78" cy="429.37" r="2.3"/>
<circle cx="543.18" cy="429.63" r="2.3"/>
<circle cx="545.91" cy="435.52" r="2.3"/>
<circle cx="544.59" cy="427.68" r="2.3"/>
<circle cx="542.82" cy="439.78" r="2.3"/>
<circle cx="544.69" cy="434.29" r="2.3"/>
<circle cx="543.1" cy="427.12" r="2.3"/>
<circle cx="542.14" cy="430.25" r="2.3"/>
<circle cx="543.87" cy="432.51" r="2.3"/>
<circle cx="543.15" cy="428.39" r="2.3"/>
<circle cx="546.09" cy="436.94" r="2.3"/>
<circle cx="541.9" cy="447.26" r="2.3"/>
<circle cx="542.57" cy="466.54" r="2.3"/>
<circle cx="542.47" cy="456.75" r="2.3"/>
<circle cx="544.76" cy="463.8" r="2.3"/>
<circle cx="543.95" cy="470" r="2.3"/>
<circle cx="550.18" cy="435.71" r="2.3"/>
<circle cx="550.93" cy="432.7" r="2.3"/>
<circle cx="546.9" cy="431.05" r="2.3"/>
<circle cx="550.57" cy="444.25" r="2.3"/>
<circle cx="551.85" cy="434.32" r="2.3"/>
<circle cx="549.14" cy="429.97" r="2.3"/>
<circle cx="550.93" cy="430.15" r="2.3"/>
<circle cx="550.43" cy="441.71" r="2.3"/>
<circle cx="550.43" cy="416.06" r="2.3"/>
<circle cx="546.99" cy="423.36" r="2.3"/>
<circle cx="550.69" cy="434.96" r="2.3"/>
<circle cx="549.2" cy="426.05" r="2.3"/>
<circle cx="547.2" cy="431.31" r="2.3"/>
<circle cx="551.92" cy="434.58" r="2.3"/>
<circle cx="549.72" cy="447.97" r="2.3"/>
<circle cx="550.16" cy="445.86" r="2.3"/>
<circle cx="546.54" cy="436.05" r="2.3"/>
<circle cx="547.8" cy="432.3" r="2.3"/>
<circle cx="548.73" cy="434.75" r="2.3"/>
<circle cx="547.48" cy="418.43" r="2.3"/>
<circle cx="549.86" cy="432.3" r="2.3"/>
<circle cx="550.35" cy="440.26" r="2.3"/>
<circle cx="551.06" cy="419.79" r="2.3"/>
<circle cx="548.25" cy="443.89" r="2.3"/>
<circle cx="549.71" cy="457.52" r="2.3"/>
<circle cx="549.33" cy="461.75" r="2.3"/>
<circle cx="549.22" cy="462" r="2.3"/>
<circle cx="119" cy="357" r="2.3"/>
<circle cx="121.2" cy="361.3" r="2.3"/>
<circle cx="122.6" cy="373.3" r="2.3"/>
<circle cx="118" cy="366" r="2.3"/>
<circle cx="119.5" cy="380" r="2.3"/>
<circle cx="120.5" cy="388" r="2.3"/>
<circle cx="117.5" cy="395" r="2.3"/>
<circle cx="121" cy="352" r="2.3"/>
<circle cx="123.5" cy="382" r="2.3"/>
<circle cx="125" cy="390" r="2.3"/>
<circle cx="220.6" cy="377" r="2.3"/>
<circle cx="221.8" cy="381.5" r="2.3"/>
<circle cx="220.9" cy="386.5" r="2.3"/>
<circle cx="222.2" cy="392" r="2.3"/>
<circle cx="221" cy="398" r="2.3"/>
<circle cx="222.5" cy="404" r="2.3"/>
<circle cx="221.3" cy="410" r="2.3"/>
<circle cx="223.5" cy="414" r="2.3"/>
<circle cx="219.5" cy="400" r="2.3"/>
<circle cx="223.6" cy="424" r="2.3"/>
<circle cx="224.8" cy="430" r="2.3"/>
<circle cx="222.8" cy="436" r="2.3"/>
<circle cx="225.5" cy="441" r="2.3"/>
<circle cx="512.7" cy="336.5" r="2.3"/>
<circle cx="516.6" cy="355.8" r="2.3"/>
<circle cx="512.5" cy="368.7" r="2.3"/>
<circle cx="519.3" cy="370.9" r="2.3"/>
<circle cx="517.7" cy="381.1" r="2.3"/>
<circle cx="517" cy="387.9" r="2.3"/>
<circle cx="512" cy="394.7" r="2.3"/>
<circle cx="517.7" cy="400.3" r="2.3"/>
<circle cx="524" cy="403.7" r="2.3"/>
<circle cx="513.5" cy="349" r="2.3"/>
<circle cx="515" cy="362" r="2.3"/>
<circle cx="518" cy="377" r="2.3"/>
<circle cx="514" cy="384" r="2.3"/>
<circle cx="543.7" cy="481" r="2.3"/>
<circle cx="549.4" cy="488.7" r="2.3"/>
<circle cx="510.9" cy="475.8" r="2.3"/>
<circle cx="156.5" cy="497.6" r="2.3"/>
<circle cx="162.4" cy="502.6" r="2.3"/>
<circle cx="120" cy="346" r="2.3"/>
<circle cx="132.1" cy="392.3" r="2.3"/>
<circle cx="143.1" cy="404.7" r="2.3"/>
<circle cx="155.5" cy="405.4" r="2.3"/>
<circle cx="159.9" cy="414.9" r="2.3"/>
</g>
<polyline fill="none" stroke="#ff0000" stroke-width="2" stroke-linejoin="round" points="77.1,422.4 80.6,408.8 83.2,425 86.3,413.2 89.3,430.3 92,416.3 95,430.7 98.1,414.5 100.5,428 102.9,412.8 104.2,423.3 106.1,398 107.4,368.9 108.7,355.1 109.7,372 110.2,377 111.2,368.9 112.3,361.7 113.5,334.3 114.3,361.7 115.3,389.3 115.8,361.7 116.9,394.4 117.9,368.9 119.2,359.7 120.4,368.9 121.7,390 123,378 125.5,380 127.5,391 128.7,400.4 129.5,406 130.4,401.5 132.2,408.5 133.9,419 135.7,416.7 137.4,420.2 139.2,428.4 141.5,429.6 143.9,434.2 146.2,437.2 149.7,440.1 153.2,441.8 156.7,443.6 161.4,444.7 163.7,445.9 167,445.3 167,431.9"/>
<polyline fill="none" stroke="#ff0000" stroke-width="2" stroke-linejoin="round" points="201.9,430.4 205.2,432.6 208,424.9 210.7,433.6 213.9,431.5 216,427.6 217.8,383.8 219.6,382.9 221.3,390.8 222.2,405 223,416.2 224.8,412.7 226.6,417.1 227.5,429.4 229.2,428.5 231,432.9 232.7,437.3 234.5,439.9 238,439.9 239.7,444.3 242.4,443.4 245,424.1 245.9,422.4"/>
<polyline fill="none" stroke="#ff0000" stroke-width="2" stroke-linejoin="round" points="470.2,432 472.4,428.6 474.5,434 476,429 478.1,429.1 480,434.5 483.8,430.9 486,436.5 489.4,433.1 491.7,437.7 495,437.4 497.5,440.8 500,437.4 501.7,432.4 502.6,426.5 504.5,424 506.8,420.6 511.8,341.8 512.6,351.8 514.2,362 516,377 517.7,365.3 519.3,372 521,383.7 522.7,380.4 524.4,388.8 526.9,400.5 528.6,393.8 530.3,398.8 532.3,405.5 534.4,404.7 536.1,410.6 538.3,417.3 540.3,424 542.8,430.7 545.4,429 548.7,435.8 552.1,434.1 554.6,429.9"/>
<polyline fill="none" stroke="#0000ff" stroke-width="2.2" stroke-linejoin="round" points="66.1,425.83 66.6,426.46 67.1,426.46 67.6,425.82 68.1,424.71 68.6,423.49 69.1,422.51 69.6,422.08 70.1,422.32 70.6,423.14 71.1,424.27 71.6,425.34 72.1,426.01 72.6,426.05 73.1,425.43 73.6,424.34 74.1,423.1 74.6,422.11 75.1,421.66 75.6,421.89 76.1,422.71 76.6,423.86 77.1,424.97 77.6,425.67 78.1,425.74 78.6,425.14 79.1,424.05 79.6,422.8 80.1,421.79 80.6,421.39 81.1,421.67 81.6,422.55 82.1,423.77 82.6,424.96 83.1,425.75 83.6,425.92 84.1,425.41 84.6,424.42 85.1,423.25 85.6,422.31 86.1,421.77 86.6,421.44 87.1,421.75 87.6,422.45 88.1,423.17 88.6,423.51 89.1,423.2 89.6,422.16 90.1,420.55 90.6,418.69 91.1,417.03 91.6,415.94 92.1,415.57 92.6,415.78 93.1,416.46 93.6,417.19 94.1,417.51 94.6,417.07 95.1,415.78 95.6,413.78 96.1,411.49 96.6,409.39 97.1,407.95 97.6,407.47 98.1,407.88 98.6,408.85 99.1,409.89 99.6,410.45 100.1,410.15 100.6,408.83 101.1,406.7 101.6,404.2 102.1,401.99 102.6,400.83 103.1,400.72 103.6,401.6 104.1,403.12 104.6,404.71 105.1,405.77 105.6,405.87 106.1,404.87 106.6,402.99 107.1,400.73 107.6,398.69 108.1,397.45 108.6,397.35 109.1,398.31 109.6,399.95 110.1,401.69 110.6,402.9 111.1,403.1 111.6,402.16 112.1,400.27 112.6,397.95 113.1,395.85 113.6,394.61 114.1,394.51 114.6,395.53 115.1,397.28 115.6,399.16 116.1,400.5 116.6,400.81 117.1,399.92 117.6,398.03 118.1,395.68 118.6,393.53 119.1,392.19 119.6,391.98 120.1,392.94 120.6,394.7 121.1,396.61 121.6,397.99 122.1,398.32 122.6,397.39 123.1,395.4 123.6,392.9 124.1,390.57 124.6,389.09 125.1,389.66 125.6,391.44 126.1,394.01 126.6,396.72 127.1,398.87 127.6,399.91 128.1,399.46 128.6,397.99 129.1,396.03 129.6,394.24 130.1,393.24 130.6,393.79 131.1,396.06 131.6,399.06 132.1,402.17 132.6,404.76 133.1,406.39 133.6,406.64 134.1,405.56 134.6,404.03 135.1,402.64 135.6,401.93 136.1,402.23 136.6,403.52 137.1,405.5 137.6,407.64 138.1,409.38 138.6,410.28 139.1,410.18 139.6,409.32 140.1,408.07 140.6,406.94 141.1,406.43 141.6,406.83 142.1,408.16 142.6,410.12 143.1,412.24 143.6,414.01 144.1,415.02 144.6,415.12 145.1,414.45 145.6,413.38 146.1,412.4 146.6,411.96 147.1,412.34 147.6,413.54 148.1,415.33 148.6,417.27 149.1,418.91 149.6,419.88 150.1,420.05 150.6,419.51 151.1,418.58 151.6,417.72 152.1,417.32 152.6,417.64 153.1,418.7 153.6,420.28 154.1,422.01 154.6,423.49 155.1,424.39 155.6,424.56 156.1,424 156.6,423.1 157.1,422.24 157.6,421.77 158.1,421.93 158.6,422.76 159.1,424.07 159.6,425.54 160.1,426.8 160.6,427.55 161.1,427.66 161.6,427.2 162.1,426.4 162.6,425.63 163.1,425.21 163.6,425.35 164.1,426.1 164.6,427.29 165.1,428.64 165.6,429.81 166.1,430.54 166.6,430.68 167.1,430.19 167.6,429.4 168.1,428.6 168.6,428.11 169.1,428.13 169.6,428.7 170.1,429.7 170.6,430.86 171.1,431.87 171.6,432.48 172.1,432.55 172.6,432.12 173.1,431.4 173.6,430.66 174.1,430.01 174.6,429.83 175.1,430.18 175.6,430.94 176.1,431.88 176.6,432.7 177.1,433.14 177.6,433.06 178.1,432.5 178.6,431.61 179.1,430.7 179.6,430.03 180.1,429.82 180.6,430.08 181.1,430.77 181.6,431.65 182.1,432.42 182.6,432.83 183.1,432.72 183.6,432.1 184.1,431.15 184.6,430.15 185.1,429.39 185.6,429.1 186.1,429.34 186.6,430.03 187.1,430.89 187.6,431.66 188.1,432.06 188.6,431.93 189.1,431.27 189.6,430.26 190.1,429.18 190.6,428.34 191.1,427.97 191.6,428.17 192.1,428.83 192.6,429.73 193.1,430.55 193.6,430.99 194.1,430.88 194.6,430.22 195.1,429.18 195.6,428.06 196.1,427.17 196.6,426.77 197.1,426.96 197.6,427.64 198.1,428.57 198.6,429.43 199.1,429.91 199.6,429.83 200.1,429.17 200.6,428.1 201.1,426.94 201.6,426.06 202.1,425.69 202.6,425.92 203.1,426.66 203.6,427.68 204.1,428.63 204.6,429.2 205.1,429.19 205.6,428.59 206.1,427.57 206.6,426.44 207.1,425.54 207.6,425.13 208.1,425.34 208.6,426.06 209.1,427.03 209.6,427.96 210.1,428.51 210.6,428.48 211.1,427.83 211.6,426.75 212.1,425.53 212.6,424.52 213.1,424.03 213.6,424.16 214.1,424.86 214.6,425.86 215.1,426.84 215.6,427.43 216.1,427.4 216.6,426.72 217.1,425.56 217.6,424.26 218.1,423.16 218.6,422.58 219.1,422.65 219.6,423.32 220.1,424.33 220.6,425.32 221.1,425.93 221.6,425.92 222.1,425.24 222.6,424.05 223.1,422.7 223.6,421.58 224.1,421 224.6,421.1 225.1,421.82 225.6,422.92 226.1,424 226.6,424.7 227.1,424.76 227.6,424.12 228.1,422.96 228.6,421.59 229.1,420.43 229.6,419.8 230.1,419.88 230.6,420.65 231.1,421.82 231.6,423 232.1,423.8 232.6,423.94 233.1,423.37 233.6,422.25 234.1,420.92 234.6,419.77 235.1,419.17 235.6,419.28 236.1,420.06 236.6,421.24 237.1,422.45 237.6,423.28 238.1,423.5 238.6,422.99 239.1,421.92 239.6,420.63 240.1,419.51 240.6,418.92 241.1,419.06 241.6,419.87 242.1,421.09 242.6,422.36 243.1,423.25 243.6,423.5 244.1,423.03 244.6,421.97 245.1,420.71 245.6,419.66 246.1,419.13 246.6,419.32 247.1,420.17 247.6,421.46 248.1,422.79 248.6,423.77 249.1,424.11 249.6,423.75 250.1,422.81 250.6,421.77 251.1,420.88 251.6,420.5 252.1,420.81 252.6,421.77 253.1,423.14 253.6,424.56 254.1,425.65 254.6,426.14 255.1,425.97 255.6,425.25 256.1,424.3 256.6,423.48 257.1,423.09 257.6,423.34 258.1,424.21 258.6,425.47 259.1,426.79 259.6,427.82 260.1,428.3 260.6,428.15 261.1,427.49 261.6,426.59 262.1,425.8 262.6,425.44 263.1,425.66 263.6,426.46 264.1,427.64 264.6,428.89 265.1,429.88 265.6,430.36 266.1,430.26 266.6,429.67 267.1,428.85 267.6,428.13 268.1,427.7 268.6,427.83 269.1,428.5 269.6,429.53 270.1,430.65 270.6,431.53 271.1,431.95 271.6,431.82 272.1,431.22 272.6,430.39 273.1,429.63 273.6,429.21 274.1,429.32 274.6,429.94 275.1,430.92 275.6,431.99 276.1,432.85 276.6,433.28 277.1,433.18 277.6,432.63 278.1,431.85 278.6,431.12 279.1,430.71 279.6,430.78 280.1,431.35 280.6,432.27 281.1,433.28 281.6,434.11 282.1,434.53 282.6,434.45 283.1,433.94 283.6,433.2 284.1,432.5 284.6,432.1 285.1,432.15 285.6,432.68 286.1,433.55 286.6,434.52 287.1,435.33 287.6,435.75 288.1,435.7 288.6,435.23 289.1,434.54 289.6,433.84 290.1,433.27 290.6,433.13 291.1,433.45 291.6,434.12 292.1,434.91 292.6,435.55 293.1,435.82 293.6,435.63 294.1,435.02 294.6,434.15 295.1,433.29 295.6,432.7 296.1,432.54 296.6,432.85 297.1,433.52 297.6,434.33 298.1,435 298.6,435.3 299.1,435.13 299.6,434.51 300.1,433.63 300.6,432.75 301.1,432.13 301.6,431.95 302.1,432.26 302.6,432.95 303.1,433.78 303.6,434.47 304.1,434.81 304.6,434.66 305.1,434.05 305.6,433.16 306.1,432.26 306.6,431.62 307.1,431.42 307.6,431.72 308.1,432.4 308.6,433.25 309.1,433.97 309.6,434.33 310.1,434.2 310.6,433.6 311.1,432.7 311.6,431.8 312.1,431.17 312.6,431 313.1,431.33 313.6,432.06 314.1,432.96 314.6,433.75 315.1,434.17 315.6,434.1 316.1,433.56 316.6,432.71 317.1,431.83 317.6,431.19 318.1,431 318.6,431.31 319.1,432.03 319.6,432.93 320.1,433.73 320.6,434.19 321.1,434.16 321.6,433.66 322.1,432.84 322.6,431.98 323.1,431.36 323.6,431.17 324.1,431.48 324.6,432.21 325.1,433.12 325.6,433.94 326.1,434.42 326.6,434.41 327.1,433.92 327.6,433.13 328.1,432.27 328.6,431.64 329.1,431.44 329.6,431.73 330.1,432.43 330.6,433.33 331.1,434.15 331.6,434.64 332.1,434.66 332.6,434.19 333.1,433.41 333.6,432.56 334.1,431.92 334.6,431.7 335.1,431.97 335.6,432.66 336.1,433.55 336.6,434.37 337.1,434.87 337.6,434.9 338.1,434.46 338.6,433.7 339.1,432.85 339.6,432.21 340.1,431.97 340.6,432.22 341.1,432.88 341.6,433.76 342.1,434.57 342.6,435.05 343.1,435.07 343.6,434.62 344.1,433.84 344.6,432.97 345.1,432.28 345.6,431.99 346.1,432.18 346.6,432.8 347.1,433.65 347.6,434.45 348.1,434.95 348.6,434.99 349.1,434.55 349.6,433.78 350.1,432.9 350.6,432.19 351.1,431.88 351.6,432.06 352.1,432.67 352.6,433.51 353.1,434.32 353.6,434.84 354.1,434.9 354.6,434.48 355.1,433.71 355.6,432.83 356.1,432.11 356.6,431.78 357.1,431.94 357.6,432.53 358.1,433.38 358.6,434.2 359.1,434.73 359.6,434.81 360.1,434.41 360.6,433.65 361.1,432.76 361.6,432.03 362.1,431.67 362.6,431.81 363.1,432.4 363.6,433.24 364.1,434.06 364.6,434.6 365.1,434.69 365.6,434.29 366.1,433.52 366.6,432.61 367.1,431.85 367.6,431.46 368.1,431.57 368.6,432.13 369.1,432.96 369.6,433.79 370.1,434.35 370.6,434.46 371.1,434.08 371.6,433.31 372.1,432.39 372.6,431.61 373.1,431.2 373.6,431.29 374.1,431.84 374.6,432.67 375.1,433.51 375.6,434.1 376.1,434.23 376.6,433.86 377.1,433.12 377.6,432.28 378.1,431.56 378.6,431.22 379.1,431.37 379.6,431.98 380.1,432.88 380.6,433.8 381.1,434.46 381.6,434.69 382.1,434.41 382.6,433.75 383.1,432.93 383.6,432.22 384.1,431.87 384.6,432 385.1,432.58 385.6,433.45 386.1,434.36 386.6,435.02 387.1,435.26 387.6,435.01 388.1,434.38 388.6,433.58 389.1,432.88 389.6,432.52 390.1,432.63 390.6,433.19 391.1,434.03 391.6,434.92 392.1,435.58 392.6,435.83 393.1,435.6 393.6,434.99 394.1,434.21 394.6,433.51 395.1,433.14 395.6,433.22 396.1,433.74 396.6,434.55 397.1,435.42 397.6,436.07 398.1,436.33 398.6,436.13 399.1,435.55 399.6,434.78 400.1,434.1 400.6,433.72 401.1,433.78 401.6,434.28 402.1,435.06 402.6,435.91 403.1,436.57 403.6,436.84 404.1,436.66 404.6,436.1 405.1,435.36 405.6,434.68 406.1,434.3 406.6,434.34 407.1,434.81 407.6,435.58 408.1,436.37 408.6,436.98 409.1,437.22 409.6,437.02 410.1,436.44 410.6,435.67 411.1,434.95 411.6,434.51 412.1,434.49 412.6,434.9 413.1,435.6 413.6,436.39 414.1,437.02 414.6,437.28 415.1,437.09 415.6,436.53 416.1,435.76 416.6,435.04 417.1,434.58 417.6,434.54 418.1,434.93 418.6,435.63 419.1,436.42 419.6,437.05 420.1,437.33 420.6,437.17 421.1,436.62 421.6,435.85 422.1,435.12 422.6,434.65 423.1,434.6 423.6,434.97 424.1,435.66 424.6,436.45 425.1,437.09 425.6,437.38 426.1,437.24 450.2,433.42 450.7,433.43 451.2,433.76 451.7,434.32 452.2,434.95 452.7,435.47 453.2,435.73 453.7,435.67 454.2,435.32 454.7,434.81 455.2,434.32 455.7,434.02 456.2,434.01 456.7,434.32 457.2,434.86 457.7,435.48 458.2,436 458.7,436.27 459.2,436.22 459.7,435.89 460.2,435.38 460.7,434.84 461.2,434.48 461.7,434.41 462.2,434.65 462.7,435.13 463.2,435.69 463.7,436.16 464.2,436.39 464.7,436.31 465.2,435.94 465.7,435.4 466.2,434.86 466.7,434.49 467.2,434.41 467.7,434.64 468.2,435.11 468.7,435.67 469.2,436.15 469.7,436.39 470.2,436.32 470.7,435.96 471.2,435.42 471.7,434.88 472.2,434.5 472.7,434.4 473.2,434.62 473.7,435.09 474.2,435.65 474.7,436.13 475.2,436.39 475.7,436.33 476.2,435.98 476.7,435.45 477.2,434.9 477.7,434.51 478.2,434.4 478.7,434.61 479.2,435.06 479.7,435.63 480.2,436.12 480.7,436.38 481.2,436.34 481.7,436 482.2,435.47 482.7,434.85 483.2,434.11 483.7,433.64 484.2,433.5 484.7,433.63 485.2,433.9 485.7,434.11 486.2,434.1 486.7,433.74 487.2,433.05 487.7,432.13 488.2,431.16 488.7,430.34 489.2,429.84 489.7,429.66 490.2,429.77 490.7,430.04 491.2,430.25 491.7,430.21 492.2,429.79 492.7,428.97 493.2,427.87 493.7,426.7 494.2,425.7 494.7,425.07 495.2,424.87 495.7,425.05 496.2,425.43 496.7,425.98 497.2,426.23 497.7,426.05 498.2,425.41 498.7,424.47 499.2,423.45 499.7,422.63 500.2,422.2 500.7,422.24 501.2,422.69 501.7,423.35 502.2,423.96 502.7,424.26 503.2,424.09 503.7,423.44 504.2,422.46 504.7,421.39 505.2,420.52 505.7,420.17 506.2,420.35 506.7,420.96 507.2,421.8 507.7,422.58 508.2,423.04 508.7,423.03 509.2,422.52 509.7,421.66 510.2,420.71 510.7,419.95 511.2,419.61 511.7,419.77 512.2,420.38 512.7,421.23 513.2,422.03 513.7,422.52 514.2,422.52 514.7,422.03 515.2,421.17 515.7,420.2 516.2,419.42 516.7,419.04 517.2,419.13 517.7,419.68 518.2,420.49 518.7,421.26 519.2,421.73 519.7,421.7 520.2,421.16 520.7,420.24 521.2,419.2 521.7,418.33 522.2,417.88 522.7,417.95 523.2,418.51 523.7,419.33 524.2,420.14 524.7,420.64 525.2,420.64 525.7,420.11 526.2,419.17 526.7,418.1 527.2,417.2 527.7,416.71 528.2,416.74 528.7,417.23 529.2,418.02 529.7,418.8 530.2,419.28 530.7,419.25 531.2,418.67 531.7,417.65 532.2,416.48 532.7,415.47 533.2,414.89 533.7,414.87 534.2,415.38 534.7,416.2 535.2,417.49 535.7,418.45 536.2,418.89 536.7,418.77 537.2,418.23 537.7,417.55 538.2,417.02 538.7,416.92 539.2,417.36 539.7,418.28 540.2,419.5 540.7,420.86 541.2,421.97 541.7,422.59 542.2,422.71 542.7,422.45 543.2,422.06 543.7,421.81 544.2,421.93 544.7,422.53 545.2,423.56 545.7,424.84 546.2,426 546.7,426.74 547.2,427.07 547.7,426.96 548.2,426.5 548.7,425.9 549.2,425.41 549.7,425.24 550.2,425.5 550.7,426.16 551.2,427.07 551.7,428 552.2,428.72 552.7,429.06 553.2,428.99 553.7,428.58 554.2,428.03 554.7,427.58 555.2,427.38 555.7,427.52 556.2,428.05 556.7,428.83 557.2,429.63 557.7,430.25 558.2,430.51 558.7,430.38 559.2,429.92 559.7,429.32 560.2,428.79 560.7,428.54 561.2,428.67 561.7,429.17 562.2,429.91 562.7,430.69 563.2,431.3 563.7,431.58 564.2,431.47 564.7,431.04 565.2,430.47 565.7,429.96 566.2,429.7 566.7,429.82 567.2,430.28 567.7,430.99 568.2,431.75 568.7,432.34 569.2,432.62 569.7,432.53 570.2,432.13 570.7,431.58 571.2,431.08 571.7,430.83 572.2,430.92 572.7,431.36 573.2,432.04 573.7,432.77 574.2,433.36 574.7,433.64 575.2,433.57 575.7,433.2 576.2,432.68 576.7,432.2 577.2,431.95 577.7,432.03 578.2,432.35 578.7,432.9 579.2,433.52 579.7,434 580.2,434.2 580.7,434.05 581.2,433.61 581.7,433 582.2,432.42 582.7,432.06 583.2,432.03 583.7,432.33 584.2,432.88 584.7,433.49 585.2,433.99"/>
<circle cx="299.6" cy="339.9" r="2.8" fill="#808080"/>
<circle cx="299.6" cy="357.0" r="2.8" fill="#16a085"/>
<line x1="292.6" x2="306.6" y1="372.9" y2="372.9" stroke="#ff0000" stroke-width="1.8"/>
<line x1="292.6" x2="306.6" y1="389.9" y2="389.9" stroke="#0000ff" stroke-width="1.8"/>
<text x="312.3" y="343.2" font-size="10" font-family="Liberation Sans, sans-serif" fill="#2a2a2a">NEE during non-pulse events</text>
<text x="312.3" y="360.2" font-size="10" font-family="Liberation Sans, sans-serif" fill="#2a2a2a">NEE during pulse events</text>
<text x="312.3" y="377.0" font-size="10" font-family="Liberation Sans, sans-serif" fill="#2a2a2a">FluxPulse <tspan font-style="italic">R</tspan><tspan font-size="6.6" dy="3.1">eco</tspan></text>
<text x="312.3" y="394.0" font-size="10" font-family="Liberation Sans, sans-serif" fill="#2a2a2a">NT method <tspan font-style="italic">R</tspan><tspan font-size="6.6" dy="3.1">eco</tspan></text>
<rect x="40.15" y="325.85" width="571.35" height="191.55" fill="none" stroke="#747474" stroke-width="1.05" stroke-linejoin="round"/>
<line x1="36.8" x2="40.15" y1="646.6" y2="646.6" stroke="#333" stroke-width="0.8"/>
<text x="32" y="650.1" font-size="10" text-anchor="end" font-family="Liberation Sans, sans-serif" fill="#2a2a2a">0</text>
<line x1="36.8" x2="40.15" y1="614.22" y2="614.22" stroke="#333" stroke-width="0.8"/>
<text x="32" y="617.72" font-size="10" text-anchor="end" font-family="Liberation Sans, sans-serif" fill="#2a2a2a">0.2</text>
<line x1="36.8" x2="40.15" y1="581.84" y2="581.84" stroke="#333" stroke-width="0.8"/>
<text x="32" y="585.34" font-size="10" text-anchor="end" font-family="Liberation Sans, sans-serif" fill="#2a2a2a">0.4</text>
<line x1="611.5" x2="614.9" y1="646.5" y2="646.5" stroke="#333" stroke-width="0.8"/>
<text x="619.8" y="650.6" font-size="10" font-family="Liberation Sans, sans-serif" fill="#0000ff">0</text>
<line x1="611.5" x2="614.9" y1="622.2" y2="622.2" stroke="#333" stroke-width="0.8"/>
<text x="619.8" y="626.3" font-size="10" font-family="Liberation Sans, sans-serif" fill="#0000ff">0.3</text>
<line x1="611.5" x2="614.9" y1="597.9" y2="597.9" stroke="#333" stroke-width="0.8"/>
<text x="619.8" y="602" font-size="10" font-family="Liberation Sans, sans-serif" fill="#0000ff">0.6</text>
<line x1="611.5" x2="614.9" y1="573.6" y2="573.6" stroke="#333" stroke-width="0.8"/>
<text x="619.8" y="577.7" font-size="10" font-family="Liberation Sans, sans-serif" fill="#0000ff">0.9</text>
<line x1="182.2" x2="182.2" y1="651.4" y2="654.6" stroke="#333" stroke-width="0.8"/>
<text x="182.2" y="667" font-size="10" text-anchor="middle" font-family="Liberation Sans, sans-serif" fill="#2a2a2a">Jul</text>
<line x1="353.4" x2="353.4" y1="651.4" y2="654.6" stroke="#333" stroke-width="0.8"/>
<text x="353.4" y="667" font-size="10" text-anchor="middle" font-family="Liberation Sans, sans-serif" fill="#2a2a2a">Aug</text>
<line x1="525" x2="525" y1="651.4" y2="654.6" stroke="#333" stroke-width="0.8"/>
<text x="525" y="667" font-size="10" text-anchor="middle" font-family="Liberation Sans, sans-serif" fill="#2a2a2a">Sep</text>
<text x="326.2" y="684.8" font-size="12.2" text-anchor="middle" font-family="Liberation Sans, sans-serif" fill="#2a2a2a">Time</text>
<text transform="translate(8.7,609.7) rotate(-90)" font-size="10.8" text-anchor="middle" font-family="Liberation Sans, sans-serif" fill="#2a2a2a">EF</text>
<text transform="translate(643.5,603.2) rotate(90)" font-size="12.4" text-anchor="middle" font-family="Liberation Sans, sans-serif" fill="#0000ff">Precipitation (mm)</text>
<g fill="#0000ff">
<rect x="80.2" y="631.1" width="2.8" height="16.6"/>
<rect x="101.2" y="641.1" width="1.9" height="6.6"/>
<rect x="102.6" y="617.3" width="2.3" height="30.4"/>
<rect x="106.1" y="644.6" width="1.6" height="3.1"/>
<rect x="107.7" y="632" width="2.6" height="15.7"/>
<rect x="112.4" y="620.8" width="2.8" height="26.9"/>
<rect x="117.8" y="643" width="1.6" height="4.7"/>
<rect x="118.5" y="595.5" width="2.8" height="52.2"/>
<rect x="122.2" y="644.1" width="3.8" height="3.6"/>
<rect x="150.3" y="638.3" width="1.8" height="9.4"/>
<rect x="151.7" y="633.6" width="2.8" height="14.1"/>
<rect x="165.7" y="638.3" width="1.8" height="9.4"/>
<rect x="167.3" y="624.7" width="2.6" height="23"/>
<rect x="205.2" y="644.6" width="2.6" height="3.1"/>
<rect x="211.5" y="640.6" width="1.9" height="7.1"/>
<rect x="213.4" y="643.4" width="1.8" height="4.3"/>
<rect x="216.2" y="640.6" width="2.8" height="7.1"/>
<rect x="219" y="644.1" width="1.4" height="3.6"/>
<rect x="220.8" y="644.8" width="2.8" height="2.9"/>
<rect x="271.8" y="639.2" width="3.2" height="8.5"/>
<rect x="497.4" y="644" width="2.4" height="3.7"/>
<rect x="499.4" y="615" width="2.7" height="32.7"/>
<rect x="504.1" y="643.6" width="2.1" height="4.1"/>
<rect x="505.5" y="630.1" width="2.5" height="17.6"/>
<rect x="509.2" y="641" width="2.5" height="6.7"/>
<rect x="510.7" y="644.4" width="2.4" height="3.3"/>
<rect x="515.2" y="645.2" width="2.8" height="2.5"/>
<rect x="569.1" y="645.2" width="2.9" height="2.5"/>
</g>
<polyline fill="none" stroke="#7a7a7a" stroke-width="2" stroke-linejoin="round" points="65.7,607.5 68.5,615.4 72.7,615.4 75.5,614 78,614.5 80,616.3 83,616.3 85,615 88,615.2 90,617.7 95,617.7 96,609.5 99,609.5 101,610.5 104,610.5 106,608.5 109,608.5 111,606 114,606 116,605.5 117.6,559.8 122.2,559.8 122.9,564 128,564 128.8,586.7 133.4,587.4 134.6,590.9 137.6,591.6 140,602.6 144.4,602.6 145.1,596 149.8,596 150.5,581 155.4,581 156.1,598.6 161,598.6 161.9,613.1 166.1,613.1 166.8,602.8 172,602.8 172.7,619.1 177.8,619.1 178.8,616.3 182.5,616.3 185.3,617.7 189.5,619.6 192.3,619.6 195.8,617 199.3,617 200.5,623.1 205.4,623.1 206.4,615 210.6,615 211.7,618.9 216.2,618.9 217.1,602.3 221.8,602.3 222.5,587.8 227.4,587.8 228.1,604.9 232.7,604.9 233.7,612.4 237.9,611.9 239.5,610.3 246.1,610.7 253.1,611.2 255.4,614.2 257.7,615.9 261.2,613.1 265.2,613.1 269.4,611.9 273.6,610.3 277.4,610.3 278.3,620.5 282.5,620.5 283.4,615.9 288.1,615.9 289,621.5 292.8,621.5 294.2,623.6 299.1,623.6 300.3,621.9 304.5,621.9 306.1,620.1 309.6,620.1 311.5,618.7 315,618.7 317.3,621 320.8,621 324.3,618.2 326.6,619.1 327.8,621.2 332.5,621.2 333.9,613.1 337.6,613.1 339.5,615.9 348.9,616.1 350.5,618.9 354.5,618.9 355.4,623.1 359.9,623.1 361,621.9 365.7,621.9 367.6,620.8 371.5,621.2 377.4,621.9 382.7,621.9 383.2,615.9 387.9,615.9 389.5,615.4 393.7,615.4 394.9,618.2 398.9,618.2 399.8,623.6 404.2,623.6 405.4,628.3 408.2,628.3 411.2,622.9 415.2,623.6 420.6,624.3 422.2,628.3 426.9,628.3"/>
<polyline fill="none" stroke="#7a7a7a" stroke-width="2" stroke-linejoin="round" points="450.3,625.5 455.6,624.7 460.3,618.7 465,618.7 466.1,623.6 470.8,623.6 472,618.7 475.5,618.7 477.8,612.9 482,612.9 482.9,622.8 486.1,622.8 488.2,617.4 491.2,617.4 493.7,597.6 498.4,597.6 499.6,627.3 503.5,627.3 504.5,620.9 507.6,620.9 510.7,565.5 513.1,565.5 515.8,572.1 519.4,572.5 522.1,589.9 523.9,590.9 527,596 529.5,596.6 533.1,606.6 538.2,604.2 542.9,604.2 543.4,617 548.9,617 549.9,612.3 552.6,611.3 555.6,609.3 558.7,608.2 560.9,605.4 563.4,605.4 565.8,620.5 570.9,620.5 576.1,619.9 576.7,616.6 579.7,616.6 583.2,628.7 585.2,628.7"/>
<rect x="40.15" y="555.5" width="571.35" height="95.9" fill="none" stroke="#747474" stroke-width="1.05" stroke-linejoin="round"/>
</svg>
</body></html>
